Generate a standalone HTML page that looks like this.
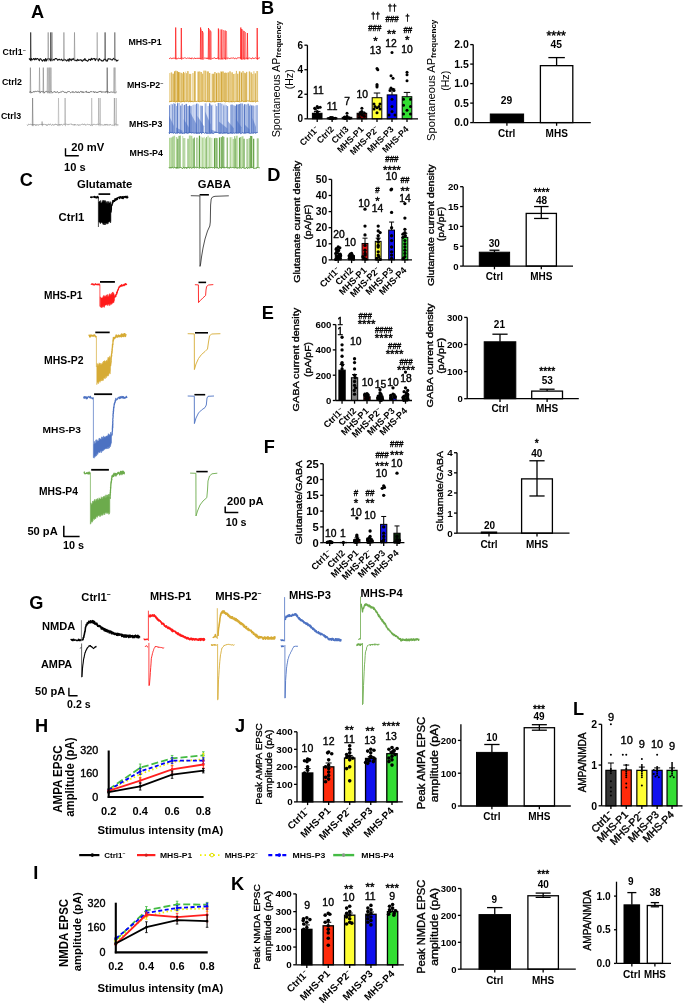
<!DOCTYPE html>
<html><head><meta charset="utf-8"><title>Figure</title>
<style>
html,body{margin:0;padding:0;background:#fff;}
body{width:685px;height:1006px;overflow:hidden;}
svg{display:block;filter:blur(0.3px);}
text{font-family:"Liberation Sans", sans-serif;}
</style></head>
<body>
<svg width="685" height="1006" viewBox="0 0 685 1006" font-family="Liberation Sans, sans-serif">
<rect x="0" y="0" width="685" height="1006" fill="#fff"/>
<text x="31.05" y="18.22" font-size="18.2" font-weight="bold" text-anchor="start" fill="#000">A</text>
<text x="2.60" y="54.85" font-size="8.8" font-weight="bold" text-anchor="start" fill="#000">Ctrl1<tspan font-size="5.3" dy="-3.2">~</tspan></text>
<text x="1.90" y="84.95" font-size="8.8" font-weight="bold" text-anchor="start" fill="#000">Ctrl2</text>
<text x="1.00" y="118.55" font-size="8.8" font-weight="bold" text-anchor="start" fill="#000">Ctrl3</text>
<text x="128.40" y="45.15" font-size="8.8" font-weight="bold" text-anchor="start" fill="#000">MHS-P1</text>
<text x="127.00" y="87.85" font-size="8.8" font-weight="bold" text-anchor="start" fill="#000">MHS-P2<tspan font-size="5.3" dy="-3.2">~</tspan></text>
<text x="129.10" y="126.65" font-size="8.8" font-weight="bold" text-anchor="start" fill="#000">MHS-P3</text>
<text x="129.60" y="155.85" font-size="8.8" font-weight="bold" text-anchor="start" fill="#000">MHS-P4</text>
<path d="M28.90,59.27 L29.70,58.75 L30.50,60.25 L31.30,58.52 L32.10,59.91 L32.90,59.40 L33.70,58.47 L34.50,59.82 L35.30,58.41 L36.10,59.60 L36.90,58.51 L37.70,58.57 L38.50,59.57 L39.30,60.78 L40.10,58.67 L40.90,58.97 L41.70,60.18 L42.50,61.14 L43.30,60.03 L44.10,59.49 L44.90,61.23 L45.70,58.44 L46.50,60.88 L47.30,59.17 L48.10,58.73 L48.90,58.65 L49.70,59.23 L50.50,60.75 L51.30,58.84 L52.10,60.04 L52.90,60.22 L53.70,59.42 L54.50,59.94 L55.30,58.49 L56.10,58.48 L56.90,58.92 L57.70,60.34 L58.50,59.58 L59.30,59.24 L60.10,60.06 L60.90,59.66 L61.70,59.20 L62.50,60.68 L63.30,60.40 L64.10,59.03 L64.90,60.02 L65.70,59.88 L66.50,60.93 L67.30,60.49 L68.10,59.16 L68.90,61.24 L69.70,58.65 L70.50,59.55 L71.30,60.57 L72.10,58.76 L72.90,59.77 L73.70,58.42 L74.50,60.30 L75.30,60.59 L76.10,60.02 L76.90,60.93 L77.70,59.24 L78.50,60.39 L79.30,60.08 L80.10,60.04 L80.90,59.67 L81.70,60.82 L82.50,61.13 L83.30,59.72 L84.10,60.29 L84.90,58.48 L85.70,60.40 L86.50,60.24 L87.30,61.28 L88.10,60.77 L88.90,59.15 L89.70,59.46 L90.50,60.31 L91.30,58.37 L92.10,59.69 L92.90,58.80 L93.70,58.65 L94.50,58.48 L95.30,60.60 L96.10,58.69 L96.90,59.04 L97.70,59.47 L98.50,60.91 L99.30,58.54 L100.10,59.65 L100.90,59.95 L101.70,60.95 L102.50,60.76 L103.30,60.89 L104.10,59.14 L104.90,59.55 L105.70,59.38 L106.50,60.95 L107.30,61.17 L108.10,58.75 L108.90,58.83 L109.70,59.00 L110.50,59.00 L111.30,59.75 L112.10,60.07 L112.90,59.09 L113.70,58.31 L114.50,59.56 L115.30,59.41 L116.10,60.00 L116.90,61.16 L117.70,60.37 L118.50,59.85" stroke="#111" stroke-width="1.1" fill="none" stroke-linejoin="round"/>
<path d="M30.40,60.30 L30.70,32.40 L31.10,61.30" stroke="#000" stroke-width="0.6" fill="none" stroke-linejoin="round"/>
<path d="M47.90,60.30 L48.20,32.40 L48.60,61.30" stroke="#888" stroke-width="0.6" fill="none" stroke-linejoin="round"/>
<path d="M50.50,60.30 L50.80,32.40 L51.20,61.30" stroke="#111" stroke-width="0.6" fill="none" stroke-linejoin="round"/>
<path d="M51.70,60.30 L52.00,32.40 L52.40,61.30" stroke="#777" stroke-width="0.6" fill="none" stroke-linejoin="round"/>
<path d="M63.60,60.30 L63.90,32.40 L64.30,61.30" stroke="#888" stroke-width="0.6" fill="none" stroke-linejoin="round"/>
<path d="M74.20,60.30 L74.50,32.40 L74.90,61.30" stroke="#888" stroke-width="0.6" fill="none" stroke-linejoin="round"/>
<path d="M96.90,60.30 L97.20,32.40 L97.60,61.30" stroke="#999" stroke-width="0.6" fill="none" stroke-linejoin="round"/>
<path d="M104.80,60.30 L105.10,32.40 L105.50,61.30" stroke="#333" stroke-width="0.6" fill="none" stroke-linejoin="round"/>
<path d="M114.50,60.30 L114.80,32.40 L115.20,61.30" stroke="#555" stroke-width="0.6" fill="none" stroke-linejoin="round"/>
<path d="M29.40,92.19 L29.90,92.28 L30.40,91.29 L30.90,92.64 L31.40,92.45 L31.90,92.60 L32.40,92.48 L32.90,91.83 L33.40,91.84 L33.90,91.37 L34.40,92.21 L34.90,91.30 L35.40,91.31 L35.90,91.53 L36.40,91.46 L36.90,91.74 L37.40,91.28 L37.90,91.20 L38.40,91.44 L38.90,91.36 L39.40,91.78 L39.90,91.24 L40.40,92.60 L40.90,92.18 L41.40,91.44 L41.90,91.60 L42.40,91.76 L42.90,91.78 L43.40,91.40 L43.90,92.56 L44.40,92.79 L44.90,91.95 L45.40,91.97 L45.90,91.34 L46.40,91.36 L46.90,91.75 L47.40,91.62 L47.90,92.53 L48.40,91.46 L48.90,91.24 L49.40,92.72 L49.90,92.05 L50.40,91.43 L50.90,92.07 L51.40,91.24 L51.90,92.04 L52.40,92.77 L52.90,92.58 L53.40,92.31 L53.90,91.62 L54.40,91.79 L54.90,91.47 L55.40,92.44 L55.90,92.05 L56.40,92.45 L56.90,91.73 L57.40,91.56 L57.90,92.50 L58.40,92.78 L58.90,92.56 L59.40,92.49 L59.90,92.51 L60.40,92.38 L60.90,91.56 L61.40,92.03 L61.90,91.77 L62.40,91.25 L62.90,91.24 L63.40,91.65 L63.90,91.61 L64.40,92.31 L64.90,92.73 L65.40,91.92 L65.90,92.70 L66.40,92.78 L66.90,92.73 L67.40,91.78 L67.90,91.55 L68.40,91.56 L68.90,91.51 L69.40,91.53 L69.90,92.20 L70.40,92.64 L70.90,92.54 L71.40,91.97 L71.90,92.24 L72.40,92.48 L72.90,91.34 L73.40,92.26 L73.90,92.66 L74.40,92.45 L74.90,92.40 L75.40,91.96 L75.90,91.49 L76.40,92.46 L76.90,91.73 L77.40,92.48 L77.90,92.75 L78.40,91.83 L78.90,91.84 L79.40,92.71 L79.90,92.36 L80.40,91.47 L80.90,91.40 L81.40,91.44 L81.90,92.65 L82.40,92.49 L82.90,91.43 L83.40,92.52 L83.90,92.77 L84.40,92.25 L84.90,91.76 L85.40,92.08 L85.90,91.41 L86.40,91.22 L86.90,92.75 L87.40,92.24 L87.90,92.04 L88.40,92.69 L88.90,91.89 L89.40,92.59 L89.90,92.52 L90.40,91.54 L90.90,91.60 L91.40,91.67 L91.90,91.58 L92.40,92.14 L92.90,91.61 L93.40,91.87 L93.90,91.41 L94.40,92.66 L94.90,91.77 L95.40,91.93 L95.90,92.13 L96.40,92.65 L96.90,91.87 L97.40,92.67 L97.90,92.00 L98.40,92.05 L98.90,92.04 L99.40,91.23 L99.90,91.90 L100.40,91.49 L100.90,91.21 L101.40,92.48 L101.90,91.48 L102.40,91.96 L102.90,92.36 L103.40,92.09 L103.90,91.72 L104.40,92.03 L104.90,92.09 L105.40,92.45 L105.90,91.37 L106.40,92.10 L106.90,91.60 L107.40,91.64 L107.90,92.44 L108.40,92.01 L108.90,92.10 L109.40,92.42 L109.90,92.66 L110.40,91.91 L110.90,92.18 L111.40,92.01 L111.90,92.02 L112.40,92.31 L112.90,91.92 L113.40,92.05 L113.90,91.96 L114.40,92.71 L114.90,92.32 L115.40,92.60 L115.90,92.71 L116.40,91.62" stroke="#555" stroke-width="0.8" fill="none" stroke-linejoin="round"/>
<path d="M30.10,92.50 L30.40,67.60 L30.80,93.50" stroke="#777" stroke-width="0.55" fill="none" stroke-linejoin="round"/>
<path d="M39.20,92.50 L39.50,67.60 L39.90,93.50" stroke="#888" stroke-width="0.55" fill="none" stroke-linejoin="round"/>
<path d="M43.00,92.50 L43.30,67.60 L43.70,93.50" stroke="#777" stroke-width="0.55" fill="none" stroke-linejoin="round"/>
<path d="M47.10,92.50 L47.40,67.60 L47.80,93.50" stroke="#999" stroke-width="0.55" fill="none" stroke-linejoin="round"/>
<path d="M48.30,92.50 L48.60,67.60 L49.00,93.50" stroke="#aaa" stroke-width="0.55" fill="none" stroke-linejoin="round"/>
<path d="M49.10,92.50 L49.40,67.60 L49.80,93.50" stroke="#999" stroke-width="0.55" fill="none" stroke-linejoin="round"/>
<path d="M49.90,92.50 L50.20,67.60 L50.60,93.50" stroke="#aaa" stroke-width="0.55" fill="none" stroke-linejoin="round"/>
<path d="M50.70,92.50 L51.00,67.60 L51.40,93.50" stroke="#999" stroke-width="0.55" fill="none" stroke-linejoin="round"/>
<path d="M106.90,92.50 L107.20,67.60 L107.60,93.50" stroke="#444" stroke-width="0.55" fill="none" stroke-linejoin="round"/>
<path d="M113.60,92.50 L113.90,67.60 L114.30,93.50" stroke="#aaa" stroke-width="0.55" fill="none" stroke-linejoin="round"/>
<path d="M114.30,92.50 L114.60,67.60 L115.00,93.50" stroke="#999" stroke-width="0.55" fill="none" stroke-linejoin="round"/>
<path d="M115.10,92.50 L115.40,67.60 L115.80,93.50" stroke="#bbb" stroke-width="0.55" fill="none" stroke-linejoin="round"/>
<path d="M27.00,124.80 L27.50,125.41 L28.00,125.24 L28.50,124.12 L29.00,124.09 L29.50,124.61 L30.00,124.02 L30.50,124.29 L31.00,124.02 L31.50,124.97 L32.00,125.15 L32.50,125.34 L33.00,124.15 L33.50,125.05 L34.00,124.96 L34.50,124.13 L35.00,125.31 L35.50,125.45 L36.00,124.25 L36.50,125.42 L37.00,124.54 L37.50,124.68 L38.00,125.48 L38.50,125.23 L39.00,124.16 L39.50,124.59 L40.00,124.72 L40.50,124.44 L41.00,124.21 L41.50,124.41 L42.00,125.06 L42.50,123.93 L43.00,124.79 L43.50,124.60 L44.00,123.93 L44.50,124.43 L45.00,124.90 L45.50,124.72 L46.00,124.00 L46.50,125.48 L47.00,125.16 L47.50,125.45 L48.00,124.07 L48.50,124.32 L49.00,123.96 L49.50,125.15 L50.00,124.33 L50.50,124.11 L51.00,124.58 L51.50,125.36 L52.00,125.21 L52.50,124.31 L53.00,124.14 L53.50,125.37 L54.00,124.81 L54.50,125.02 L55.00,124.04 L55.50,123.99 L56.00,125.00 L56.50,124.58 L57.00,124.02 L57.50,125.40 L58.00,124.92 L58.50,125.18 L59.00,124.03 L59.50,125.27 L60.00,124.01 L60.50,125.28 L61.00,124.63 L61.50,124.44 L62.00,124.78 L62.50,125.38 L63.00,124.33 L63.50,124.11 L64.00,124.74 L64.50,124.28 L65.00,124.08 L65.50,124.16 L66.00,123.98 L66.50,124.22 L67.00,124.40 L67.50,124.39 L68.00,125.12 L68.50,124.36 L69.00,124.70 L69.50,124.18 L70.00,124.46 L70.50,123.93 L71.00,124.30 L71.50,123.92 L72.00,125.07 L72.50,124.78 L73.00,124.20 L73.50,124.66 L74.00,125.40 L74.50,124.07 L75.00,125.21 L75.50,124.59 L76.00,124.69 L76.50,125.24 L77.00,124.53 L77.50,124.71 L78.00,125.00 L78.50,125.47 L79.00,124.45 L79.50,125.23 L80.00,125.03 L80.50,124.92 L81.00,124.55 L81.50,124.46 L82.00,123.99 L82.50,124.11 L83.00,124.01 L83.50,125.09 L84.00,124.31 L84.50,124.16 L85.00,124.04 L85.50,125.25 L86.00,125.29 L86.50,124.97 L87.00,124.35 L87.50,124.29 L88.00,124.37 L88.50,124.64 L89.00,124.15 L89.50,124.61 L90.00,124.32 L90.50,125.44 L91.00,125.46 L91.50,124.78 L92.00,124.29 L92.50,125.45 L93.00,124.40 L93.50,124.47 L94.00,123.90 L94.50,124.51 L95.00,124.66 L95.50,124.70 L96.00,124.22 L96.50,124.71 L97.00,123.91 L97.50,124.32 L98.00,124.04 L98.50,124.54 L99.00,123.97 L99.50,123.94 L100.00,124.39 L100.50,124.27 L101.00,124.84 L101.50,124.75 L102.00,125.10 L102.50,124.95 L103.00,125.05 L103.50,125.31 L104.00,124.52 L104.50,124.42 L105.00,125.48 L105.50,124.14 L106.00,125.06 L106.50,124.93 L107.00,123.97 L107.50,125.24 L108.00,125.33 L108.50,124.90 L109.00,125.07 L109.50,125.20 L110.00,124.12 L110.50,124.74 L111.00,124.71 L111.50,125.24 L112.00,125.19 L112.50,125.22 L113.00,124.83 L113.50,125.33 L114.00,124.99 L114.50,125.01 L115.00,124.27 L115.50,123.95 L116.00,124.11 L116.50,124.48 L117.00,124.07 L117.50,125.24 L118.00,124.79 L118.50,124.90" stroke="#999" stroke-width="0.8" fill="none" stroke-linejoin="round"/>
<path d="M32.30,125.20 L32.60,98.00 L33.00,126.20" stroke="#666" stroke-width="0.55" fill="none" stroke-linejoin="round"/>
<path d="M41.80,125.20 L42.10,121.50 L42.50,126.20" stroke="#888" stroke-width="0.55" fill="none" stroke-linejoin="round"/>
<path d="M58.20,125.20 L58.50,98.00 L58.90,126.20" stroke="#aaa" stroke-width="0.55" fill="none" stroke-linejoin="round"/>
<path d="M64.80,125.20 L65.10,98.00 L65.50,126.20" stroke="#999" stroke-width="0.55" fill="none" stroke-linejoin="round"/>
<path d="M91.40,125.20 L91.70,98.00 L92.10,126.20" stroke="#aaa" stroke-width="0.55" fill="none" stroke-linejoin="round"/>
<path d="M98.40,125.20 L98.70,98.00 L99.10,126.20" stroke="#999" stroke-width="0.55" fill="none" stroke-linejoin="round"/>
<path d="M99.90,125.20 L100.20,98.00 L100.60,126.20" stroke="#aaa" stroke-width="0.55" fill="none" stroke-linejoin="round"/>
<path d="M114.10,125.20 L114.40,98.00 L114.80,126.20" stroke="#888" stroke-width="0.55" fill="none" stroke-linejoin="round"/>
<path d="M115.90,125.20 L116.20,98.00 L116.60,126.20" stroke="#aaa" stroke-width="0.55" fill="none" stroke-linejoin="round"/>
<path d="M169.00,58.45 L169.50,58.52 L170.00,58.29 L170.50,57.70 L171.00,58.66 L171.50,58.60 L172.00,58.30 L172.50,58.34 L173.00,58.49 L173.50,57.78 L174.00,58.58 L174.50,58.00 L175.00,57.79 L175.50,58.02 L176.00,58.58 L176.50,57.95 L177.00,58.59 L177.50,58.87 L178.00,58.29 L178.50,58.16 L179.00,58.27 L179.50,58.52 L180.00,58.62 L180.50,58.44 L181.00,58.47 L181.50,57.79 L182.00,57.88 L182.50,58.00 L183.00,58.59 L183.50,58.07 L184.00,58.38 L184.50,57.71 L185.00,57.77 L185.50,58.02 L186.00,58.51 L186.50,58.53 L187.00,58.51 L187.50,58.05 L188.00,58.32 L188.50,58.26 L189.00,58.26 L189.50,57.84 L190.00,58.77 L190.50,57.94 L191.00,58.87 L191.50,58.82 L192.00,57.72 L192.50,58.25 L193.00,58.68 L193.50,58.86 L194.00,58.24 L194.50,58.02 L195.00,57.95 L195.50,58.83 L196.00,57.95 L196.50,58.40 L197.00,57.87 L197.50,58.33 L198.00,58.84 L198.50,57.86 L199.00,58.68 L199.50,58.31 L200.00,58.76 L200.50,58.54 L201.00,57.98 L201.50,58.78 L202.00,58.28 L202.50,57.73 L203.00,57.70 L203.50,58.29 L204.00,58.24 L204.50,58.06 L205.00,57.87 L205.50,58.11 L206.00,58.08 L206.50,58.71 L207.00,57.70 L207.50,58.60 L208.00,58.71 L208.50,57.84 L209.00,58.81 L209.50,58.56 L210.00,58.78 L210.50,58.05 L211.00,58.15 L211.50,58.17 L212.00,58.90 L212.50,58.41 L213.00,58.13 L213.50,58.21 L214.00,58.03 L214.50,57.76 L215.00,57.82 L215.50,58.70 L216.00,58.04 L216.50,58.82 L217.00,58.00 L217.50,58.02 L218.00,58.31 L218.50,57.93 L219.00,58.15 L219.50,58.85 L220.00,58.76 L220.50,58.67 L221.00,58.46 L221.50,58.80 L222.00,58.83 L222.50,58.36 L223.00,58.56 L223.50,57.76 L224.00,58.58 L224.50,58.24 L225.00,58.60 L225.50,58.47 L226.00,58.04 L226.50,57.76 L227.00,58.81 L227.50,57.85 L228.00,58.27 L228.50,58.11 L229.00,58.06 L229.50,58.59 L230.00,58.87 L230.50,58.01 L231.00,58.49 L231.50,58.06 L232.00,58.37 L232.50,58.17 L233.00,57.90 L233.50,57.89 L234.00,57.95 L234.50,58.79 L235.00,58.30 L235.50,57.96 L236.00,58.79 L236.50,58.90 L237.00,58.24 L237.50,57.87 L238.00,57.93 L238.50,57.81 L239.00,58.11 L239.50,57.81 L240.00,57.99 L240.50,58.01 L241.00,58.38 L241.50,58.76 L242.00,58.60 L242.50,58.20 L243.00,58.20 L243.50,58.33 L244.00,58.15 L244.50,58.11 L245.00,57.77 L245.50,58.03 L246.00,58.86 L246.50,57.85 L247.00,58.30 L247.50,58.46 L248.00,58.74 L248.50,57.96 L249.00,58.03 L249.50,58.00 L250.00,58.18 L250.50,58.24 L251.00,58.84 L251.50,58.72 L252.00,58.75 L252.50,57.73 L253.00,57.74 L253.50,58.55 L254.00,58.77 L254.50,58.27 L255.00,58.40 L255.50,57.70 L256.00,58.17 L256.50,58.81 L257.00,58.69 L257.50,58.73 L258.00,58.87 L258.50,58.00 L259.00,57.83 L259.50,57.89 L260.00,58.33" stroke="#ff1010" stroke-width="0.8" fill="none" stroke-linejoin="round"/>
<path d="M175.40,58.80 L175.70,27.50 L176.10,59.80" stroke="#ff1010" stroke-width="0.7" fill="none" stroke-linejoin="round"/>
<path d="M181.00,58.80 L181.30,28.00 L181.70,59.80" stroke="#ff1010" stroke-width="0.7" fill="none" stroke-linejoin="round"/>
<path d="M200.30,58.80 L200.60,27.50 L201.00,59.80" stroke="#ff1010" stroke-width="0.7" fill="none" stroke-linejoin="round"/>
<path d="M201.20,58.80 L201.50,29.50 L201.90,59.80" stroke="#ff7070" stroke-width="0.7" fill="none" stroke-linejoin="round"/>
<path d="M202.10,58.80 L202.40,31.00 L202.80,59.80" stroke="#ff1010" stroke-width="0.7" fill="none" stroke-linejoin="round"/>
<path d="M202.90,58.80 L203.20,32.50 L203.60,59.80" stroke="#ff7070" stroke-width="0.7" fill="none" stroke-linejoin="round"/>
<path d="M208.20,58.80 L208.50,28.00 L208.90,59.80" stroke="#ff1010" stroke-width="0.7" fill="none" stroke-linejoin="round"/>
<path d="M209.00,58.80 L209.30,29.00 L209.70,59.80" stroke="#ff7070" stroke-width="0.7" fill="none" stroke-linejoin="round"/>
<path d="M209.90,58.80 L210.20,30.50 L210.60,59.80" stroke="#ff1010" stroke-width="0.7" fill="none" stroke-linejoin="round"/>
<path d="M210.70,58.80 L211.00,31.50 L211.40,59.80" stroke="#ff7070" stroke-width="0.7" fill="none" stroke-linejoin="round"/>
<path d="M218.10,58.80 L218.40,28.50 L218.80,59.80" stroke="#ff1010" stroke-width="0.7" fill="none" stroke-linejoin="round"/>
<path d="M219.90,58.80 L220.20,29.50 L220.60,59.80" stroke="#ff7070" stroke-width="0.7" fill="none" stroke-linejoin="round"/>
<path d="M221.50,58.80 L221.80,29.50 L222.20,59.80" stroke="#ff1010" stroke-width="0.7" fill="none" stroke-linejoin="round"/>
<path d="M223.10,58.80 L223.40,30.00 L223.80,59.80" stroke="#ff7070" stroke-width="0.7" fill="none" stroke-linejoin="round"/>
<path d="M224.80,58.80 L225.10,30.50 L225.50,59.80" stroke="#ff1010" stroke-width="0.7" fill="none" stroke-linejoin="round"/>
<path d="M226.20,58.80 L226.50,31.00 L226.90,59.80" stroke="#ff7070" stroke-width="0.7" fill="none" stroke-linejoin="round"/>
<path d="M240.50,58.80 L240.80,27.50 L241.20,59.80" stroke="#ff1010" stroke-width="0.7" fill="none" stroke-linejoin="round"/>
<path d="M241.50,58.80 L241.80,29.00 L242.20,59.80" stroke="#ff1010" stroke-width="0.7" fill="none" stroke-linejoin="round"/>
<path d="M242.50,58.80 L242.80,30.00 L243.20,59.80" stroke="#ff7070" stroke-width="0.7" fill="none" stroke-linejoin="round"/>
<path d="M243.70,58.80 L244.00,31.00 L244.40,59.80" stroke="#ff1010" stroke-width="0.7" fill="none" stroke-linejoin="round"/>
<path d="M245.20,58.80 L245.50,32.00 L245.90,59.80" stroke="#ff7070" stroke-width="0.7" fill="none" stroke-linejoin="round"/>
<path d="M247.10,58.80 L247.40,33.00 L247.80,59.80" stroke="#ff1010" stroke-width="0.7" fill="none" stroke-linejoin="round"/>
<path d="M256.90,58.80 L257.20,28.00 L257.60,59.80" stroke="#ff1010" stroke-width="0.7" fill="none" stroke-linejoin="round"/>
<rect x="169.00" y="73.03" width="1.59" height="28.47" fill="#eed9a2"/>
<rect x="170.59" y="72.43" width="1.69" height="29.07" fill="#eed9a2"/>
<line x1="171.43" y1="101.50" x2="171.43" y2="72.43" stroke="#cfa231" stroke-width="0.5237277552546532"/>
<rect x="172.28" y="73.72" width="1.72" height="27.78" fill="#eed9a2"/>
<line x1="173.14" y1="101.50" x2="173.14" y2="73.72" stroke="#cfa231" stroke-width="0.8873034658209455"/>
<rect x="174.00" y="71.38" width="1.09" height="30.12" fill="#eed9a2"/>
<line x1="174.55" y1="101.50" x2="174.55" y2="71.38" stroke="#cfa231" stroke-width="0.8817746584300571"/>
<rect x="175.09" y="70.75" width="1.61" height="30.75" fill="#eed9a2"/>
<line x1="175.90" y1="101.50" x2="175.90" y2="70.75" stroke="#cfa231" stroke-width="0.8146620092252215"/>
<rect x="176.70" y="71.28" width="1.46" height="30.22" fill="#eed9a2"/>
<line x1="177.43" y1="101.50" x2="177.43" y2="71.28" stroke="#cfa231" stroke-width="0.8606365382722856"/>
<rect x="178.16" y="72.11" width="0.71" height="29.39" fill="#eed9a2"/>
<line x1="178.52" y1="101.50" x2="178.52" y2="72.11" stroke="#cfa231" stroke-width="1.0753639831380113"/>
<rect x="178.87" y="72.16" width="1.54" height="29.34" fill="#e2c06a"/>
<rect x="180.41" y="72.97" width="1.02" height="28.53" fill="#e2c06a"/>
<rect x="181.43" y="72.86" width="0.73" height="28.64" fill="#eed9a2"/>
<line x1="181.80" y1="101.50" x2="181.80" y2="72.86" stroke="#cfa231" stroke-width="0.7520095232773962"/>
<rect x="182.16" y="73.74" width="1.03" height="27.76" fill="#e2c06a"/>
<rect x="183.19" y="71.97" width="0.74" height="29.53" fill="#eed9a2"/>
<line x1="183.57" y1="101.50" x2="183.57" y2="71.97" stroke="#cfa231" stroke-width="0.9095400097803393"/>
<rect x="183.94" y="73.09" width="0.96" height="28.41" fill="#e2c06a"/>
<rect x="184.90" y="71.59" width="0.97" height="29.91" fill="#eed9a2"/>
<rect x="185.86" y="73.16" width="1.00" height="28.34" fill="#eed9a2"/>
<line x1="186.36" y1="101.50" x2="186.36" y2="73.16" stroke="#cfa231" stroke-width="0.6769597103104356"/>
<rect x="186.86" y="71.16" width="1.94" height="30.34" fill="#eed9a2"/>
<line x1="187.83" y1="101.50" x2="187.83" y2="71.16" stroke="#cfa231" stroke-width="0.6339944831358764"/>
<rect x="188.80" y="73.82" width="1.24" height="27.68" fill="#e2c06a"/>
<rect x="190.04" y="73.91" width="1.21" height="27.59" fill="#eed9a2"/>
<line x1="190.65" y1="101.50" x2="190.65" y2="73.91" stroke="#cfa231" stroke-width="0.5851466465684098"/>
<rect x="192.02" y="73.06" width="1.87" height="28.44" fill="#eed9a2"/>
<rect x="193.89" y="71.15" width="1.91" height="30.35" fill="#eed9a2"/>
<line x1="194.84" y1="101.50" x2="194.84" y2="71.15" stroke="#cfa231" stroke-width="1.0615289309239277"/>
<rect x="197.47" y="71.66" width="1.19" height="29.84" fill="#eed9a2"/>
<line x1="198.07" y1="101.50" x2="198.07" y2="71.66" stroke="#cfa231" stroke-width="0.601556565354575"/>
<rect x="198.66" y="71.73" width="0.70" height="29.77" fill="#eed9a2"/>
<line x1="199.01" y1="101.50" x2="199.01" y2="71.73" stroke="#cfa231" stroke-width="1.0733088994853466"/>
<rect x="199.37" y="71.23" width="0.86" height="30.27" fill="#e2c06a"/>
<rect x="200.23" y="72.01" width="1.77" height="29.49" fill="#e2c06a"/>
<rect x="202.00" y="73.72" width="1.32" height="27.78" fill="#eed9a2"/>
<line x1="202.65" y1="101.50" x2="202.65" y2="73.72" stroke="#cfa231" stroke-width="0.6158157124667281"/>
<rect x="203.31" y="70.61" width="1.17" height="30.89" fill="#e2c06a"/>
<rect x="204.48" y="70.64" width="1.76" height="30.86" fill="#e2c06a"/>
<rect x="206.24" y="71.40" width="0.78" height="30.10" fill="#eed9a2"/>
<rect x="207.02" y="71.45" width="1.87" height="30.05" fill="#eed9a2"/>
<line x1="207.95" y1="101.50" x2="207.95" y2="71.45" stroke="#cfa231" stroke-width="1.0746137631852735"/>
<rect x="208.89" y="73.01" width="1.50" height="28.49" fill="#eed9a2"/>
<line x1="209.64" y1="101.50" x2="209.64" y2="73.01" stroke="#cfa231" stroke-width="0.6898901786993209"/>
<rect x="211.45" y="73.80" width="1.89" height="27.70" fill="#eed9a2"/>
<line x1="212.40" y1="101.50" x2="212.40" y2="73.80" stroke="#cfa231" stroke-width="0.514554022964917"/>
<rect x="213.34" y="73.85" width="1.00" height="27.65" fill="#eed9a2"/>
<line x1="213.84" y1="101.50" x2="213.84" y2="73.85" stroke="#cfa231" stroke-width="1.0723463480607718"/>
<rect x="214.34" y="72.00" width="1.20" height="29.50" fill="#eed9a2"/>
<line x1="214.95" y1="101.50" x2="214.95" y2="72.00" stroke="#cfa231" stroke-width="0.7960843062372831"/>
<rect x="215.55" y="73.31" width="1.91" height="28.19" fill="#eed9a2"/>
<line x1="216.50" y1="101.50" x2="216.50" y2="73.31" stroke="#cfa231" stroke-width="0.9430928079932098"/>
<rect x="217.45" y="72.63" width="1.77" height="28.87" fill="#e2c06a"/>
<rect x="219.22" y="73.24" width="1.12" height="28.26" fill="#eed9a2"/>
<line x1="219.78" y1="101.50" x2="219.78" y2="73.24" stroke="#cfa231" stroke-width="0.5474089228148078"/>
<rect x="220.34" y="71.37" width="0.96" height="30.13" fill="#e2c06a"/>
<rect x="221.30" y="71.64" width="0.74" height="29.86" fill="#eed9a2"/>
<line x1="221.67" y1="101.50" x2="221.67" y2="71.64" stroke="#cfa231" stroke-width="1.08815346252868"/>
<rect x="222.04" y="71.43" width="1.85" height="30.07" fill="#e2c06a"/>
<rect x="223.89" y="72.98" width="0.83" height="28.52" fill="#eed9a2"/>
<line x1="224.30" y1="101.50" x2="224.30" y2="72.98" stroke="#cfa231" stroke-width="0.7681778617494934"/>
<rect x="224.71" y="72.67" width="1.00" height="28.83" fill="#eed9a2"/>
<line x1="225.22" y1="101.50" x2="225.22" y2="72.67" stroke="#cfa231" stroke-width="0.9044651712548731"/>
<rect x="225.72" y="72.83" width="1.67" height="28.67" fill="#e2c06a"/>
<rect x="227.39" y="72.48" width="1.79" height="29.02" fill="#eed9a2"/>
<line x1="228.29" y1="101.50" x2="228.29" y2="72.48" stroke="#cfa231" stroke-width="0.7237826224597834"/>
<rect x="229.18" y="71.37" width="1.66" height="30.13" fill="#eed9a2"/>
<line x1="230.01" y1="101.50" x2="230.01" y2="71.37" stroke="#cfa231" stroke-width="0.6472041781343698"/>
<rect x="230.84" y="72.52" width="0.90" height="28.98" fill="#e2c06a"/>
<rect x="231.74" y="72.28" width="1.21" height="29.22" fill="#e2c06a"/>
<rect x="232.96" y="73.97" width="1.75" height="27.53" fill="#e2c06a"/>
<rect x="234.71" y="73.44" width="1.32" height="28.06" fill="#eed9a2"/>
<rect x="236.03" y="70.92" width="0.75" height="30.58" fill="#eed9a2"/>
<line x1="236.40" y1="101.50" x2="236.40" y2="70.92" stroke="#cfa231" stroke-width="0.6137439084075091"/>
<rect x="236.78" y="73.76" width="1.96" height="27.74" fill="#eed9a2"/>
<line x1="237.76" y1="101.50" x2="237.76" y2="73.76" stroke="#cfa231" stroke-width="0.7233421780735358"/>
<rect x="238.74" y="71.41" width="1.83" height="30.09" fill="#eed9a2"/>
<line x1="239.66" y1="101.50" x2="239.66" y2="71.41" stroke="#cfa231" stroke-width="0.9666657656345765"/>
<rect x="240.57" y="72.59" width="1.93" height="28.91" fill="#eed9a2"/>
<line x1="241.53" y1="101.50" x2="241.53" y2="72.59" stroke="#cfa231" stroke-width="0.8719687879817171"/>
<rect x="242.50" y="70.99" width="0.98" height="30.51" fill="#eed9a2"/>
<line x1="242.99" y1="101.50" x2="242.99" y2="70.99" stroke="#cfa231" stroke-width="0.6223858624691088"/>
<rect x="243.48" y="72.78" width="1.03" height="28.72" fill="#eed9a2"/>
<line x1="244.00" y1="101.50" x2="244.00" y2="72.78" stroke="#cfa231" stroke-width="0.6220650739136802"/>
<rect x="244.51" y="72.87" width="0.71" height="28.63" fill="#eed9a2"/>
<line x1="244.87" y1="101.50" x2="244.87" y2="72.87" stroke="#cfa231" stroke-width="0.6110870597705862"/>
<rect x="245.23" y="73.28" width="1.11" height="28.22" fill="#eed9a2"/>
<line x1="245.78" y1="101.50" x2="245.78" y2="73.28" stroke="#cfa231" stroke-width="0.8288269004978553"/>
<rect x="246.33" y="71.88" width="0.78" height="29.62" fill="#eed9a2"/>
<line x1="246.72" y1="101.50" x2="246.72" y2="71.88" stroke="#cfa231" stroke-width="0.8300825662369378"/>
<rect x="248.65" y="71.49" width="1.60" height="30.01" fill="#eed9a2"/>
<line x1="249.45" y1="101.50" x2="249.45" y2="71.49" stroke="#cfa231" stroke-width="0.6845574576460363"/>
<rect x="250.25" y="72.48" width="1.94" height="29.02" fill="#eed9a2"/>
<line x1="251.22" y1="101.50" x2="251.22" y2="72.48" stroke="#cfa231" stroke-width="0.7143090296421052"/>
<rect x="252.19" y="73.99" width="1.24" height="27.51" fill="#e2c06a"/>
<rect x="253.43" y="71.21" width="0.96" height="30.29" fill="#e2c06a"/>
<rect x="254.39" y="73.37" width="1.87" height="28.13" fill="#eed9a2"/>
<line x1="255.32" y1="101.50" x2="255.32" y2="73.37" stroke="#cfa231" stroke-width="0.7437306102117702"/>
<rect x="256.26" y="71.07" width="1.85" height="30.43" fill="#eed9a2"/>
<line x1="257.18" y1="101.50" x2="257.18" y2="71.07" stroke="#cfa231" stroke-width="0.5089006247447225"/>
<path d="M169.00,101.57 L169.50,101.70 L170.00,102.07 L170.50,100.92 L171.00,101.67 L171.50,101.32 L172.00,101.51 L172.50,101.00 L173.00,101.20 L173.50,101.53 L174.00,102.10 L174.50,100.95 L175.00,101.49 L175.50,101.93 L176.00,102.15 L176.50,101.08 L177.00,100.98 L177.50,102.12 L178.00,102.17 L178.50,101.48 L179.00,100.87 L179.50,102.10 L180.00,101.34 L180.50,102.07 L181.00,101.67 L181.50,101.95 L182.00,101.02 L182.50,101.90 L183.00,101.11 L183.50,101.37 L184.00,101.98 L184.50,101.96 L185.00,101.06 L185.50,101.11 L186.00,101.36 L186.50,101.53 L187.00,101.34 L187.50,100.97 L188.00,101.15 L188.50,101.81 L189.00,102.06 L189.50,100.86 L190.00,101.59 L190.50,101.86 L191.00,100.85 L191.50,101.97 L192.00,100.96 L192.50,101.64 L193.00,101.57 L193.50,101.68 L194.00,101.23 L194.50,101.39 L195.00,101.62 L195.50,101.40 L196.00,101.72 L196.50,101.43 L197.00,101.41 L197.50,100.83 L198.00,101.67 L198.50,101.49 L199.00,101.13 L199.50,101.87 L200.00,101.89 L200.50,101.44 L201.00,101.05 L201.50,101.46 L202.00,100.95 L202.50,100.98 L203.00,101.40 L203.50,100.93 L204.00,101.42 L204.50,101.51 L205.00,100.86 L205.50,101.69 L206.00,100.92 L206.50,101.83 L207.00,101.89 L207.50,101.52 L208.00,100.88 L208.50,101.51 L209.00,101.33 L209.50,102.13 L210.00,100.99 L210.50,102.00 L211.00,102.19 L211.50,101.82 L212.00,101.94 L212.50,101.07 L213.00,102.17 L213.50,101.49 L214.00,102.14 L214.50,102.08 L215.00,101.03 L215.50,101.90 L216.00,102.10 L216.50,100.89 L217.00,101.29 L217.50,101.86 L218.00,101.02 L218.50,102.06 L219.00,101.18 L219.50,101.94 L220.00,101.00 L220.50,101.50 L221.00,102.09 L221.50,101.09 L222.00,101.17 L222.50,101.51 L223.00,101.25 L223.50,100.85 L224.00,101.05 L224.50,101.03 L225.00,102.11 L225.50,101.75 L226.00,102.05 L226.50,101.04 L227.00,101.90 L227.50,100.96 L228.00,101.54 L228.50,101.69 L229.00,101.30 L229.50,102.02 L230.00,101.58 L230.50,101.61 L231.00,102.04 L231.50,100.95 L232.00,102.19 L232.50,101.68 L233.00,101.35 L233.50,101.92 L234.00,101.17 L234.50,102.19 L235.00,101.61 L235.50,101.30 L236.00,101.87 L236.50,101.42 L237.00,101.05 L237.50,101.84 L238.00,100.87 L238.50,101.95 L239.00,101.16 L239.50,101.69 L240.00,102.18 L240.50,101.62 L241.00,101.73 L241.50,101.24 L242.00,100.80 L242.50,100.85 L243.00,101.01 L243.50,101.66 L244.00,101.41 L244.50,101.52 L245.00,102.05 L245.50,100.98 L246.00,101.12 L246.50,101.71 L247.00,100.83 L247.50,100.80 L248.00,101.30 L248.50,100.95 L249.00,101.30 L249.50,101.11 L250.00,101.62 L250.50,101.62 L251.00,101.09 L251.50,101.67 L252.00,101.46 L252.50,100.99 L253.00,102.11 L253.50,101.14 L254.00,101.01 L254.50,100.93 L255.00,101.69 L255.50,102.02 L256.00,101.90 L256.50,101.36 L257.00,101.17 L257.50,100.82 L258.00,101.70" stroke="#cfa231" stroke-width="1.0" fill="none" stroke-linejoin="round"/>
<rect x="169.00" y="105.26" width="1.43" height="27.74" fill="#bfcdee"/>
<line x1="169.72" y1="133.00" x2="169.72" y2="105.26" stroke="#4569bd" stroke-width="0.7662525427425568"/>
<rect x="170.43" y="103.87" width="1.92" height="29.13" fill="#bfcdee"/>
<rect x="172.35" y="104.42" width="0.76" height="28.58" fill="#bfcdee"/>
<line x1="172.73" y1="133.00" x2="172.73" y2="104.42" stroke="#4569bd" stroke-width="0.642601283606365"/>
<rect x="173.11" y="103.04" width="0.78" height="29.96" fill="#a3b8e4"/>
<rect x="173.88" y="103.70" width="1.92" height="29.30" fill="#bfcdee"/>
<line x1="174.84" y1="133.00" x2="174.84" y2="103.70" stroke="#4569bd" stroke-width="0.8648497818828838"/>
<rect x="175.81" y="105.85" width="1.36" height="27.15" fill="#a3b8e4"/>
<rect x="177.16" y="103.17" width="1.10" height="29.83" fill="#bfcdee"/>
<line x1="177.72" y1="133.00" x2="177.72" y2="103.17" stroke="#4569bd" stroke-width="1.0336114543272825"/>
<rect x="178.27" y="103.02" width="1.72" height="29.98" fill="#bfcdee"/>
<rect x="179.98" y="105.60" width="1.67" height="27.40" fill="#bfcdee"/>
<line x1="180.82" y1="133.00" x2="180.82" y2="105.60" stroke="#4569bd" stroke-width="0.7714923434349524"/>
<rect x="181.65" y="103.81" width="0.99" height="29.19" fill="#bfcdee"/>
<line x1="182.15" y1="133.00" x2="182.15" y2="103.81" stroke="#4569bd" stroke-width="0.52329053784877"/>
<rect x="182.65" y="105.43" width="1.14" height="27.57" fill="#bfcdee"/>
<rect x="183.78" y="104.94" width="1.63" height="28.06" fill="#bfcdee"/>
<line x1="184.60" y1="133.00" x2="184.60" y2="104.94" stroke="#4569bd" stroke-width="0.7616316334265487"/>
<rect x="185.41" y="103.93" width="1.72" height="29.07" fill="#bfcdee"/>
<line x1="186.27" y1="133.00" x2="186.27" y2="103.93" stroke="#4569bd" stroke-width="0.8852019113089322"/>
<rect x="187.13" y="106.08" width="1.95" height="26.92" fill="#bfcdee"/>
<line x1="188.11" y1="133.00" x2="188.11" y2="106.08" stroke="#4569bd" stroke-width="0.5091366239030789"/>
<rect x="189.09" y="105.60" width="1.04" height="27.40" fill="#bfcdee"/>
<line x1="189.61" y1="133.00" x2="189.61" y2="105.60" stroke="#4569bd" stroke-width="1.0668187372052058"/>
<rect x="190.13" y="106.08" width="1.67" height="26.92" fill="#bfcdee"/>
<line x1="190.96" y1="133.00" x2="190.96" y2="106.08" stroke="#4569bd" stroke-width="0.6971322354729366"/>
<rect x="191.80" y="105.21" width="1.01" height="27.79" fill="#bfcdee"/>
<rect x="192.81" y="104.64" width="1.56" height="28.36" fill="#bfcdee"/>
<rect x="194.37" y="104.53" width="1.61" height="28.47" fill="#bfcdee"/>
<rect x="195.98" y="103.74" width="1.44" height="29.26" fill="#bfcdee"/>
<line x1="196.70" y1="133.00" x2="196.70" y2="103.74" stroke="#4569bd" stroke-width="0.8735732417643023"/>
<rect x="197.42" y="103.51" width="0.80" height="29.49" fill="#a3b8e4"/>
<rect x="198.22" y="104.21" width="0.84" height="28.79" fill="#a3b8e4"/>
<rect x="199.80" y="105.58" width="1.52" height="27.42" fill="#a3b8e4"/>
<rect x="201.32" y="105.86" width="1.47" height="27.14" fill="#bfcdee"/>
<line x1="202.06" y1="133.00" x2="202.06" y2="105.86" stroke="#4569bd" stroke-width="0.9917379999185836"/>
<rect x="204.65" y="103.37" width="1.89" height="29.63" fill="#a3b8e4"/>
<rect x="207.38" y="105.89" width="1.76" height="27.11" fill="#bfcdee"/>
<rect x="209.14" y="103.34" width="1.07" height="29.66" fill="#bfcdee"/>
<line x1="209.67" y1="133.00" x2="209.67" y2="103.34" stroke="#4569bd" stroke-width="0.9544183387442835"/>
<rect x="210.21" y="104.48" width="0.97" height="28.52" fill="#bfcdee"/>
<line x1="210.70" y1="133.00" x2="210.70" y2="104.48" stroke="#4569bd" stroke-width="0.5125510767887569"/>
<rect x="211.18" y="105.51" width="1.03" height="27.49" fill="#bfcdee"/>
<line x1="211.70" y1="133.00" x2="211.70" y2="105.51" stroke="#4569bd" stroke-width="0.7208145912453569"/>
<rect x="212.21" y="104.76" width="1.12" height="28.24" fill="#bfcdee"/>
<rect x="214.83" y="104.21" width="1.27" height="28.79" fill="#bfcdee"/>
<rect x="216.10" y="106.02" width="1.40" height="26.98" fill="#bfcdee"/>
<line x1="216.80" y1="133.00" x2="216.80" y2="106.02" stroke="#4569bd" stroke-width="0.5545337240749936"/>
<rect x="217.50" y="103.00" width="1.77" height="30.00" fill="#bfcdee"/>
<line x1="218.38" y1="133.00" x2="218.38" y2="103.00" stroke="#4569bd" stroke-width="0.6212211010828673"/>
<rect x="219.27" y="103.02" width="1.69" height="29.98" fill="#a3b8e4"/>
<rect x="220.96" y="103.65" width="1.34" height="29.35" fill="#a3b8e4"/>
<rect x="222.29" y="103.91" width="1.15" height="29.09" fill="#bfcdee"/>
<rect x="223.45" y="105.45" width="1.07" height="27.55" fill="#bfcdee"/>
<line x1="223.98" y1="133.00" x2="223.98" y2="105.45" stroke="#4569bd" stroke-width="0.7989893622657256"/>
<rect x="224.52" y="103.28" width="0.84" height="29.72" fill="#bfcdee"/>
<rect x="225.36" y="105.20" width="1.61" height="27.80" fill="#a3b8e4"/>
<rect x="226.96" y="106.12" width="1.22" height="26.88" fill="#bfcdee"/>
<line x1="227.58" y1="133.00" x2="227.58" y2="106.12" stroke="#4569bd" stroke-width="0.551703742543444"/>
<rect x="230.04" y="104.75" width="1.04" height="28.25" fill="#a3b8e4"/>
<rect x="231.08" y="104.61" width="1.85" height="28.39" fill="#bfcdee"/>
<line x1="232.01" y1="133.00" x2="232.01" y2="104.61" stroke="#4569bd" stroke-width="0.8189267512891665"/>
<rect x="232.93" y="105.26" width="1.68" height="27.74" fill="#a3b8e4"/>
<rect x="234.61" y="105.95" width="1.12" height="27.05" fill="#bfcdee"/>
<line x1="235.18" y1="133.00" x2="235.18" y2="105.95" stroke="#4569bd" stroke-width="0.8972601065951704"/>
<rect x="235.74" y="104.54" width="1.66" height="28.46" fill="#bfcdee"/>
<line x1="236.57" y1="133.00" x2="236.57" y2="104.54" stroke="#4569bd" stroke-width="0.9640611108714918"/>
<rect x="237.40" y="104.62" width="1.45" height="28.38" fill="#bfcdee"/>
<line x1="238.13" y1="133.00" x2="238.13" y2="104.62" stroke="#4569bd" stroke-width="1.0310753138209752"/>
<rect x="238.86" y="104.06" width="1.01" height="28.94" fill="#bfcdee"/>
<line x1="239.36" y1="133.00" x2="239.36" y2="104.06" stroke="#4569bd" stroke-width="0.9218996978991809"/>
<rect x="239.86" y="103.55" width="1.80" height="29.45" fill="#bfcdee"/>
<line x1="240.76" y1="133.00" x2="240.76" y2="103.55" stroke="#4569bd" stroke-width="0.648548619701683"/>
<rect x="241.66" y="103.56" width="1.12" height="29.44" fill="#bfcdee"/>
<line x1="242.22" y1="133.00" x2="242.22" y2="103.56" stroke="#4569bd" stroke-width="0.6968450439980323"/>
<rect x="242.79" y="105.55" width="0.95" height="27.45" fill="#a3b8e4"/>
<rect x="243.73" y="104.34" width="1.95" height="28.66" fill="#bfcdee"/>
<line x1="244.71" y1="133.00" x2="244.71" y2="104.34" stroke="#4569bd" stroke-width="1.0902996710612736"/>
<rect x="245.68" y="104.52" width="1.73" height="28.48" fill="#a3b8e4"/>
<rect x="247.42" y="103.72" width="1.53" height="29.28" fill="#bfcdee"/>
<line x1="248.18" y1="133.00" x2="248.18" y2="103.72" stroke="#4569bd" stroke-width="0.7330047285433844"/>
<rect x="248.95" y="105.77" width="0.74" height="27.23" fill="#bfcdee"/>
<line x1="249.32" y1="133.00" x2="249.32" y2="105.77" stroke="#4569bd" stroke-width="0.916063610713715"/>
<rect x="249.69" y="104.62" width="1.35" height="28.38" fill="#a3b8e4"/>
<rect x="251.04" y="105.59" width="1.48" height="27.41" fill="#bfcdee"/>
<line x1="251.78" y1="133.00" x2="251.78" y2="105.59" stroke="#4569bd" stroke-width="1.0448023327569276"/>
<rect x="252.53" y="105.62" width="1.26" height="27.38" fill="#bfcdee"/>
<line x1="253.15" y1="133.00" x2="253.15" y2="105.62" stroke="#4569bd" stroke-width="0.7526928820281933"/>
<rect x="253.78" y="106.08" width="1.00" height="26.92" fill="#bfcdee"/>
<rect x="254.78" y="105.38" width="1.61" height="27.62" fill="#bfcdee"/>
<rect x="256.39" y="105.20" width="1.29" height="27.80" fill="#bfcdee"/>
<line x1="257.04" y1="133.00" x2="257.04" y2="105.20" stroke="#4569bd" stroke-width="0.5587200860444198"/>
<path d="M169.00,133.00 L169.00,115.79 L173.94,126.12 L173.94,133.00 Z" fill="#4a70c2" opacity="0.55"/>
<path d="M176.08,133.00 L176.08,127.50 L182.48,130.80 L182.48,133.00 Z" fill="#4a70c2" opacity="0.55"/>
<path d="M183.75,133.00 L183.75,119.33 L188.94,127.53 L188.94,133.00 Z" fill="#4a70c2" opacity="0.55"/>
<path d="M190.17,133.00 L190.17,112.54 L196.90,124.81 L196.90,133.00 Z" fill="#4a70c2" opacity="0.55"/>
<path d="M197.44,133.00 L197.44,115.88 L204.03,126.15 L204.03,133.00 Z" fill="#4a70c2" opacity="0.55"/>
<path d="M205.19,133.00 L205.19,111.56 L210.62,124.42 L210.62,133.00 Z" fill="#4a70c2" opacity="0.55"/>
<path d="M210.74,133.00 L210.74,129.46 L216.54,131.58 L216.54,133.00 Z" fill="#4a70c2" opacity="0.55"/>
<path d="M218.88,133.00 L218.88,121.58 L227.47,128.43 L227.47,133.00 Z" fill="#4a70c2" opacity="0.55"/>
<path d="M227.77,133.00 L227.77,121.10 L233.79,128.24 L233.79,133.00 Z" fill="#4a70c2" opacity="0.55"/>
<path d="M235.95,133.00 L235.95,118.94 L241.53,127.37 L241.53,133.00 Z" fill="#4a70c2" opacity="0.55"/>
<path d="M244.02,133.00 L244.02,123.97 L249.67,129.39 L249.67,133.00 Z" fill="#4a70c2" opacity="0.55"/>
<path d="M252.51,133.00 L252.51,117.94 L255.98,126.98 L255.98,133.00 Z" fill="#4a70c2" opacity="0.55"/>
<path d="M169.00,132.47 L169.50,133.68 L170.00,132.80 L170.50,132.38 L171.00,132.68 L171.50,132.86 L172.00,132.32 L172.50,132.89 L173.00,132.89 L173.50,133.28 L174.00,132.79 L174.50,132.67 L175.00,132.61 L175.50,133.34 L176.00,133.62 L176.50,133.04 L177.00,132.61 L177.50,133.42 L178.00,132.85 L178.50,132.60 L179.00,132.48 L179.50,133.39 L180.00,133.43 L180.50,133.19 L181.00,132.96 L181.50,133.09 L182.00,132.62 L182.50,133.65 L183.00,132.79 L183.50,133.19 L184.00,133.45 L184.50,133.44 L185.00,132.96 L185.50,132.71 L186.00,133.07 L186.50,132.48 L187.00,133.47 L187.50,132.80 L188.00,133.49 L188.50,132.67 L189.00,132.83 L189.50,132.65 L190.00,132.90 L190.50,132.56 L191.00,132.30 L191.50,133.31 L192.00,132.69 L192.50,132.64 L193.00,132.72 L193.50,132.97 L194.00,132.90 L194.50,133.19 L195.00,133.22 L195.50,132.81 L196.00,133.60 L196.50,133.50 L197.00,132.38 L197.50,133.46 L198.00,133.57 L198.50,133.40 L199.00,132.50 L199.50,133.46 L200.00,133.19 L200.50,132.32 L201.00,132.32 L201.50,133.63 L202.00,133.22 L202.50,132.65 L203.00,132.44 L203.50,132.50 L204.00,132.63 L204.50,133.39 L205.00,132.79 L205.50,132.51 L206.00,133.57 L206.50,133.41 L207.00,132.54 L207.50,133.55 L208.00,133.15 L208.50,133.39 L209.00,133.24 L209.50,133.55 L210.00,133.40 L210.50,133.47 L211.00,132.58 L211.50,133.27 L212.00,133.04 L212.50,133.34 L213.00,132.91 L213.50,133.54 L214.00,133.08 L214.50,132.67 L215.00,132.63 L215.50,132.50 L216.00,132.99 L216.50,132.38 L217.00,132.95 L217.50,132.50 L218.00,132.99 L218.50,133.00 L219.00,133.06 L219.50,133.51 L220.00,132.31 L220.50,133.48 L221.00,132.96 L221.50,133.09 L222.00,133.23 L222.50,133.48 L223.00,132.82 L223.50,132.89 L224.00,133.64 L224.50,132.41 L225.00,133.19 L225.50,133.19 L226.00,132.34 L226.50,133.15 L227.00,133.26 L227.50,133.60 L228.00,132.76 L228.50,133.67 L229.00,133.01 L229.50,132.98 L230.00,133.56 L230.50,132.35 L231.00,133.31 L231.50,133.18 L232.00,132.77 L232.50,133.51 L233.00,132.81 L233.50,132.96 L234.00,133.04 L234.50,133.38 L235.00,132.60 L235.50,132.91 L236.00,132.89 L236.50,133.08 L237.00,133.46 L237.50,132.71 L238.00,133.46 L238.50,132.87 L239.00,133.01 L239.50,132.68 L240.00,133.01 L240.50,133.66 L241.00,133.22 L241.50,133.41 L242.00,132.76 L242.50,132.74 L243.00,132.72 L243.50,133.12 L244.00,133.19 L244.50,133.40 L245.00,132.36 L245.50,133.31 L246.00,133.54 L246.50,133.06 L247.00,132.37 L247.50,132.72 L248.00,132.31 L248.50,132.57 L249.00,133.59 L249.50,133.15 L250.00,133.22 L250.50,133.40 L251.00,133.57 L251.50,133.16 L252.00,133.16 L252.50,133.18 L253.00,133.27 L253.50,133.13 L254.00,133.25 L254.50,132.60 L255.00,133.23 L255.50,132.94 L256.00,133.37 L256.50,132.44 L257.00,132.55 L257.50,132.35" stroke="#4569bd" stroke-width="1.0" fill="none" stroke-linejoin="round"/>
<rect x="169.00" y="137.80" width="1.71" height="30.00" fill="#b3d79a"/>
<rect x="170.71" y="137.47" width="1.77" height="30.33" fill="#b3d79a"/>
<rect x="172.48" y="136.61" width="1.09" height="31.19" fill="#d3e9c6"/>
<line x1="173.02" y1="167.80" x2="173.02" y2="136.61" stroke="#5f9e40" stroke-width="0.7584050382658809"/>
<rect x="173.57" y="135.69" width="1.53" height="32.11" fill="#b3d79a"/>
<rect x="175.85" y="137.06" width="1.45" height="30.74" fill="#b3d79a"/>
<rect x="177.30" y="138.78" width="1.20" height="29.02" fill="#d3e9c6"/>
<line x1="177.90" y1="167.80" x2="177.90" y2="138.78" stroke="#5f9e40" stroke-width="1.0884707040576456"/>
<rect x="178.51" y="135.86" width="1.32" height="31.94" fill="#d3e9c6"/>
<line x1="179.16" y1="167.80" x2="179.16" y2="135.86" stroke="#5f9e40" stroke-width="0.8867034948119186"/>
<rect x="179.82" y="135.55" width="0.98" height="32.25" fill="#d3e9c6"/>
<line x1="180.31" y1="167.80" x2="180.31" y2="135.55" stroke="#5f9e40" stroke-width="0.5028699681579804"/>
<rect x="182.39" y="135.95" width="0.81" height="31.85" fill="#b3d79a"/>
<rect x="183.20" y="138.07" width="1.64" height="29.73" fill="#d3e9c6"/>
<line x1="184.02" y1="167.80" x2="184.02" y2="138.07" stroke="#5f9e40" stroke-width="0.6124461990124128"/>
<rect x="184.84" y="138.00" width="0.77" height="29.80" fill="#d3e9c6"/>
<rect x="187.25" y="138.76" width="1.62" height="29.04" fill="#d3e9c6"/>
<line x1="188.06" y1="167.80" x2="188.06" y2="138.76" stroke="#5f9e40" stroke-width="0.6524303402611067"/>
<rect x="188.87" y="135.54" width="1.95" height="32.26" fill="#b3d79a"/>
<rect x="190.83" y="135.78" width="1.55" height="32.02" fill="#b3d79a"/>
<rect x="192.37" y="138.51" width="1.65" height="29.29" fill="#d3e9c6"/>
<line x1="193.20" y1="167.80" x2="193.20" y2="138.51" stroke="#5f9e40" stroke-width="0.7917970833582351"/>
<rect x="194.02" y="137.51" width="0.78" height="30.29" fill="#d3e9c6"/>
<line x1="194.41" y1="167.80" x2="194.41" y2="137.51" stroke="#5f9e40" stroke-width="0.7632342478773089"/>
<rect x="196.38" y="137.70" width="1.17" height="30.10" fill="#d3e9c6"/>
<line x1="196.97" y1="167.80" x2="196.97" y2="137.70" stroke="#5f9e40" stroke-width="0.7507788381440739"/>
<rect x="197.55" y="138.81" width="1.20" height="28.99" fill="#d3e9c6"/>
<rect x="198.75" y="135.71" width="1.44" height="32.09" fill="#d3e9c6"/>
<line x1="199.47" y1="167.80" x2="199.47" y2="135.71" stroke="#5f9e40" stroke-width="1.0843707173360007"/>
<rect x="200.19" y="136.66" width="1.61" height="31.14" fill="#d3e9c6"/>
<rect x="201.80" y="137.60" width="1.97" height="30.20" fill="#b3d79a"/>
<rect x="203.78" y="136.82" width="1.26" height="30.98" fill="#d3e9c6"/>
<rect x="205.03" y="138.33" width="1.48" height="29.47" fill="#b3d79a"/>
<rect x="206.51" y="136.98" width="0.70" height="30.82" fill="#d3e9c6"/>
<line x1="206.87" y1="167.80" x2="206.87" y2="136.98" stroke="#5f9e40" stroke-width="0.8519858103421162"/>
<rect x="207.22" y="135.65" width="1.76" height="32.15" fill="#d3e9c6"/>
<rect x="208.98" y="137.50" width="1.76" height="30.30" fill="#b3d79a"/>
<rect x="210.73" y="137.90" width="1.81" height="29.90" fill="#d3e9c6"/>
<rect x="213.69" y="138.13" width="1.74" height="29.67" fill="#d3e9c6"/>
<line x1="214.56" y1="167.80" x2="214.56" y2="138.13" stroke="#5f9e40" stroke-width="1.0590336381596765"/>
<rect x="215.43" y="137.87" width="1.00" height="29.93" fill="#d3e9c6"/>
<line x1="215.93" y1="167.80" x2="215.93" y2="137.87" stroke="#5f9e40" stroke-width="0.7791937546804815"/>
<rect x="216.43" y="138.13" width="0.97" height="29.67" fill="#d3e9c6"/>
<line x1="216.92" y1="167.80" x2="216.92" y2="138.13" stroke="#5f9e40" stroke-width="0.9749989854617747"/>
<rect x="218.70" y="137.53" width="1.70" height="30.27" fill="#d3e9c6"/>
<line x1="219.55" y1="167.80" x2="219.55" y2="137.53" stroke="#5f9e40" stroke-width="1.0381574612537392"/>
<rect x="220.40" y="137.17" width="1.85" height="30.63" fill="#d3e9c6"/>
<line x1="221.33" y1="167.80" x2="221.33" y2="137.17" stroke="#5f9e40" stroke-width="0.8535971799576414"/>
<rect x="222.25" y="136.13" width="0.95" height="31.67" fill="#d3e9c6"/>
<line x1="222.72" y1="167.80" x2="222.72" y2="136.13" stroke="#5f9e40" stroke-width="0.9206384939989285"/>
<rect x="223.20" y="136.91" width="1.17" height="30.89" fill="#d3e9c6"/>
<line x1="223.78" y1="167.80" x2="223.78" y2="136.91" stroke="#5f9e40" stroke-width="0.810330420093018"/>
<rect x="226.45" y="137.59" width="1.72" height="30.21" fill="#d3e9c6"/>
<line x1="227.31" y1="167.80" x2="227.31" y2="137.59" stroke="#5f9e40" stroke-width="0.7069529948259059"/>
<rect x="229.55" y="137.20" width="1.99" height="30.60" fill="#b3d79a"/>
<rect x="231.54" y="136.99" width="1.04" height="30.81" fill="#d3e9c6"/>
<rect x="232.58" y="138.87" width="1.70" height="28.93" fill="#b3d79a"/>
<rect x="234.27" y="136.13" width="0.75" height="31.67" fill="#d3e9c6"/>
<line x1="234.65" y1="167.80" x2="234.65" y2="136.13" stroke="#5f9e40" stroke-width="0.5501938225069013"/>
<rect x="235.02" y="138.55" width="0.77" height="29.25" fill="#d3e9c6"/>
<line x1="235.41" y1="167.80" x2="235.41" y2="138.55" stroke="#5f9e40" stroke-width="0.774968559236089"/>
<rect x="235.79" y="135.72" width="1.93" height="32.08" fill="#b3d79a"/>
<rect x="238.94" y="137.74" width="1.03" height="30.06" fill="#d3e9c6"/>
<line x1="239.45" y1="167.80" x2="239.45" y2="137.74" stroke="#5f9e40" stroke-width="1.0738520156780744"/>
<rect x="239.97" y="137.07" width="1.57" height="30.73" fill="#d3e9c6"/>
<line x1="240.76" y1="167.80" x2="240.76" y2="137.07" stroke="#5f9e40" stroke-width="0.5958370553146799"/>
<rect x="241.54" y="136.28" width="1.96" height="31.52" fill="#b3d79a"/>
<rect x="243.50" y="138.66" width="1.03" height="29.14" fill="#d3e9c6"/>
<line x1="244.01" y1="167.80" x2="244.01" y2="138.66" stroke="#5f9e40" stroke-width="1.0427433626105755"/>
<rect x="246.32" y="138.95" width="1.62" height="28.85" fill="#d3e9c6"/>
<line x1="247.13" y1="167.80" x2="247.13" y2="138.95" stroke="#5f9e40" stroke-width="0.5334606875526463"/>
<rect x="247.94" y="138.79" width="0.89" height="29.01" fill="#d3e9c6"/>
<rect x="248.83" y="138.15" width="1.09" height="29.65" fill="#d3e9c6"/>
<line x1="249.37" y1="167.80" x2="249.37" y2="138.15" stroke="#5f9e40" stroke-width="0.5632519623818638"/>
<rect x="249.92" y="135.93" width="1.12" height="31.87" fill="#d3e9c6"/>
<line x1="250.48" y1="167.80" x2="250.48" y2="135.93" stroke="#5f9e40" stroke-width="0.7887878852172765"/>
<rect x="251.04" y="136.00" width="0.92" height="31.80" fill="#d3e9c6"/>
<line x1="251.50" y1="167.80" x2="251.50" y2="136.00" stroke="#5f9e40" stroke-width="0.9065856168814141"/>
<rect x="251.96" y="136.18" width="0.72" height="31.62" fill="#b3d79a"/>
<rect x="252.67" y="138.77" width="1.91" height="29.03" fill="#d3e9c6"/>
<line x1="253.63" y1="167.80" x2="253.63" y2="138.77" stroke="#5f9e40" stroke-width="1.0200511740435454"/>
<rect x="256.44" y="138.45" width="0.83" height="29.35" fill="#d3e9c6"/>
<rect x="257.26" y="138.38" width="1.29" height="29.42" fill="#d3e9c6"/>
<line x1="257.91" y1="167.80" x2="257.91" y2="138.38" stroke="#5f9e40" stroke-width="0.7865229731005894"/>
<path d="M169.00,167.18 L169.50,168.10 L170.00,167.87 L170.50,167.30 L171.00,168.32 L171.50,167.47 L172.00,167.68 L172.50,167.32 L173.00,167.48 L173.50,168.28 L174.00,167.57 L174.50,167.33 L175.00,167.79 L175.50,167.55 L176.00,168.36 L176.50,167.26 L177.00,168.47 L177.50,167.18 L178.00,168.35 L178.50,168.04 L179.00,167.40 L179.50,167.77 L180.00,167.50 L180.50,167.46 L181.00,167.38 L181.50,167.61 L182.00,168.49 L182.50,168.50 L183.00,168.40 L183.50,167.24 L184.00,167.51 L184.50,168.35 L185.00,167.18 L185.50,168.12 L186.00,167.51 L186.50,168.47 L187.00,167.12 L187.50,168.23 L188.00,167.58 L188.50,167.30 L189.00,167.10 L189.50,168.27 L190.00,167.84 L190.50,167.36 L191.00,167.71 L191.50,168.38 L192.00,167.41 L192.50,167.90 L193.00,167.29 L193.50,167.35 L194.00,168.18 L194.50,168.10 L195.00,167.38 L195.50,167.21 L196.00,167.22 L196.50,167.95 L197.00,167.79 L197.50,167.48 L198.00,167.39 L198.50,167.96 L199.00,168.09 L199.50,168.24 L200.00,167.92 L200.50,167.38 L201.00,167.19 L201.50,168.13 L202.00,167.67 L202.50,168.11 L203.00,167.18 L203.50,168.23 L204.00,167.57 L204.50,168.28 L205.00,168.31 L205.50,167.79 L206.00,167.12 L206.50,168.37 L207.00,167.77 L207.50,168.32 L208.00,167.47 L208.50,167.36 L209.00,168.26 L209.50,167.61 L210.00,167.33 L210.50,167.62 L211.00,167.93 L211.50,167.11 L212.00,167.83 L212.50,167.72 L213.00,167.82 L213.50,167.27 L214.00,168.10 L214.50,168.24 L215.00,168.31 L215.50,167.55 L216.00,168.10 L216.50,167.63 L217.00,168.15 L217.50,167.19 L218.00,168.32 L218.50,168.44 L219.00,167.79 L219.50,167.82 L220.00,167.84 L220.50,167.85 L221.00,167.13 L221.50,168.45 L222.00,167.41 L222.50,167.36 L223.00,167.24 L223.50,167.45 L224.00,168.24 L224.50,167.14 L225.00,167.24 L225.50,168.08 L226.00,167.37 L226.50,167.12 L227.00,167.94 L227.50,167.91 L228.00,167.83 L228.50,168.08 L229.00,167.24 L229.50,168.32 L230.00,168.10 L230.50,167.16 L231.00,167.27 L231.50,167.79 L232.00,167.80 L232.50,167.49 L233.00,167.27 L233.50,167.67 L234.00,167.29 L234.50,167.93 L235.00,168.31 L235.50,167.31 L236.00,167.90 L236.50,168.15 L237.00,167.33 L237.50,168.26 L238.00,168.41 L238.50,167.64 L239.00,167.69 L239.50,168.28 L240.00,167.84 L240.50,167.65 L241.00,168.42 L241.50,168.19 L242.00,167.57 L242.50,167.44 L243.00,167.57 L243.50,167.71 L244.00,168.47 L244.50,168.23 L245.00,168.38 L245.50,168.24 L246.00,168.29 L246.50,167.17 L247.00,167.82 L247.50,168.44 L248.00,168.41 L248.50,167.45 L249.00,167.69 L249.50,167.99 L250.00,167.61 L250.50,167.84 L251.00,167.20 L251.50,167.71 L252.00,167.81 L252.50,167.13 L253.00,167.30 L253.50,168.46 L254.00,168.19 L254.50,168.41 L255.00,167.99 L255.50,168.23 L256.00,168.34 L256.50,168.34 L257.00,167.15 L257.50,168.00 L258.00,167.47 L258.50,168.05 L259.00,167.48 L259.50,167.86" stroke="#5f9e40" stroke-width="1.0" fill="none" stroke-linejoin="round"/>
<path d="M65.5,148.3 L65.5,155.8 L78.8,155.8" stroke="#000" stroke-width="1.4" fill="none" stroke-linejoin="round" stroke-linejoin="miter"/>
<text x="71.20" y="151.31" font-size="11.2" font-weight="bold" text-anchor="start" fill="#000">20 mV</text>
<text x="64.10" y="171.47" font-size="11.1" font-weight="bold" text-anchor="start" fill="#000">10 s</text>
<text x="260.88" y="14.02" font-size="18.2" font-weight="bold" text-anchor="start" fill="#000">B</text>
<rect x="312.40" y="113.28" width="9.60" height="5.52" fill="#000" stroke="#000" stroke-width="1.0"/>
<rect x="327.30" y="117.82" width="9.60" height="0.98" fill="#000" stroke="#000" stroke-width="1.0"/>
<rect x="342.20" y="117.33" width="9.60" height="1.47" fill="#000" stroke="#000" stroke-width="1.0"/>
<rect x="357.10" y="113.28" width="9.60" height="5.52" fill="#7a0000" stroke="#000" stroke-width="1.0"/>
<rect x="372.20" y="97.70" width="9.60" height="21.10" fill="#ffff33" stroke="#000" stroke-width="1.0"/>
<rect x="387.20" y="94.87" width="9.60" height="23.93" fill="#0000ee" stroke="#000" stroke-width="1.0"/>
<rect x="402.20" y="96.71" width="9.60" height="22.09" fill="#33dd33" stroke="#000" stroke-width="1.0"/>
<line x1="317.20" y1="113.28" x2="317.20" y2="111.44" stroke="#000" stroke-width="1.0"/>
<line x1="313.95" y1="111.44" x2="320.45" y2="111.44" stroke="#000" stroke-width="1.0"/>
<line x1="332.10" y1="117.82" x2="332.10" y2="117.57" stroke="#000" stroke-width="1.0"/>
<line x1="328.85" y1="117.57" x2="335.35" y2="117.57" stroke="#000" stroke-width="1.0"/>
<line x1="347.00" y1="117.33" x2="347.00" y2="116.96" stroke="#000" stroke-width="1.0"/>
<line x1="343.75" y1="116.96" x2="350.25" y2="116.96" stroke="#000" stroke-width="1.0"/>
<line x1="361.90" y1="113.28" x2="361.90" y2="112.05" stroke="#000" stroke-width="1.0"/>
<line x1="358.65" y1="112.05" x2="365.15" y2="112.05" stroke="#000" stroke-width="1.0"/>
<line x1="377.00" y1="97.70" x2="377.00" y2="93.03" stroke="#000" stroke-width="1.0"/>
<line x1="373.75" y1="93.03" x2="380.25" y2="93.03" stroke="#000" stroke-width="1.0"/>
<line x1="392.00" y1="94.87" x2="392.00" y2="88.98" stroke="#000" stroke-width="1.0"/>
<line x1="388.75" y1="88.98" x2="395.25" y2="88.98" stroke="#000" stroke-width="1.0"/>
<line x1="407.00" y1="96.71" x2="407.00" y2="92.42" stroke="#000" stroke-width="1.0"/>
<line x1="403.75" y1="92.42" x2="410.25" y2="92.42" stroke="#000" stroke-width="1.0"/>
<circle cx="317.20" cy="106.53" r="1.5" fill="#000"/>
<circle cx="320.17" cy="107.14" r="1.5" fill="#000"/>
<circle cx="318.05" cy="107.76" r="1.5" fill="#000"/>
<circle cx="314.63" cy="108.37" r="1.5" fill="#000"/>
<circle cx="315.45" cy="108.98" r="1.5" fill="#000"/>
<circle cx="317.20" cy="111.44" r="1.5" fill="#000"/>
<circle cx="317.34" cy="112.66" r="1.5" fill="#000"/>
<circle cx="314.63" cy="113.89" r="1.5" fill="#000"/>
<circle cx="319.76" cy="115.12" r="1.5" fill="#000"/>
<circle cx="316.74" cy="116.35" r="1.5" fill="#000"/>
<circle cx="320.36" cy="117.57" r="1.5" fill="#000"/>
<circle cx="332.10" cy="117.57" r="1.5" fill="#000"/>
<circle cx="330.61" cy="117.57" r="1.5" fill="#000"/>
<circle cx="330.74" cy="117.82" r="1.5" fill="#000"/>
<circle cx="333.13" cy="118.06" r="1.5" fill="#000"/>
<circle cx="329.44" cy="118.19" r="1.5" fill="#000"/>
<circle cx="332.76" cy="118.19" r="1.5" fill="#000"/>
<circle cx="335.29" cy="118.31" r="1.5" fill="#000"/>
<circle cx="332.20" cy="118.43" r="1.5" fill="#000"/>
<circle cx="330.48" cy="118.55" r="1.5" fill="#000"/>
<circle cx="331.86" cy="118.55" r="1.5" fill="#000"/>
<circle cx="332.34" cy="118.68" r="1.5" fill="#000"/>
<circle cx="347.00" cy="113.28" r="1.5" fill="#000"/>
<circle cx="347.00" cy="116.35" r="1.5" fill="#000"/>
<circle cx="344.54" cy="116.96" r="1.5" fill="#000"/>
<circle cx="344.37" cy="117.57" r="1.5" fill="#000"/>
<circle cx="349.56" cy="118.19" r="1.5" fill="#000"/>
<circle cx="344.42" cy="118.19" r="1.5" fill="#000"/>
<circle cx="345.56" cy="118.55" r="1.5" fill="#000"/>
<circle cx="361.90" cy="108.37" r="1.5" fill="#000"/>
<circle cx="361.90" cy="111.44" r="1.5" fill="#000"/>
<circle cx="361.25" cy="112.05" r="1.5" fill="#000"/>
<circle cx="360.42" cy="112.66" r="1.5" fill="#000"/>
<circle cx="364.46" cy="113.28" r="1.5" fill="#000"/>
<circle cx="360.10" cy="113.89" r="1.5" fill="#000"/>
<circle cx="359.01" cy="114.51" r="1.5" fill="#000"/>
<circle cx="362.22" cy="115.12" r="1.5" fill="#000"/>
<circle cx="364.28" cy="116.35" r="1.5" fill="#000"/>
<circle cx="359.33" cy="117.57" r="1.5" fill="#000"/>
<circle cx="377.00" cy="68.49" r="1.5" fill="#000"/>
<circle cx="377.80" cy="69.72" r="1.5" fill="#000"/>
<circle cx="377.00" cy="84.44" r="1.5" fill="#000"/>
<circle cx="377.00" cy="85.67" r="1.5" fill="#000"/>
<circle cx="377.00" cy="86.90" r="1.5" fill="#000"/>
<circle cx="374.00" cy="104.08" r="1.5" fill="#000"/>
<circle cx="380.00" cy="104.08" r="1.5" fill="#000"/>
<circle cx="375.00" cy="106.53" r="1.5" fill="#000"/>
<circle cx="379.00" cy="106.53" r="1.5" fill="#000"/>
<circle cx="377.00" cy="107.76" r="1.5" fill="#000"/>
<circle cx="374.00" cy="108.98" r="1.5" fill="#000"/>
<circle cx="380.00" cy="108.98" r="1.5" fill="#000"/>
<circle cx="377.00" cy="112.66" r="1.5" fill="#000"/>
<circle cx="392.00" cy="52.54" r="1.5" fill="#000"/>
<circle cx="391.00" cy="75.85" r="1.5" fill="#000"/>
<circle cx="393.00" cy="78.31" r="1.5" fill="#000"/>
<circle cx="391.00" cy="88.12" r="1.5" fill="#000"/>
<circle cx="393.00" cy="89.35" r="1.5" fill="#000"/>
<circle cx="390.00" cy="90.58" r="1.5" fill="#000"/>
<circle cx="394.00" cy="90.58" r="1.5" fill="#000"/>
<circle cx="392.00" cy="99.17" r="1.5" fill="#000"/>
<circle cx="392.00" cy="106.53" r="1.5" fill="#000"/>
<circle cx="389.00" cy="115.12" r="1.5" fill="#000"/>
<circle cx="395.00" cy="115.12" r="1.5" fill="#000"/>
<circle cx="392.00" cy="111.44" r="1.5" fill="#000"/>
<circle cx="407.00" cy="72.17" r="1.5" fill="#000"/>
<circle cx="407.00" cy="74.63" r="1.5" fill="#000"/>
<circle cx="407.00" cy="80.76" r="1.5" fill="#000"/>
<circle cx="403.50" cy="99.17" r="1.5" fill="#000"/>
<circle cx="410.50" cy="99.17" r="1.5" fill="#000"/>
<circle cx="403.50" cy="105.30" r="1.5" fill="#000"/>
<circle cx="410.50" cy="106.53" r="1.5" fill="#000"/>
<circle cx="407.00" cy="110.21" r="1.5" fill="#000"/>
<circle cx="403.50" cy="113.89" r="1.5" fill="#000"/>
<circle cx="410.50" cy="113.89" r="1.5" fill="#000"/>
<line x1="307.40" y1="45.18" x2="307.40" y2="118.80" stroke="#000" stroke-width="1.3"/>
<line x1="304.40" y1="118.80" x2="307.40" y2="118.80" stroke="#000" stroke-width="1.3"/>
<text x="303.00" y="122.38" font-size="10.0" font-weight="bold" text-anchor="end" fill="#000">0</text>
<line x1="304.40" y1="94.26" x2="307.40" y2="94.26" stroke="#000" stroke-width="1.3"/>
<text x="303.00" y="97.84" font-size="10.0" font-weight="bold" text-anchor="end" fill="#000">2</text>
<line x1="304.40" y1="69.72" x2="307.40" y2="69.72" stroke="#000" stroke-width="1.3"/>
<text x="303.00" y="73.30" font-size="10.0" font-weight="bold" text-anchor="end" fill="#000">4</text>
<line x1="304.40" y1="45.18" x2="307.40" y2="45.18" stroke="#000" stroke-width="1.3"/>
<text x="303.00" y="48.76" font-size="10.0" font-weight="bold" text-anchor="end" fill="#000">6</text>
<line x1="307.40" y1="118.80" x2="418.00" y2="118.80" stroke="#000" stroke-width="1.3"/>
<line x1="317.20" y1="118.80" x2="317.20" y2="122.00" stroke="#000" stroke-width="1.3"/>
<line x1="332.10" y1="118.80" x2="332.10" y2="122.00" stroke="#000" stroke-width="1.3"/>
<line x1="347.00" y1="118.80" x2="347.00" y2="122.00" stroke="#000" stroke-width="1.3"/>
<line x1="361.90" y1="118.80" x2="361.90" y2="122.00" stroke="#000" stroke-width="1.3"/>
<line x1="377.00" y1="118.80" x2="377.00" y2="122.00" stroke="#000" stroke-width="1.3"/>
<line x1="392.00" y1="118.80" x2="392.00" y2="122.00" stroke="#000" stroke-width="1.3"/>
<line x1="407.00" y1="118.80" x2="407.00" y2="122.00" stroke="#000" stroke-width="1.3"/>
<text x="319.50" y="129.80" font-size="8.8" font-weight="bold" text-anchor="end" transform="rotate(-45 319.50 129.80)">Ctrl1<tspan font-size="5.3" dy="-3.2">~</tspan></text>
<text x="334.40" y="129.80" font-size="8.8" font-weight="bold" text-anchor="end" transform="rotate(-45 334.40 129.80)">Ctrl2</text>
<text x="349.30" y="129.80" font-size="8.8" font-weight="bold" text-anchor="end" transform="rotate(-45 349.30 129.80)">Ctrl3</text>
<text x="364.20" y="129.80" font-size="8.8" font-weight="bold" text-anchor="end" transform="rotate(-45 364.20 129.80)">MHS-P1</text>
<text x="379.30" y="129.80" font-size="8.8" font-weight="bold" text-anchor="end" transform="rotate(-45 379.30 129.80)">MHS-P2<tspan font-size="5.3" dy="-3.2">~</tspan></text>
<text x="394.30" y="129.80" font-size="8.8" font-weight="bold" text-anchor="end" transform="rotate(-45 394.30 129.80)">MHS-P3</text>
<text x="409.30" y="129.80" font-size="8.8" font-weight="bold" text-anchor="end" transform="rotate(-45 409.30 129.80)">MHS-P4</text>
<text x="318.40" y="93.89" font-size="10.3" text-anchor="middle" fill="#000" stroke="#000" stroke-width="0.38">11</text>
<text x="332.10" y="110.19" font-size="10.3" text-anchor="middle" fill="#000" stroke="#000" stroke-width="0.38">11</text>
<text x="347.00" y="105.49" font-size="10.3" text-anchor="middle" fill="#000" stroke="#000" stroke-width="0.38">7</text>
<text x="362.20" y="98.49" font-size="10.3" text-anchor="middle" fill="#000" stroke="#000" stroke-width="0.38">10</text>
<text x="375.60" y="54.49" font-size="10.3" text-anchor="middle" fill="#000" stroke="#000" stroke-width="0.38">13</text>
<text x="375.60" y="45.27" font-size="11.5" text-anchor="middle" fill="#000" stroke="#000" stroke-width="0.38">*</text>
<text x="374.80" y="31.21" font-size="8.5" text-anchor="middle" fill="#000" textLength="13.2" lengthAdjust="spacingAndGlyphs" stroke="#000" stroke-width="0.38">###</text>
<text x="375.40" y="19.30" font-size="8.5" text-anchor="middle" fill="#000" textLength="9.0" lengthAdjust="spacingAndGlyphs" stroke="#000" stroke-width="0.38">††</text>
<text x="391.00" y="47.49" font-size="10.3" text-anchor="middle" fill="#000" stroke="#000" stroke-width="0.38">12</text>
<text x="391.50" y="37.97" font-size="11.5" text-anchor="middle" fill="#000" stroke="#000" stroke-width="0.38">**</text>
<text x="392.10" y="22.01" font-size="8.5" text-anchor="middle" fill="#000" textLength="13.2" lengthAdjust="spacingAndGlyphs" stroke="#000" stroke-width="0.38">###</text>
<text x="392.30" y="11.40" font-size="8.5" text-anchor="middle" fill="#000" textLength="9.0" lengthAdjust="spacingAndGlyphs" stroke="#000" stroke-width="0.38">††</text>
<text x="407.00" y="52.69" font-size="10.3" text-anchor="middle" fill="#000" stroke="#000" stroke-width="0.38">10</text>
<text x="407.20" y="43.97" font-size="11.5" text-anchor="middle" fill="#000" stroke="#000" stroke-width="0.38">*</text>
<text x="407.80" y="33.01" font-size="8.5" text-anchor="middle" fill="#000" textLength="8.8" lengthAdjust="spacingAndGlyphs" stroke="#000" stroke-width="0.38">##</text>
<text x="407.60" y="20.70" font-size="8.5" text-anchor="middle" fill="#000" textLength="4.5" lengthAdjust="spacingAndGlyphs" stroke="#000" stroke-width="0.38">†</text>
<text x="279.59" y="79.15" font-size="10.6" text-anchor="middle" textLength="116.3" lengthAdjust="spacingAndGlyphs" transform="rotate(-90 279.59 79.15)">Spontaneous AP<tspan font-size="7.6" font-weight="bold" dy="1.48">frequency</tspan></text>
<text x="292.79" y="79.30" font-size="10.6" text-anchor="middle" fill="#000" transform="rotate(-90 292.79 79.30)">(Hz)</text>
<rect x="490.30" y="114.02" width="33.30" height="8.58" fill="#000" stroke="#000" stroke-width="1.0"/>
<rect x="540.40" y="65.66" width="32.40" height="56.94" fill="#fff" stroke="#000" stroke-width="1.3"/>
<line x1="556.60" y1="65.66" x2="556.60" y2="57.60" stroke="#000" stroke-width="1.3"/>
<line x1="548.35" y1="57.60" x2="564.85" y2="57.60" stroke="#000" stroke-width="1.3"/>
<line x1="473.20" y1="44.60" x2="473.20" y2="122.60" stroke="#000" stroke-width="1.3"/>
<line x1="470.20" y1="122.60" x2="473.20" y2="122.60" stroke="#000" stroke-width="1.3"/>
<text x="468.80" y="126.36" font-size="10.5" font-weight="bold" text-anchor="end" fill="#000">0.0</text>
<line x1="470.20" y1="103.10" x2="473.20" y2="103.10" stroke="#000" stroke-width="1.3"/>
<text x="468.80" y="106.86" font-size="10.5" font-weight="bold" text-anchor="end" fill="#000">0.5</text>
<line x1="470.20" y1="83.60" x2="473.20" y2="83.60" stroke="#000" stroke-width="1.3"/>
<text x="468.80" y="87.36" font-size="10.5" font-weight="bold" text-anchor="end" fill="#000">1.0</text>
<line x1="470.20" y1="64.10" x2="473.20" y2="64.10" stroke="#000" stroke-width="1.3"/>
<text x="468.80" y="67.86" font-size="10.5" font-weight="bold" text-anchor="end" fill="#000">1.5</text>
<line x1="470.20" y1="44.60" x2="473.20" y2="44.60" stroke="#000" stroke-width="1.3"/>
<text x="468.80" y="48.36" font-size="10.5" font-weight="bold" text-anchor="end" fill="#000">2.0</text>
<line x1="473.20" y1="122.60" x2="590.80" y2="122.60" stroke="#000" stroke-width="1.3"/>
<line x1="506.90" y1="122.60" x2="506.90" y2="125.80" stroke="#000" stroke-width="1.3"/>
<line x1="556.60" y1="122.60" x2="556.60" y2="125.80" stroke="#000" stroke-width="1.3"/>
<text x="506.60" y="104.19" font-size="10.3" font-weight="bold" text-anchor="middle" fill="#000">29</text>
<text x="556.20" y="47.99" font-size="10.3" font-weight="bold" text-anchor="middle" fill="#000">45</text>
<text x="556.20" y="40.08" font-size="12.5" text-anchor="middle" fill="#000" stroke="#000" stroke-width="0.38">****</text>
<text x="506.70" y="136.58" font-size="10.0" font-weight="bold" text-anchor="middle" fill="#000">Ctrl</text>
<text x="556.70" y="136.58" font-size="10.0" font-weight="bold" text-anchor="middle" fill="#000">MHS</text>
<text x="434.99" y="80.30" font-size="10.6" text-anchor="middle" textLength="121.2" lengthAdjust="spacingAndGlyphs" transform="rotate(-90 434.99 80.30)">Spontaneous AP<tspan font-size="7.6" font-weight="bold" dy="1.48">frequency</tspan></text>
<text x="448.69" y="80.80" font-size="10.6" text-anchor="middle" fill="#000" transform="rotate(-90 448.69 80.80)">(Hz)</text>
<text x="19.85" y="186.30" font-size="18.2" font-weight="bold" text-anchor="start" fill="#000">C</text>
<text x="76.90" y="187.95" font-size="11.3" font-weight="bold" text-anchor="start" fill="#000" textLength="55.5" lengthAdjust="spacingAndGlyphs">Glutamate</text>
<text x="197.80" y="187.95" font-size="11.3" font-weight="bold" text-anchor="start" fill="#000" textLength="33.0" lengthAdjust="spacingAndGlyphs">GABA</text>
<text x="58.48" y="220.94" font-size="11.57" font-weight="bold" fill="#000" textLength="25.88" lengthAdjust="spacingAndGlyphs">Ctrl1</text>
<text x="44.07" y="299.05" font-size="10.17" font-weight="bold" fill="#000" textLength="38.36" lengthAdjust="spacingAndGlyphs">MHS-P1</text>
<text x="44.05" y="363.55" font-size="10.73" font-weight="bold" fill="#000" textLength="39.42" lengthAdjust="spacingAndGlyphs">MHS-P2</text>
<text x="42.57" y="432.74" font-size="9.58" font-weight="bold" fill="#000" textLength="38.45" lengthAdjust="spacingAndGlyphs">MHS-P3</text>
<text x="39.06" y="495.15" font-size="10.17" font-weight="bold" fill="#000" textLength="38.84" lengthAdjust="spacingAndGlyphs">MHS-P4</text>
<path d="M90.10,197.42 L90.40,197.34 L90.70,197.50 L91.00,196.61 L91.30,197.62 L91.60,197.12 L91.90,197.30 L92.20,197.42 L92.50,197.14 L92.80,196.82 L93.10,196.69 L93.40,196.65 L93.70,197.22 L94.00,196.97 L94.30,197.37 L94.60,196.23 L94.90,196.91 L95.20,197.92 L95.50,196.68 L95.80,197.31 L96.10,197.18 L96.40,196.77 L96.70,198.17 L97.00,196.80 L97.30,197.74 L97.60,196.52 L97.90,196.34 L98.20,197.94 L98.50,197.08" stroke="#000" stroke-width="1.1" fill="none" stroke-linejoin="round"/>
<line x1="98.40" y1="197.20" x2="98.40" y2="227.00" stroke="#000" stroke-width="0.7"/>
<path d="M98.80,201.99 L99.11,201.73 L99.43,201.81 L99.74,200.91 L100.06,202.82 L100.37,202.91 L100.69,200.34 L101.00,201.75 L101.30,203.27 L101.60,202.84 L101.90,202.65 L102.20,201.44 L102.50,201.53 L102.80,200.29 L103.10,200.29 L103.40,201.44 L103.70,200.40 L104.00,200.23 L104.30,200.40 L104.60,201.78 L104.90,200.78 L105.20,201.39 L105.50,200.57 L105.80,203.45 L106.10,201.32 L106.40,204.00 L106.70,202.37 L107.00,203.40 L107.30,203.59 L107.60,201.30 L107.90,203.11 L108.20,203.48 L108.50,201.96 L108.80,201.37 L109.10,202.51 L109.40,203.12 L109.70,202.81 L110.00,202.68 L110.30,201.56 L110.60,202.84 L110.90,203.00 L110.90,220.80 L110.58,223.03 L110.26,221.25 L109.93,221.88 L109.61,221.42 L109.29,221.55 L108.97,222.39 L108.64,221.99 L108.32,222.06 L108.00,223.89 L107.67,222.45 L107.33,223.44 L107.00,224.28 L106.67,223.09 L106.33,223.52 L106.00,223.01 L105.69,222.96 L105.38,224.91 L105.08,223.32 L104.77,222.95 L104.46,225.01 L104.15,224.46 L103.85,224.44 L103.54,222.94 L103.23,224.69 L102.92,222.63 L102.62,223.39 L102.31,223.33 L102.00,222.55 L101.68,222.62 L101.36,222.38 L101.04,222.67 L100.72,222.70 L100.40,223.73 L100.08,223.39 L99.76,222.05 L99.44,222.05 L99.12,222.34 L98.80,221.87 Z" fill="#000" stroke="#000" stroke-width="0.5"/>
<path d="M110.97,212.06 L110.77,211.38 L110.92,211.55 L111.02,212.06 L111.21,210.77 L111.03,210.81 L111.28,209.81 L111.12,210.70 L111.01,209.14 L111.36,210.12 L111.21,208.02 L111.39,209.18 L111.39,209.64 L111.45,207.90 L111.18,207.27 L111.35,207.51 L111.26,206.40 L111.46,207.16 L111.38,207.84 L111.52,205.15 L111.46,206.72 L111.52,206.18 L111.50,204.91 L111.94,205.32 L111.97,204.04 L112.00,204.63 L112.01,204.57 L112.21,205.15 L112.33,203.38 L112.25,202.44 L112.60,202.01 L112.44,201.87 L112.71,203.21 L112.85,202.87 L112.72,200.57 L113.11,201.05 L113.32,200.94 L113.33,200.53 L113.53,201.94 L113.96,200.35 L114.13,200.25 L114.21,201.33 L114.65,201.31 L114.82,200.26 L114.98,198.62 L115.48,200.47 L115.46,200.39 L115.90,198.70 L116.04,200.16 L116.31,200.04 L116.51,198.54 L117.01,198.02 L117.15,199.58 L117.53,199.28 L117.74,197.62 L118.10,197.56 L118.65,197.73 L118.79,197.20 L119.09,197.79 L119.35,196.89 L119.54,198.71 L119.94,197.16 L120.18,197.22 L120.51,196.57 L120.99,197.31 L121.09,198.20 L121.38,197.07 L121.98,196.68 L122.13,198.43 L122.58,196.70 L122.71,198.08 L123.03,198.65 L123.27,198.60 L123.69,196.74 L123.98,196.47 L124.40,196.77 L124.79,197.56 L124.89,196.67 L125.30,196.56 L125.72,196.31 L125.89,197.34 L126.11,197.88 L126.47,197.57 L126.86,196.67 L127.10,196.07 L127.33,197.97 L127.70,197.47 L127.93,197.18 L128.40,197.00" stroke="#000" stroke-width="1.2" fill="none" stroke-linejoin="round"/>
<line x1="98.50" y1="194.10" x2="110.20" y2="194.10" stroke="#000" stroke-width="1.7"/>
<path d="M190.80,195.70 L199.90,195.90 L200.00,266.40 L200.60,264.00 L201.50,257.00 L203.00,248.00 L205.00,239.00 L207.50,231.00 L209.80,226.00 L210.30,222.00 L210.60,205.00 L211.20,199.00 L212.50,197.00 L215.00,196.30 L228.80,195.80" stroke="#222" stroke-width="0.8" fill="none" stroke-linejoin="round"/>
<line x1="199.60" y1="194.80" x2="208.90" y2="194.80" stroke="#000" stroke-width="1.6"/>
<path d="M90.80,284.20 L91.10,284.40 L91.40,284.11 L91.70,283.77 L92.00,284.13 L92.30,284.01 L92.60,283.86 L92.90,284.71 L93.20,284.09 L93.50,284.26 L93.80,284.99 L94.10,284.80 L94.40,284.95 L94.70,284.92 L95.00,283.87 L95.30,284.08 L95.60,283.72 L95.90,284.66 L96.20,284.64 L96.50,284.19 L96.80,284.27 L97.10,284.63 L97.40,284.69 L97.70,284.04 L98.00,284.90 L98.30,284.19 L98.60,284.59 L98.90,283.94 L99.20,283.85 L99.50,284.99 L99.80,284.74" stroke="#ff1a1a" stroke-width="1.1" fill="none" stroke-linejoin="round"/>
<line x1="99.90" y1="284.40" x2="99.90" y2="306.40" stroke="#ff1a1a" stroke-width="0.7"/>
<path d="M100.30,296.78 L100.61,298.32 L100.93,298.25 L101.24,298.10 L101.55,297.98 L101.87,297.74 L102.18,297.50 L102.49,297.88 L102.81,297.50 L103.12,296.44 L103.43,297.56 L103.75,295.34 L104.06,296.48 L104.37,295.80 L104.69,297.17 L105.00,296.69 L105.31,295.73 L105.62,296.77 L105.94,297.09 L106.25,294.80 L106.56,295.03 L106.88,296.63 L107.19,296.81 L107.50,294.42 L107.81,295.50 L108.12,296.61 L108.44,296.35 L108.75,296.44 L109.06,294.40 L109.38,296.20 L109.69,293.59 L110.00,294.40 L110.30,296.03 L110.60,294.36 L110.90,295.25 L111.20,293.81 L111.50,293.25 L111.80,295.05 L112.10,295.12 L112.40,292.13 L112.70,294.27 L113.00,291.93 L113.30,293.43 L113.60,293.47 L113.90,293.28 L114.20,294.48 L114.50,296.00 L114.50,300.50 L114.19,300.81 L113.88,302.71 L113.56,302.73 L113.25,302.11 L112.94,302.74 L112.62,303.22 L112.31,302.49 L112.00,304.09 L111.69,303.54 L111.38,304.53 L111.08,303.31 L110.77,303.92 L110.46,303.33 L110.15,305.27 L109.85,303.72 L109.54,303.92 L109.23,305.84 L108.92,304.33 L108.62,304.61 L108.31,304.22 L108.00,304.34 L107.69,305.36 L107.38,305.57 L107.08,304.50 L106.77,304.77 L106.46,304.72 L106.15,305.11 L105.85,305.10 L105.54,304.89 L105.23,305.11 L104.92,305.76 L104.62,306.11 L104.31,307.47 L104.00,306.02 L103.69,305.56 L103.38,307.04 L103.08,306.76 L102.77,305.67 L102.46,307.15 L102.15,305.89 L101.84,308.01 L101.53,306.66 L101.22,306.57 L100.92,307.39 L100.61,306.32 L100.30,306.89 Z" fill="#ff1a1a" stroke="#ff1a1a" stroke-width="0.5"/>
<path d="M114.42,297.72 L114.53,296.84 L114.70,296.83 L115.01,297.04 L114.92,296.51 L115.20,296.30 L115.22,295.44 L115.30,296.97 L115.74,294.89 L115.87,296.38 L115.95,294.37 L116.07,294.73 L116.09,294.66 L116.16,295.12 L116.56,294.25 L116.77,294.01 L116.60,292.91 L116.66,292.18 L117.01,293.50 L116.92,291.91 L117.16,292.92 L117.37,291.29 L117.41,292.31 L117.50,291.02 L117.37,291.71 L117.53,290.51 L117.72,290.22 L117.93,289.67 L117.72,290.03 L118.05,290.23 L118.23,290.11 L118.48,289.01 L118.45,288.05 L118.52,288.60 L118.58,288.52 L118.77,287.75 L119.24,286.76 L119.02,287.16 L119.23,287.43 L119.30,287.37 L119.89,287.08 L119.97,285.90 L120.31,286.18 L120.47,285.65 L120.73,286.11 L121.13,286.40 L121.15,285.08 L121.55,285.50 L121.80,284.65 L121.98,284.79 L122.41,285.96 L122.88,285.64 L123.19,285.71 L123.36,285.39 L123.44,285.09 L123.97,284.31 L124.26,285.57 L124.53,284.94 L124.77,284.31 L125.31,283.65 L125.34,284.91 L125.75,283.70 L126.14,284.24 L126.42,284.30 L126.70,284.56 L127.00,284.40" stroke="#ff1a1a" stroke-width="1.2" fill="none" stroke-linejoin="round"/>
<line x1="100.00" y1="281.90" x2="114.90" y2="281.90" stroke="#000" stroke-width="1.8"/>
<path d="M194.90,284.70 L198.40,284.90 L198.50,302.60 L200.00,300.80 L203.00,297.80 L205.60,295.50 L206.00,290.00 L206.60,286.50 L208.50,285.00 L213.30,284.60" stroke="#ff1a1a" stroke-width="0.9" fill="none" stroke-linejoin="round"/>
<line x1="198.50" y1="282.40" x2="206.10" y2="282.40" stroke="#000" stroke-width="1.6"/>
<path d="M88.70,335.72 L89.00,334.96 L89.30,335.14 L89.60,337.05 L89.90,336.13 L90.20,334.95 L90.50,336.98 L90.80,335.33 L91.10,334.91 L91.40,336.08 L91.70,335.33 L92.00,335.97 L92.30,336.15 L92.60,335.26 L92.90,336.20 L93.20,334.96 L93.50,336.04 L93.80,336.24 L94.10,334.87 L94.40,335.75 L94.70,334.85 L95.00,335.84 L95.30,336.98 L95.60,336.14 L95.90,336.58 L96.20,336.69" stroke="#d6ab35" stroke-width="1.1" fill="none" stroke-linejoin="round"/>
<line x1="96.40" y1="336.00" x2="96.40" y2="367.00" stroke="#d6ab35" stroke-width="0.7"/>
<path d="M96.80,366.56 L97.14,363.34 L97.48,364.69 L97.82,366.21 L98.16,363.91 L98.50,365.51 L98.81,365.75 L99.12,362.74 L99.42,364.52 L99.73,363.46 L100.04,365.17 L100.35,363.15 L100.65,364.91 L100.96,364.59 L101.27,364.17 L101.58,364.46 L101.88,363.18 L102.19,364.01 L102.50,363.71 L102.81,362.29 L103.12,363.20 L103.42,361.15 L103.73,362.33 L104.04,361.03 L104.35,362.34 L104.65,360.55 L104.96,360.71 L105.27,362.94 L105.58,361.14 L105.88,362.44 L106.19,360.84 L106.50,361.12 L106.81,359.91 L107.12,361.53 L107.44,360.62 L107.75,358.81 L108.06,357.16 L108.38,357.86 L108.69,359.01 L109.00,357.33 L109.30,358.27 L109.60,357.14 L109.90,355.84 L110.20,357.66 L110.50,357.50 L110.50,370.00 L110.10,374.12 L109.77,372.66 L109.45,373.15 L109.12,373.25 L108.79,374.48 L108.46,375.76 L108.14,374.64 L107.81,376.33 L107.48,375.02 L107.15,375.85 L106.83,376.02 L106.50,377.11 L106.19,377.84 L105.88,376.54 L105.58,376.70 L105.27,378.46 L104.96,378.98 L104.65,377.99 L104.35,377.67 L104.04,378.13 L103.73,378.08 L103.42,380.47 L103.12,380.11 L102.81,379.91 L102.50,379.70 L102.19,381.07 L101.88,379.51 L101.58,380.04 L101.27,381.06 L100.96,380.36 L100.65,381.12 L100.35,380.70 L100.04,382.38 L99.73,381.11 L99.42,381.31 L99.12,381.57 L98.81,382.58 L98.50,383.69 L98.16,382.60 L97.82,382.33 L97.48,382.52 L97.14,383.57 L96.80,384.66 Z" fill="#d6ab35" stroke="#d6ab35" stroke-width="0.5"/>
<path d="M110.54,364.56 L110.40,365.26 L110.55,365.64 L110.55,364.63 L110.42,365.04 L110.59,362.97 L110.67,365.71 L110.53,362.76 L110.81,362.86 L110.68,363.27 L110.71,363.19 L110.84,364.11 L111.06,360.90 L110.92,362.91 L111.07,362.62 L111.01,361.88 L110.93,360.46 L111.13,362.02 L111.22,361.12 L111.00,361.07 L111.20,359.97 L111.19,359.17 L111.19,359.04 L111.02,358.52 L111.16,360.27 L111.25,358.01 L111.19,357.29 L111.26,356.67 L111.15,358.68 L111.36,357.04 L111.44,356.29 L111.31,355.24 L111.39,355.70 L111.59,356.16 L111.71,355.19 L111.73,355.66 L111.42,354.08 L111.65,356.32 L111.59,355.35 L111.65,355.34 L111.54,353.83 L111.90,352.87 L111.68,351.77 L111.67,352.24 L111.92,351.78 L111.82,351.42 L111.94,353.21 L111.98,350.80 L112.05,352.91 L112.03,349.83 L112.14,352.03 L111.98,349.40 L111.95,350.36 L112.26,350.38 L112.31,348.73 L112.10,350.12 L112.26,348.73 L112.30,348.22 L112.08,348.15 L112.11,348.52 L112.25,347.80 L112.39,346.75 L112.36,345.68 L112.58,347.11 L112.63,345.21 L112.52,347.01 L112.43,344.72 L112.40,344.57 L112.69,344.11 L112.75,344.86 L112.68,345.08 L112.72,345.00 L112.78,343.67 L112.88,343.14 L112.90,344.43 L112.97,342.70 L113.01,344.50 L112.92,342.00 L112.99,343.79 L112.87,340.55 L113.05,342.29 L113.21,341.07 L113.34,340.34 L113.28,339.61 L113.03,339.45 L113.08,340.31 L113.32,339.00 L113.52,339.28 L113.24,338.38 L113.52,340.43 L113.32,337.32 L113.61,337.69 L113.92,338.27 L114.01,337.55 L114.30,337.69 L114.34,338.86 L114.48,338.10 L114.69,337.59 L115.05,338.06 L115.14,336.88 L115.51,337.77 L115.95,336.63 L115.89,335.22 L116.21,335.75 L116.51,334.99 L117.03,336.33 L117.15,337.40 L117.43,336.03 L117.71,336.91 L118.30,335.00 L118.56,336.71 L118.68,335.12 L119.07,336.85 L119.25,336.15 L119.73,335.39 L120.03,336.71 L120.18,336.69 L120.54,336.34 L121.05,334.43 L121.35,336.97 L121.42,333.89 L121.64,336.86 L121.90,336.64 L122.26,336.06 L122.54,334.25 L123.07,333.98 L123.24,336.57 L123.69,336.43 L124.09,333.73 L124.09,336.10 L124.58,333.70 L124.80,334.29 L125.07,333.87 L125.21,336.64 L125.63,336.26 L125.85,335.01 L126.15,334.80 L126.60,335.00" stroke="#d6ab35" stroke-width="1.2" fill="none" stroke-linejoin="round"/>
<line x1="95.30" y1="332.40" x2="109.70" y2="332.40" stroke="#000" stroke-width="1.7"/>
<path d="M187.70,333.70 L194.30,333.90 L194.40,369.60 L196.00,364.00 L198.50,358.50 L201.50,354.50 L205.00,351.50 L207.50,349.00 L208.50,342.00 L209.50,336.00 L211.50,334.00 L220.40,333.70" stroke="#d6ab35" stroke-width="0.9" fill="none" stroke-linejoin="round"/>
<line x1="195.00" y1="332.80" x2="208.00" y2="332.80" stroke="#000" stroke-width="1.6"/>
<path d="M83.60,396.73 L83.90,398.10 L84.20,396.65 L84.50,398.24 L84.80,397.60 L85.10,396.55 L85.40,397.20 L85.70,397.59 L86.00,398.73 L86.30,397.19 L86.60,396.83 L86.90,398.86 L87.20,398.63 L87.50,398.22 L87.80,396.99 L88.10,396.73 L88.40,396.96 L88.70,396.44 L89.00,396.37 L89.30,397.62 L89.60,397.35 L89.90,397.75 L90.20,397.23 L90.50,396.28 L90.80,398.11 L91.10,398.01 L91.40,397.72 L91.70,397.73 L92.00,398.11 L92.30,398.90 L92.60,398.61 L92.90,398.19 L93.20,397.33" stroke="#4d72c2" stroke-width="1.1" fill="none" stroke-linejoin="round"/>
<line x1="93.40" y1="397.60" x2="93.40" y2="457.70" stroke="#4d72c2" stroke-width="0.7"/>
<path d="M93.80,444.48 L94.10,443.98 L94.40,441.26 L94.70,443.55 L95.00,443.30 L95.30,442.98 L95.60,443.19 L95.90,439.81 L96.20,442.74 L96.50,441.30 L96.80,439.48 L97.10,441.76 L97.40,440.52 L97.70,441.00 L98.00,441.01 L98.30,440.95 L98.60,440.92 L98.90,438.57 L99.20,438.75 L99.50,437.96 L99.80,440.47 L100.10,438.82 L100.40,439.90 L100.70,438.78 L101.00,439.04 L101.30,439.56 L101.60,436.74 L101.90,439.64 L102.20,437.74 L102.50,437.07 L102.80,438.45 L103.10,438.04 L103.40,435.87 L103.70,438.74 L104.00,437.53 L104.31,436.85 L104.62,437.97 L104.92,436.62 L105.23,437.57 L105.54,436.99 L105.85,436.49 L106.15,436.04 L106.46,436.99 L106.77,435.87 L107.08,436.01 L107.38,436.61 L107.69,435.38 L108.00,436.18 L108.32,433.58 L108.64,435.32 L108.95,434.19 L109.27,434.80 L109.59,434.76 L109.91,435.15 L110.23,435.06 L110.55,432.19 L110.86,433.87 L111.18,433.70 L111.50,434.40 L111.50,442.80 L111.20,443.44 L110.90,444.41 L110.60,445.64 L110.30,446.87 L110.00,446.43 L109.69,446.29 L109.38,448.16 L109.08,447.55 L108.77,446.79 L108.46,448.63 L108.15,447.29 L107.85,447.60 L107.54,447.72 L107.23,448.97 L106.92,448.00 L106.62,448.12 L106.31,449.09 L106.00,448.60 L105.69,448.62 L105.38,449.08 L105.08,449.12 L104.77,449.29 L104.46,449.21 L104.15,449.84 L103.85,449.63 L103.54,450.53 L103.23,449.59 L102.92,451.04 L102.62,451.30 L102.31,450.43 L102.00,450.48 L101.69,451.37 L101.38,452.80 L101.06,450.99 L100.75,450.84 L100.44,451.52 L100.12,451.89 L99.81,452.99 L99.50,451.96 L99.19,451.88 L98.88,452.21 L98.56,452.33 L98.25,452.51 L97.94,454.29 L97.62,454.55 L97.31,453.44 L97.00,453.30 L96.68,455.48 L96.36,455.96 L96.04,456.05 L95.72,455.76 L95.40,455.66 L95.08,457.14 L94.76,455.96 L94.44,456.40 L94.12,458.22 L93.80,457.67 Z" fill="#4d72c2" stroke="#4d72c2" stroke-width="0.5"/>
<path d="M111.78,435.69 L111.92,435.21 L111.83,435.73 L112.02,434.73 L111.88,434.95 L112.13,433.73 L112.18,434.64 L111.97,434.22 L111.99,432.52 L112.19,432.94 L112.13,432.90 L112.31,433.20 L111.99,432.51 L112.20,431.89 L112.38,431.47 L112.27,432.28 L112.29,431.03 L112.35,431.51 L112.44,431.00 L112.37,429.05 L112.51,429.94 L112.58,430.14 L112.35,428.55 L112.34,429.64 L112.37,427.63 L112.64,428.44 L112.37,428.41 L112.65,427.65 L112.40,427.83 L112.55,427.28 L112.80,427.52 L112.76,425.65 L112.56,426.22 L112.44,427.02 L112.56,425.01 L112.59,424.69 L112.82,425.10 L112.69,424.48 L112.52,423.90 L112.86,424.76 L112.87,423.19 L112.62,422.40 L112.76,422.85 L112.75,422.82 L112.81,422.23 L112.91,421.54 L112.97,422.07 L112.63,421.20 L112.84,421.12 L112.86,420.62 L112.76,421.42 L112.78,420.92 L113.00,420.34 L112.87,420.84 L112.88,420.40 L112.74,419.06 L112.98,417.86 L113.08,417.61 L112.99,417.56 L113.13,418.15 L113.10,417.70 L113.06,417.81 L112.92,416.42 L113.15,415.96 L113.21,415.80 L112.90,415.23 L113.19,416.92 L113.06,415.93 L113.02,416.20 L113.21,414.14 L112.98,415.10 L112.99,415.12 L113.11,413.40 L113.24,413.29 L113.25,412.60 L113.41,412.69 L113.41,411.98 L113.41,413.61 L113.26,411.08 L113.28,412.20 L113.24,411.67 L113.20,411.17 L113.48,410.78 L113.48,409.74 L113.55,409.45 L113.61,411.18 L113.64,409.78 L113.40,409.05 L113.60,409.09 L113.73,407.84 L113.61,409.33 L113.71,408.26 L113.56,407.01 L113.69,408.46 L113.97,406.59 L114.06,405.83 L113.98,407.70 L113.94,407.34 L114.12,404.94 L114.04,405.56 L114.07,405.93 L114.09,405.73 L114.20,403.74 L114.36,403.49 L114.41,404.80 L114.48,403.72 L114.31,403.53 L114.44,403.56 L114.55,403.11 L114.74,402.35 L114.97,401.57 L114.87,403.10 L115.03,402.58 L115.35,401.45 L115.16,400.26 L115.55,400.02 L115.50,400.72 L115.45,400.27 L115.57,400.14 L115.80,399.46 L115.78,399.26 L115.88,398.33 L116.18,399.94 L116.57,399.86 L116.66,399.85 L117.14,399.37 L117.46,399.00 L117.61,399.01 L117.86,397.75 L118.12,397.99 L118.62,397.69 L119.08,397.14 L119.26,397.43 L119.58,398.66 L119.93,396.91 L120.05,398.10 L120.65,396.73 L120.82,398.20 L121.20,397.32 L121.51,397.53 L121.86,396.42 L122.18,397.29 L122.28,396.50 L122.52,397.98 L123.01,396.59 L123.19,396.53 L123.44,396.69 L123.81,398.43 L124.39,397.96 L124.49,397.24 L124.92,398.17 L125.23,397.51 L125.32,397.45 L125.89,397.80 L125.90,397.60 L126.31,396.27 L126.87,397.44 L127.00,397.00" stroke="#4d72c2" stroke-width="1.2" fill="none" stroke-linejoin="round"/>
<line x1="94.10" y1="394.20" x2="112.10" y2="394.20" stroke="#000" stroke-width="1.8"/>
<path d="M187.70,396.00 L194.30,396.20 L194.40,423.60 L196.00,418.00 L198.50,413.00 L201.50,410.00 L205.00,407.60 L206.30,405.00 L207.00,398.00 L208.00,396.30 L214.00,396.00" stroke="#4d72c2" stroke-width="0.9" fill="none" stroke-linejoin="round"/>
<line x1="194.40" y1="394.70" x2="205.20" y2="394.70" stroke="#000" stroke-width="1.6"/>
<path d="M84.00,473.42 L84.30,471.88 L84.60,473.63 L84.90,473.90 L85.20,473.82 L85.50,473.42 L85.80,473.64 L86.10,473.56 L86.40,473.03 L86.70,472.64 L87.00,473.62 L87.30,473.52 L87.60,473.73 L87.90,472.29 L88.20,473.96 L88.50,472.88 L88.80,473.92 L89.10,471.83 L89.40,473.98 L89.70,473.52 L90.00,472.18" stroke="#6cab4c" stroke-width="1.1" fill="none" stroke-linejoin="round"/>
<line x1="90.40" y1="472.80" x2="90.40" y2="524.30" stroke="#6cab4c" stroke-width="0.7"/>
<path d="M90.80,502.75 L91.10,504.60 L91.40,504.42 L91.70,503.64 L92.00,503.91 L92.30,503.08 L92.60,500.99 L92.90,501.90 L93.20,501.56 L93.50,502.45 L93.80,500.75 L94.10,500.47 L94.40,500.77 L94.70,499.19 L95.00,499.62 L95.31,501.12 L95.62,501.48 L95.94,499.99 L96.25,498.96 L96.56,500.68 L96.88,499.77 L97.19,498.51 L97.50,498.59 L97.81,500.45 L98.12,499.53 L98.44,500.15 L98.75,499.96 L99.06,497.74 L99.38,499.14 L99.69,498.38 L100.00,498.73 L100.31,498.94 L100.62,499.05 L100.94,498.70 L101.25,496.72 L101.56,497.67 L101.88,498.53 L102.19,498.68 L102.50,498.36 L102.81,496.93 L103.12,497.77 L103.44,496.90 L103.75,496.12 L104.06,498.05 L104.38,496.51 L104.69,497.89 L105.00,495.63 L105.32,497.64 L105.64,497.46 L105.96,494.70 L106.28,497.17 L106.60,497.37 L106.92,494.95 L107.24,496.24 L107.56,494.82 L107.88,496.82 L108.20,496.47 L108.52,494.29 L108.84,496.34 L109.16,493.98 L109.48,496.94 L109.80,497.00 L109.80,512.20 L109.48,513.75 L109.17,513.21 L108.85,514.50 L108.53,512.62 L108.22,512.91 L107.90,512.40 L107.58,513.60 L107.27,512.39 L106.95,513.19 L106.63,513.54 L106.32,512.57 L106.00,512.21 L105.69,513.12 L105.38,513.27 L105.08,512.62 L104.77,514.60 L104.46,514.99 L104.15,512.98 L103.85,513.32 L103.54,513.19 L103.23,514.66 L102.92,514.71 L102.62,515.46 L102.31,515.03 L102.00,514.28 L101.69,514.65 L101.38,515.12 L101.06,515.77 L100.75,514.21 L100.44,516.59 L100.12,514.72 L99.81,515.10 L99.50,516.58 L99.19,515.80 L98.88,515.45 L98.56,515.24 L98.25,515.96 L97.94,516.15 L97.62,515.51 L97.31,517.50 L97.00,515.87 L96.69,516.64 L96.38,516.03 L96.08,517.39 L95.77,518.55 L95.46,519.01 L95.15,517.59 L94.85,518.19 L94.54,519.65 L94.23,518.90 L93.92,518.50 L93.62,519.08 L93.31,519.24 L93.00,520.97 L92.69,520.27 L92.37,522.29 L92.06,520.59 L91.74,520.89 L91.43,521.92 L91.11,521.69 L90.80,523.66 Z" fill="#6cab4c" stroke="#6cab4c" stroke-width="0.5"/>
<path d="M110.07,497.57 L110.21,498.45 L110.12,496.60 L109.92,497.37 L110.21,497.86 L110.04,495.20 L110.13,497.56 L110.00,496.76 L110.03,494.92 L110.00,494.57 L110.15,496.68 L110.40,493.57 L110.16,496.00 L110.14,493.46 L110.26,492.39 L110.20,493.12 L110.27,494.87 L110.25,491.83 L110.52,492.42 L110.51,492.79 L110.51,491.33 L110.28,492.63 L110.43,491.61 L110.53,492.01 L110.39,490.31 L110.67,490.61 L110.43,490.66 L110.44,490.86 L110.37,490.75 L110.60,488.74 L110.77,488.12 L110.51,487.11 L110.65,489.26 L110.73,487.72 L110.80,486.33 L110.62,487.94 L110.90,487.60 L110.81,487.80 L110.71,488.09 L110.87,485.62 L110.75,486.99 L110.75,484.45 L110.98,485.38 L110.85,485.57 L111.03,483.33 L110.82,482.78 L110.87,484.05 L111.06,484.33 L110.97,483.08 L110.99,482.30 L111.12,483.85 L111.14,481.24 L111.13,483.10 L111.13,483.31 L111.35,482.44 L111.38,481.79 L111.46,479.61 L111.46,481.36 L111.48,479.50 L111.33,480.37 L111.69,478.87 L111.51,478.38 L111.53,479.70 L111.94,479.84 L111.76,479.16 L111.70,479.34 L111.87,476.02 L112.05,476.20 L112.09,475.67 L112.34,477.21 L112.67,475.11 L112.86,475.12 L112.80,476.74 L113.03,475.42 L113.30,474.77 L113.57,474.49 L113.77,476.40 L113.83,473.36 L114.11,473.10 L114.29,474.43 L114.40,475.08 L114.95,474.83 L115.10,474.47 L115.46,473.35 L115.86,476.03 L116.12,475.81 L116.22,475.81 L116.40,473.88 L116.71,473.71 L117.22,474.53 L117.41,473.12 L117.59,473.24 L117.91,472.40 L118.39,473.50 L118.58,472.30 L118.98,472.24 L119.11,473.50 L119.58,474.93 L119.90,474.79 L120.27,473.92 L120.49,471.49 L120.58,471.26 L121.15,473.75 L121.35,472.05 L121.54,471.63 L121.95,474.56 L122.12,471.10 L122.37,472.16 L122.96,473.72 L123.08,471.14 L123.24,471.27 L123.81,472.36 L124.20,473.89 L124.42,472.27 L124.60,472.30" stroke="#6cab4c" stroke-width="1.2" fill="none" stroke-linejoin="round"/>
<line x1="91.20" y1="469.80" x2="108.90" y2="469.80" stroke="#000" stroke-width="1.8"/>
<path d="M190.10,473.10 L195.90,473.30 L196.00,516.00 L197.50,511.00 L200.00,505.00 L203.00,501.00 L206.80,497.70 L207.50,490.00 L208.00,481.00 L209.50,476.00 L212.00,473.80 L217.30,473.20" stroke="#6cab4c" stroke-width="0.9" fill="none" stroke-linejoin="round"/>
<line x1="196.30" y1="471.60" x2="207.70" y2="471.60" stroke="#000" stroke-width="1.6"/>
<path d="M63.8,525.7 L63.8,536.6 L79.6,536.6" stroke="#000" stroke-width="1.5" fill="none" stroke-linejoin="round" stroke-linejoin="miter"/>
<text x="27.40" y="534.94" font-size="11.0" font-weight="bold" text-anchor="start" fill="#000" textLength="30.3" lengthAdjust="spacingAndGlyphs">50 pA</text>
<text x="62.90" y="549.44" font-size="11.0" font-weight="bold" text-anchor="start" fill="#000" textLength="21.1" lengthAdjust="spacingAndGlyphs">10 s</text>
<path d="M225.2,506.4 L225.2,512.4 L238.3,512.4" stroke="#000" stroke-width="1.5" fill="none" stroke-linejoin="round" stroke-linejoin="miter"/>
<text x="227.00" y="504.57" font-size="11.1" font-weight="bold" text-anchor="start" fill="#000" textLength="36.7" lengthAdjust="spacingAndGlyphs">200 pA</text>
<text x="225.70" y="525.64" font-size="11.0" font-weight="bold" text-anchor="start" fill="#000" textLength="20.9" lengthAdjust="spacingAndGlyphs">10 s</text>
<text x="267.18" y="181.12" font-size="18.2" font-weight="bold" text-anchor="start" fill="#000">D</text>
<rect x="335.30" y="255.07" width="5.80" height="4.83" fill="#000" stroke="#000" stroke-width="1.0"/>
<rect x="348.70" y="255.87" width="5.80" height="4.03" fill="#000" stroke="#000" stroke-width="1.0"/>
<rect x="362.10" y="243.48" width="5.80" height="16.42" fill="#e81010" stroke="#000" stroke-width="1.0"/>
<rect x="375.30" y="241.38" width="5.80" height="18.51" fill="#ffff33" stroke="#000" stroke-width="1.0"/>
<rect x="388.70" y="230.11" width="5.80" height="29.78" fill="#1010ee" stroke="#000" stroke-width="1.0"/>
<rect x="402.00" y="237.36" width="5.80" height="22.54" fill="#33dd33" stroke="#000" stroke-width="1.0"/>
<line x1="338.20" y1="255.07" x2="338.20" y2="253.46" stroke="#000" stroke-width="1.0"/>
<line x1="335.70" y1="253.46" x2="340.70" y2="253.46" stroke="#000" stroke-width="1.0"/>
<line x1="351.60" y1="255.87" x2="351.60" y2="255.07" stroke="#000" stroke-width="1.0"/>
<line x1="349.10" y1="255.07" x2="354.10" y2="255.07" stroke="#000" stroke-width="1.0"/>
<line x1="365.00" y1="243.48" x2="365.00" y2="238.16" stroke="#000" stroke-width="1.0"/>
<line x1="362.50" y1="238.16" x2="367.50" y2="238.16" stroke="#000" stroke-width="1.0"/>
<line x1="378.20" y1="241.38" x2="378.20" y2="238.16" stroke="#000" stroke-width="1.0"/>
<line x1="375.70" y1="238.16" x2="380.70" y2="238.16" stroke="#000" stroke-width="1.0"/>
<line x1="391.60" y1="230.11" x2="391.60" y2="222.06" stroke="#000" stroke-width="1.0"/>
<line x1="389.10" y1="222.06" x2="394.10" y2="222.06" stroke="#000" stroke-width="1.0"/>
<line x1="404.90" y1="237.36" x2="404.90" y2="233.33" stroke="#000" stroke-width="1.0"/>
<line x1="402.40" y1="233.33" x2="407.40" y2="233.33" stroke="#000" stroke-width="1.0"/>
<circle cx="338.20" cy="247.02" r="1.65" fill="#000"/>
<circle cx="339.81" cy="247.82" r="1.65" fill="#000"/>
<circle cx="336.34" cy="248.63" r="1.65" fill="#000"/>
<circle cx="336.24" cy="249.43" r="1.65" fill="#000"/>
<circle cx="338.52" cy="250.24" r="1.65" fill="#000"/>
<circle cx="338.24" cy="251.04" r="1.65" fill="#000"/>
<circle cx="336.75" cy="251.85" r="1.65" fill="#000"/>
<circle cx="336.96" cy="252.65" r="1.65" fill="#000"/>
<circle cx="335.81" cy="253.46" r="1.65" fill="#000"/>
<circle cx="340.24" cy="254.26" r="1.65" fill="#000"/>
<circle cx="339.25" cy="255.07" r="1.65" fill="#000"/>
<circle cx="340.43" cy="255.07" r="1.65" fill="#000"/>
<circle cx="340.60" cy="255.87" r="1.65" fill="#000"/>
<circle cx="337.88" cy="256.68" r="1.65" fill="#000"/>
<circle cx="339.36" cy="256.68" r="1.65" fill="#000"/>
<circle cx="337.62" cy="257.48" r="1.65" fill="#000"/>
<circle cx="339.76" cy="258.29" r="1.65" fill="#000"/>
<circle cx="339.91" cy="258.61" r="1.65" fill="#000"/>
<circle cx="336.37" cy="259.09" r="1.65" fill="#000"/>
<circle cx="335.76" cy="259.42" r="1.65" fill="#000"/>
<circle cx="351.60" cy="253.46" r="1.65" fill="#000"/>
<circle cx="350.17" cy="254.26" r="1.65" fill="#000"/>
<circle cx="352.03" cy="255.07" r="1.65" fill="#000"/>
<circle cx="350.99" cy="255.39" r="1.65" fill="#000"/>
<circle cx="349.15" cy="255.87" r="1.65" fill="#000"/>
<circle cx="353.25" cy="256.36" r="1.65" fill="#000"/>
<circle cx="353.03" cy="256.68" r="1.65" fill="#000"/>
<circle cx="351.42" cy="257.48" r="1.65" fill="#000"/>
<circle cx="349.32" cy="258.29" r="1.65" fill="#000"/>
<circle cx="353.55" cy="259.09" r="1.65" fill="#000"/>
<circle cx="365.00" cy="209.18" r="1.65" fill="#000"/>
<circle cx="365.00" cy="226.09" r="1.65" fill="#000"/>
<circle cx="365.00" cy="234.94" r="1.65" fill="#000"/>
<circle cx="365.00" cy="245.41" r="1.65" fill="#000"/>
<circle cx="365.00" cy="250.24" r="1.65" fill="#000"/>
<circle cx="365.00" cy="253.46" r="1.65" fill="#000"/>
<circle cx="365.17" cy="255.07" r="1.65" fill="#000"/>
<circle cx="362.85" cy="256.68" r="1.65" fill="#000"/>
<circle cx="364.12" cy="258.29" r="1.65" fill="#000"/>
<circle cx="365.62" cy="259.09" r="1.65" fill="#000"/>
<circle cx="378.20" cy="226.09" r="1.65" fill="#000"/>
<circle cx="378.20" cy="230.92" r="1.65" fill="#000"/>
<circle cx="380.13" cy="232.53" r="1.65" fill="#000"/>
<circle cx="378.20" cy="235.75" r="1.65" fill="#000"/>
<circle cx="378.20" cy="238.97" r="1.65" fill="#000"/>
<circle cx="378.20" cy="242.19" r="1.65" fill="#000"/>
<circle cx="378.20" cy="245.41" r="1.65" fill="#000"/>
<circle cx="378.12" cy="247.02" r="1.65" fill="#000"/>
<circle cx="378.20" cy="251.85" r="1.65" fill="#000"/>
<circle cx="378.20" cy="255.07" r="1.65" fill="#000"/>
<circle cx="378.90" cy="256.68" r="1.65" fill="#000"/>
<circle cx="376.73" cy="258.29" r="1.65" fill="#000"/>
<circle cx="376.92" cy="259.09" r="1.65" fill="#000"/>
<circle cx="380.23" cy="259.42" r="1.65" fill="#000"/>
<circle cx="391.60" cy="189.06" r="1.65" fill="#000"/>
<circle cx="391.01" cy="189.86" r="1.65" fill="#000"/>
<circle cx="391.60" cy="212.40" r="1.65" fill="#000"/>
<circle cx="391.60" cy="227.70" r="1.65" fill="#000"/>
<circle cx="391.60" cy="235.75" r="1.65" fill="#000"/>
<circle cx="391.60" cy="240.58" r="1.65" fill="#000"/>
<circle cx="391.60" cy="247.02" r="1.65" fill="#000"/>
<circle cx="391.60" cy="251.85" r="1.65" fill="#000"/>
<circle cx="391.60" cy="255.07" r="1.65" fill="#000"/>
<circle cx="391.60" cy="258.29" r="1.65" fill="#000"/>
<circle cx="404.90" cy="203.55" r="1.65" fill="#000"/>
<circle cx="404.90" cy="218.04" r="1.65" fill="#000"/>
<circle cx="404.90" cy="229.31" r="1.65" fill="#000"/>
<circle cx="404.90" cy="232.53" r="1.65" fill="#000"/>
<circle cx="402.92" cy="234.14" r="1.65" fill="#000"/>
<circle cx="405.36" cy="235.75" r="1.65" fill="#000"/>
<circle cx="403.03" cy="237.36" r="1.65" fill="#000"/>
<circle cx="404.90" cy="240.58" r="1.65" fill="#000"/>
<circle cx="404.90" cy="243.80" r="1.65" fill="#000"/>
<circle cx="404.90" cy="247.02" r="1.65" fill="#000"/>
<circle cx="404.90" cy="250.24" r="1.65" fill="#000"/>
<circle cx="404.90" cy="253.46" r="1.65" fill="#000"/>
<circle cx="404.90" cy="256.68" r="1.65" fill="#000"/>
<circle cx="403.40" cy="258.29" r="1.65" fill="#000"/>
<line x1="331.60" y1="179.40" x2="331.60" y2="259.90" stroke="#000" stroke-width="1.3"/>
<line x1="328.60" y1="259.90" x2="331.60" y2="259.90" stroke="#000" stroke-width="1.3"/>
<text x="327.20" y="263.59" font-size="10.3" font-weight="bold" text-anchor="end" fill="#000">0</text>
<line x1="328.60" y1="243.80" x2="331.60" y2="243.80" stroke="#000" stroke-width="1.3"/>
<text x="327.20" y="247.49" font-size="10.3" font-weight="bold" text-anchor="end" fill="#000">10</text>
<line x1="328.60" y1="227.70" x2="331.60" y2="227.70" stroke="#000" stroke-width="1.3"/>
<text x="327.20" y="231.39" font-size="10.3" font-weight="bold" text-anchor="end" fill="#000">20</text>
<line x1="328.60" y1="211.60" x2="331.60" y2="211.60" stroke="#000" stroke-width="1.3"/>
<text x="327.20" y="215.29" font-size="10.3" font-weight="bold" text-anchor="end" fill="#000">30</text>
<line x1="328.60" y1="195.50" x2="331.60" y2="195.50" stroke="#000" stroke-width="1.3"/>
<text x="327.20" y="199.19" font-size="10.3" font-weight="bold" text-anchor="end" fill="#000">40</text>
<line x1="328.60" y1="179.40" x2="331.60" y2="179.40" stroke="#000" stroke-width="1.3"/>
<text x="327.20" y="183.09" font-size="10.3" font-weight="bold" text-anchor="end" fill="#000">50</text>
<line x1="331.60" y1="259.90" x2="412.00" y2="259.90" stroke="#000" stroke-width="1.3"/>
<line x1="338.20" y1="259.90" x2="338.20" y2="263.10" stroke="#000" stroke-width="1.3"/>
<line x1="351.60" y1="259.90" x2="351.60" y2="263.10" stroke="#000" stroke-width="1.3"/>
<line x1="365.00" y1="259.90" x2="365.00" y2="263.10" stroke="#000" stroke-width="1.3"/>
<line x1="378.20" y1="259.90" x2="378.20" y2="263.10" stroke="#000" stroke-width="1.3"/>
<line x1="391.60" y1="259.90" x2="391.60" y2="263.10" stroke="#000" stroke-width="1.3"/>
<line x1="404.90" y1="259.90" x2="404.90" y2="263.10" stroke="#000" stroke-width="1.3"/>
<text x="340.50" y="270.90" font-size="9.2" font-weight="bold" text-anchor="end" transform="rotate(-45 340.50 270.90)">Ctrl1<tspan font-size="5.5" dy="-3.3">~</tspan></text>
<text x="353.90" y="270.90" font-size="9.2" font-weight="bold" text-anchor="end" transform="rotate(-45 353.90 270.90)">Ctrl2</text>
<text x="367.30" y="270.90" font-size="9.2" font-weight="bold" text-anchor="end" transform="rotate(-45 367.30 270.90)">MHS-P1</text>
<text x="380.50" y="270.90" font-size="9.2" font-weight="bold" text-anchor="end" transform="rotate(-45 380.50 270.90)">MHS-P2<tspan font-size="5.5" dy="-3.3">~</tspan></text>
<text x="393.90" y="270.90" font-size="9.2" font-weight="bold" text-anchor="end" transform="rotate(-45 393.90 270.90)">MHS-P3</text>
<text x="407.20" y="270.90" font-size="9.2" font-weight="bold" text-anchor="end" transform="rotate(-45 407.20 270.90)">MHS-P4</text>
<text x="338.90" y="238.49" font-size="10.3" text-anchor="middle" fill="#000" stroke="#000" stroke-width="0.38">20</text>
<text x="350.20" y="245.59" font-size="10.3" text-anchor="middle" fill="#000" stroke="#000" stroke-width="0.38">10</text>
<text x="364.00" y="207.19" font-size="10.3" text-anchor="middle" fill="#000" stroke="#000" stroke-width="0.38">10</text>
<text x="377.60" y="212.29" font-size="10.3" text-anchor="middle" fill="#000" stroke="#000" stroke-width="0.38">14</text>
<text x="377.40" y="204.87" font-size="11.5" text-anchor="middle" fill="#000" stroke="#000" stroke-width="0.38">*</text>
<text x="377.40" y="193.01" font-size="8.5" text-anchor="middle" fill="#000" textLength="4.4" lengthAdjust="spacingAndGlyphs" stroke="#000" stroke-width="0.38">#</text>
<text x="391.50" y="179.69" font-size="10.3" text-anchor="middle" fill="#000" stroke="#000" stroke-width="0.38">10</text>
<text x="391.90" y="173.87" font-size="11.5" text-anchor="middle" fill="#000" stroke="#000" stroke-width="0.38">****</text>
<text x="391.90" y="162.21" font-size="8.5" text-anchor="middle" fill="#000" textLength="13.2" lengthAdjust="spacingAndGlyphs" stroke="#000" stroke-width="0.38">###</text>
<text x="405.00" y="201.59" font-size="10.3" text-anchor="middle" fill="#000" stroke="#000" stroke-width="0.38">14</text>
<text x="405.00" y="194.77" font-size="11.5" text-anchor="middle" fill="#000" stroke="#000" stroke-width="0.38">**</text>
<text x="405.00" y="183.41" font-size="8.5" text-anchor="middle" fill="#000" textLength="8.8" lengthAdjust="spacingAndGlyphs" stroke="#000" stroke-width="0.38">##</text>
<text x="299.63" y="282.79" font-size="9.60" textLength="122.16" lengthAdjust="spacingAndGlyphs" transform="rotate(-90 299.63 282.79)" stroke="#000" stroke-width="0.35">Glutamate current density</text>
<text x="311.43" y="239.70" font-size="9.20" textLength="35.21" lengthAdjust="spacingAndGlyphs" transform="rotate(-90 311.43 239.70)" stroke="#000" stroke-width="0.35">(pA/pF)</text>
<rect x="479.30" y="252.21" width="30.30" height="13.90" fill="#000" stroke="#000" stroke-width="1.0"/>
<line x1="494.45" y1="252.21" x2="494.45" y2="250.22" stroke="#000" stroke-width="1.3"/>
<line x1="489.45" y1="250.22" x2="499.45" y2="250.22" stroke="#000" stroke-width="1.3"/>
<line x1="541.30" y1="213.42" x2="541.30" y2="206.55" stroke="#000" stroke-width="1.3"/>
<line x1="534.05" y1="206.55" x2="548.55" y2="206.55" stroke="#000" stroke-width="1.3"/>
<line x1="541.30" y1="213.42" x2="541.30" y2="218.46" stroke="#000" stroke-width="1.3"/>
<line x1="534.05" y1="218.46" x2="548.55" y2="218.46" stroke="#000" stroke-width="1.3"/>
<rect x="526.20" y="213.42" width="30.20" height="52.68" fill="none" stroke="#000" stroke-width="1.3"/>
<line x1="463.10" y1="186.70" x2="463.10" y2="266.10" stroke="#000" stroke-width="1.3"/>
<line x1="460.10" y1="266.10" x2="463.10" y2="266.10" stroke="#000" stroke-width="1.3"/>
<text x="458.70" y="269.54" font-size="9.6" font-weight="bold" text-anchor="end" fill="#000">0</text>
<line x1="460.10" y1="246.25" x2="463.10" y2="246.25" stroke="#000" stroke-width="1.3"/>
<text x="458.70" y="249.69" font-size="9.6" font-weight="bold" text-anchor="end" fill="#000">5</text>
<line x1="460.10" y1="226.40" x2="463.10" y2="226.40" stroke="#000" stroke-width="1.3"/>
<text x="458.70" y="229.84" font-size="9.6" font-weight="bold" text-anchor="end" fill="#000">10</text>
<line x1="460.10" y1="206.55" x2="463.10" y2="206.55" stroke="#000" stroke-width="1.3"/>
<text x="458.70" y="209.99" font-size="9.6" font-weight="bold" text-anchor="end" fill="#000">15</text>
<line x1="460.10" y1="186.70" x2="463.10" y2="186.70" stroke="#000" stroke-width="1.3"/>
<text x="458.70" y="190.14" font-size="9.6" font-weight="bold" text-anchor="end" fill="#000">20</text>
<line x1="463.10" y1="266.10" x2="573.00" y2="266.10" stroke="#000" stroke-width="1.3"/>
<line x1="494.45" y1="266.10" x2="494.45" y2="269.30" stroke="#000" stroke-width="1.3"/>
<line x1="541.30" y1="266.10" x2="541.30" y2="269.30" stroke="#000" stroke-width="1.3"/>
<text x="494.30" y="247.48" font-size="10.0" font-weight="bold" text-anchor="middle" fill="#000">30</text>
<text x="541.50" y="203.58" font-size="10.0" font-weight="bold" text-anchor="middle" fill="#000">48</text>
<text x="541.50" y="196.35" font-size="10.3" text-anchor="middle" fill="#000" stroke="#000" stroke-width="0.38">****</text>
<text x="494.45" y="280.08" font-size="10.0" font-weight="bold" text-anchor="middle" fill="#000">Ctrl</text>
<text x="541.30" y="280.08" font-size="10.0" font-weight="bold" text-anchor="middle" fill="#000">MHS</text>
<text x="433.68" y="286.08" font-size="9.60" textLength="121.55" lengthAdjust="spacingAndGlyphs" transform="rotate(-90 433.68 286.08)" stroke="#000" stroke-width="0.35">Glutamate current density</text>
<text x="443.93" y="241.29" font-size="9.00" textLength="34.48" lengthAdjust="spacingAndGlyphs" transform="rotate(-90 443.93 241.29)" stroke="#000" stroke-width="0.35">(pA/pF)</text>
<text x="261.78" y="319.32" font-size="18.2" font-weight="bold" text-anchor="start" fill="#000">E</text>
<rect x="338.90" y="370.14" width="6.30" height="30.36" fill="#000" stroke="#000" stroke-width="1.0"/>
<rect x="351.40" y="377.73" width="6.30" height="22.77" fill="#808080" stroke="#000" stroke-width="1.0"/>
<rect x="363.85" y="396.70" width="6.30" height="3.80" fill="#b00000" stroke="#000" stroke-width="1.0"/>
<rect x="376.85" y="397.34" width="6.30" height="3.16" fill="#ffff33" stroke="#000" stroke-width="1.0"/>
<rect x="389.85" y="397.97" width="6.30" height="2.53" fill="#1010ee" stroke="#000" stroke-width="1.0"/>
<rect x="402.35" y="396.70" width="6.30" height="3.80" fill="#33dd33" stroke="#000" stroke-width="1.0"/>
<line x1="342.05" y1="370.14" x2="342.05" y2="364.45" stroke="#000" stroke-width="1.0"/>
<line x1="339.55" y1="364.45" x2="344.55" y2="364.45" stroke="#000" stroke-width="1.0"/>
<line x1="354.55" y1="377.73" x2="354.55" y2="374.57" stroke="#000" stroke-width="1.0"/>
<line x1="352.05" y1="374.57" x2="357.05" y2="374.57" stroke="#000" stroke-width="1.0"/>
<line x1="367.00" y1="396.70" x2="367.00" y2="395.44" stroke="#000" stroke-width="1.0"/>
<line x1="364.50" y1="395.44" x2="369.50" y2="395.44" stroke="#000" stroke-width="1.0"/>
<line x1="380.00" y1="397.34" x2="380.00" y2="396.07" stroke="#000" stroke-width="1.0"/>
<line x1="377.50" y1="396.07" x2="382.50" y2="396.07" stroke="#000" stroke-width="1.0"/>
<line x1="393.00" y1="397.97" x2="393.00" y2="396.70" stroke="#000" stroke-width="1.0"/>
<line x1="390.50" y1="396.70" x2="395.50" y2="396.70" stroke="#000" stroke-width="1.0"/>
<line x1="405.50" y1="396.70" x2="405.50" y2="395.44" stroke="#000" stroke-width="1.0"/>
<line x1="403.00" y1="395.44" x2="408.00" y2="395.44" stroke="#000" stroke-width="1.0"/>
<circle cx="342.05" cy="337.25" r="1.65" fill="#000"/>
<circle cx="342.05" cy="344.84" r="1.65" fill="#000"/>
<circle cx="342.05" cy="349.90" r="1.65" fill="#000"/>
<circle cx="342.05" cy="356.23" r="1.65" fill="#000"/>
<circle cx="342.05" cy="362.55" r="1.65" fill="#000"/>
<circle cx="341.83" cy="363.81" r="1.65" fill="#000"/>
<circle cx="342.48" cy="365.08" r="1.65" fill="#000"/>
<circle cx="342.05" cy="368.88" r="1.65" fill="#000"/>
<circle cx="342.05" cy="375.20" r="1.65" fill="#000"/>
<circle cx="342.05" cy="381.52" r="1.65" fill="#000"/>
<circle cx="342.05" cy="387.85" r="1.65" fill="#000"/>
<circle cx="354.55" cy="358.75" r="1.65" fill="#000"/>
<circle cx="354.55" cy="362.55" r="1.65" fill="#000"/>
<circle cx="354.55" cy="368.88" r="1.65" fill="#000"/>
<circle cx="354.55" cy="375.20" r="1.65" fill="#000"/>
<circle cx="355.23" cy="377.73" r="1.65" fill="#000"/>
<circle cx="354.55" cy="381.52" r="1.65" fill="#000"/>
<circle cx="354.55" cy="385.32" r="1.65" fill="#000"/>
<circle cx="355.58" cy="387.85" r="1.65" fill="#000"/>
<circle cx="354.25" cy="390.38" r="1.65" fill="#000"/>
<circle cx="354.55" cy="394.18" r="1.65" fill="#000"/>
<circle cx="367.00" cy="393.54" r="1.65" fill="#000"/>
<circle cx="364.84" cy="394.18" r="1.65" fill="#000"/>
<circle cx="368.12" cy="394.81" r="1.65" fill="#000"/>
<circle cx="364.77" cy="395.44" r="1.65" fill="#000"/>
<circle cx="366.85" cy="396.07" r="1.65" fill="#000"/>
<circle cx="366.50" cy="396.70" r="1.65" fill="#000"/>
<circle cx="367.86" cy="397.34" r="1.65" fill="#000"/>
<circle cx="368.07" cy="397.97" r="1.65" fill="#000"/>
<circle cx="365.70" cy="398.60" r="1.65" fill="#000"/>
<circle cx="367.75" cy="399.24" r="1.65" fill="#000"/>
<circle cx="380.00" cy="389.75" r="1.65" fill="#000"/>
<circle cx="380.00" cy="392.91" r="1.65" fill="#000"/>
<circle cx="380.96" cy="394.18" r="1.65" fill="#000"/>
<circle cx="379.86" cy="395.44" r="1.65" fill="#000"/>
<circle cx="378.21" cy="396.07" r="1.65" fill="#000"/>
<circle cx="382.05" cy="396.70" r="1.65" fill="#000"/>
<circle cx="380.50" cy="397.34" r="1.65" fill="#000"/>
<circle cx="377.81" cy="397.97" r="1.65" fill="#000"/>
<circle cx="378.69" cy="398.60" r="1.65" fill="#000"/>
<circle cx="382.43" cy="399.24" r="1.65" fill="#000"/>
<circle cx="378.64" cy="399.49" r="1.65" fill="#000"/>
<circle cx="379.46" cy="399.74" r="1.65" fill="#000"/>
<circle cx="381.44" cy="399.87" r="1.65" fill="#000"/>
<circle cx="381.62" cy="400.12" r="1.65" fill="#000"/>
<circle cx="380.67" cy="400.25" r="1.65" fill="#000"/>
<circle cx="393.00" cy="387.85" r="1.65" fill="#000"/>
<circle cx="393.00" cy="394.18" r="1.65" fill="#000"/>
<circle cx="394.21" cy="394.81" r="1.65" fill="#000"/>
<circle cx="390.69" cy="395.44" r="1.65" fill="#000"/>
<circle cx="390.97" cy="396.07" r="1.65" fill="#000"/>
<circle cx="395.38" cy="396.70" r="1.65" fill="#000"/>
<circle cx="394.51" cy="397.34" r="1.65" fill="#000"/>
<circle cx="390.69" cy="397.97" r="1.65" fill="#000"/>
<circle cx="390.74" cy="398.60" r="1.65" fill="#000"/>
<circle cx="391.70" cy="399.24" r="1.65" fill="#000"/>
<circle cx="405.50" cy="372.04" r="1.65" fill="#000"/>
<circle cx="405.50" cy="387.85" r="1.65" fill="#000"/>
<circle cx="407.65" cy="390.38" r="1.65" fill="#000"/>
<circle cx="404.10" cy="391.64" r="1.65" fill="#000"/>
<circle cx="406.36" cy="392.91" r="1.65" fill="#000"/>
<circle cx="407.65" cy="394.18" r="1.65" fill="#000"/>
<circle cx="406.19" cy="394.81" r="1.65" fill="#000"/>
<circle cx="407.60" cy="395.44" r="1.65" fill="#000"/>
<circle cx="404.31" cy="396.07" r="1.65" fill="#000"/>
<circle cx="403.77" cy="396.70" r="1.65" fill="#000"/>
<circle cx="403.09" cy="397.34" r="1.65" fill="#000"/>
<circle cx="406.79" cy="397.97" r="1.65" fill="#000"/>
<circle cx="403.52" cy="398.60" r="1.65" fill="#000"/>
<circle cx="407.87" cy="399.24" r="1.65" fill="#000"/>
<circle cx="406.55" cy="399.49" r="1.65" fill="#000"/>
<circle cx="403.93" cy="399.87" r="1.65" fill="#000"/>
<circle cx="407.04" cy="400.12" r="1.65" fill="#000"/>
<circle cx="403.81" cy="400.25" r="1.65" fill="#000"/>
<line x1="335.80" y1="324.60" x2="335.80" y2="400.50" stroke="#000" stroke-width="1.3"/>
<line x1="332.80" y1="400.50" x2="335.80" y2="400.50" stroke="#000" stroke-width="1.3"/>
<text x="331.40" y="403.94" font-size="9.6" font-weight="bold" text-anchor="end" fill="#000">0</text>
<line x1="332.80" y1="375.20" x2="335.80" y2="375.20" stroke="#000" stroke-width="1.3"/>
<text x="331.40" y="378.64" font-size="9.6" font-weight="bold" text-anchor="end" fill="#000">200</text>
<line x1="332.80" y1="349.90" x2="335.80" y2="349.90" stroke="#000" stroke-width="1.3"/>
<text x="331.40" y="353.34" font-size="9.6" font-weight="bold" text-anchor="end" fill="#000">400</text>
<line x1="332.80" y1="324.60" x2="335.80" y2="324.60" stroke="#000" stroke-width="1.3"/>
<text x="331.40" y="328.04" font-size="9.6" font-weight="bold" text-anchor="end" fill="#000">600</text>
<line x1="335.80" y1="400.50" x2="412.00" y2="400.50" stroke="#000" stroke-width="1.3"/>
<line x1="342.05" y1="400.50" x2="342.05" y2="403.70" stroke="#000" stroke-width="1.3"/>
<line x1="354.55" y1="400.50" x2="354.55" y2="403.70" stroke="#000" stroke-width="1.3"/>
<line x1="367.00" y1="400.50" x2="367.00" y2="403.70" stroke="#000" stroke-width="1.3"/>
<line x1="380.00" y1="400.50" x2="380.00" y2="403.70" stroke="#000" stroke-width="1.3"/>
<line x1="393.00" y1="400.50" x2="393.00" y2="403.70" stroke="#000" stroke-width="1.3"/>
<line x1="405.50" y1="400.50" x2="405.50" y2="403.70" stroke="#000" stroke-width="1.3"/>
<text x="344.35" y="411.50" font-size="9.2" font-weight="bold" text-anchor="end" transform="rotate(-45 344.35 411.50)">Ctrl1<tspan font-size="5.5" dy="-3.3">~</tspan></text>
<text x="356.85" y="411.50" font-size="9.2" font-weight="bold" text-anchor="end" transform="rotate(-45 356.85 411.50)">Ctrl2</text>
<text x="369.30" y="411.50" font-size="9.2" font-weight="bold" text-anchor="end" transform="rotate(-45 369.30 411.50)">MHS-P1</text>
<text x="382.30" y="411.50" font-size="9.2" font-weight="bold" text-anchor="end" transform="rotate(-45 382.30 411.50)">MHS-P2<tspan font-size="5.5" dy="-3.3">~</tspan></text>
<text x="395.30" y="411.50" font-size="9.2" font-weight="bold" text-anchor="end" transform="rotate(-45 395.30 411.50)">MHS-P3</text>
<text x="407.80" y="411.50" font-size="9.2" font-weight="bold" text-anchor="end" transform="rotate(-45 407.80 411.50)">MHS-P4</text>
<text x="340.00" y="324.79" font-size="10.3" text-anchor="middle" fill="#000" stroke="#000" stroke-width="0.38">1</text>
<text x="340.00" y="335.49" font-size="10.3" text-anchor="middle" fill="#000" stroke="#000" stroke-width="0.38">1</text>
<text x="355.70" y="344.59" font-size="10.3" text-anchor="middle" fill="#000" stroke="#000" stroke-width="0.38">10</text>
<text x="365.20" y="319.31" font-size="8.5" text-anchor="middle" fill="#000" textLength="13.2" lengthAdjust="spacingAndGlyphs" stroke="#000" stroke-width="0.38">###</text>
<text x="366.60" y="328.06" font-size="11.5" text-anchor="middle" fill="#000" stroke="#000" stroke-width="0.38">****</text>
<text x="383.70" y="333.31" font-size="8.5" text-anchor="middle" fill="#000" textLength="17.6" lengthAdjust="spacingAndGlyphs" stroke="#000" stroke-width="0.38">####</text>
<text x="383.70" y="342.37" font-size="11.5" text-anchor="middle" fill="#000" stroke="#000" stroke-width="0.38">****</text>
<text x="394.60" y="349.11" font-size="8.5" text-anchor="middle" fill="#000" textLength="13.2" lengthAdjust="spacingAndGlyphs" stroke="#000" stroke-width="0.38">###</text>
<text x="394.60" y="358.17" font-size="11.5" text-anchor="middle" fill="#000" stroke="#000" stroke-width="0.38">****</text>
<text x="406.00" y="364.91" font-size="8.5" text-anchor="middle" fill="#000" textLength="13.2" lengthAdjust="spacingAndGlyphs" stroke="#000" stroke-width="0.38">###</text>
<text x="406.00" y="373.87" font-size="11.5" text-anchor="middle" fill="#000" stroke="#000" stroke-width="0.38">****</text>
<text x="367.40" y="385.79" font-size="10.3" text-anchor="middle" fill="#000" stroke="#000" stroke-width="0.38">10</text>
<text x="380.60" y="388.39" font-size="10.3" text-anchor="middle" fill="#000" stroke="#000" stroke-width="0.38">15</text>
<text x="392.90" y="385.79" font-size="10.3" text-anchor="middle" fill="#000" stroke="#000" stroke-width="0.38">10</text>
<text x="406.00" y="381.89" font-size="10.3" text-anchor="middle" fill="#000" stroke="#000" stroke-width="0.38">18</text>
<text x="299.01" y="411.39" font-size="9.50" textLength="103.46" lengthAdjust="spacingAndGlyphs" transform="rotate(-90 299.01 411.39)" stroke="#000" stroke-width="0.35">GABA current density</text>
<text x="310.78" y="376.90" font-size="9.20" textLength="35.00" lengthAdjust="spacingAndGlyphs" transform="rotate(-90 310.78 376.90)" stroke="#000" stroke-width="0.35">(pA/pF)</text>
<rect x="484.20" y="341.79" width="31.60" height="56.91" fill="#000" stroke="#000" stroke-width="1.0"/>
<line x1="500.00" y1="341.79" x2="500.00" y2="334.20" stroke="#000" stroke-width="1.3"/>
<line x1="492.40" y1="334.20" x2="507.60" y2="334.20" stroke="#000" stroke-width="1.3"/>
<line x1="547.10" y1="391.11" x2="547.10" y2="389.21" stroke="#000" stroke-width="1.3"/>
<line x1="539.60" y1="389.21" x2="554.60" y2="389.21" stroke="#000" stroke-width="1.3"/>
<rect x="531.70" y="391.11" width="30.80" height="7.59" fill="none" stroke="#000" stroke-width="1.3"/>
<line x1="467.20" y1="317.40" x2="467.20" y2="398.70" stroke="#000" stroke-width="1.3"/>
<line x1="464.20" y1="398.70" x2="467.20" y2="398.70" stroke="#000" stroke-width="1.3"/>
<text x="462.80" y="402.10" font-size="9.5" font-weight="bold" text-anchor="end" fill="#000">0</text>
<line x1="464.20" y1="371.60" x2="467.20" y2="371.60" stroke="#000" stroke-width="1.3"/>
<text x="462.80" y="375.00" font-size="9.5" font-weight="bold" text-anchor="end" fill="#000">100</text>
<line x1="464.20" y1="344.50" x2="467.20" y2="344.50" stroke="#000" stroke-width="1.3"/>
<text x="462.80" y="347.90" font-size="9.5" font-weight="bold" text-anchor="end" fill="#000">200</text>
<line x1="464.20" y1="317.40" x2="467.20" y2="317.40" stroke="#000" stroke-width="1.3"/>
<text x="462.80" y="320.80" font-size="9.5" font-weight="bold" text-anchor="end" fill="#000">300</text>
<line x1="467.20" y1="398.70" x2="578.80" y2="398.70" stroke="#000" stroke-width="1.3"/>
<line x1="500.00" y1="398.70" x2="500.00" y2="401.90" stroke="#000" stroke-width="1.3"/>
<line x1="547.10" y1="398.70" x2="547.10" y2="401.90" stroke="#000" stroke-width="1.3"/>
<text x="499.40" y="328.08" font-size="10.0" font-weight="bold" text-anchor="middle" fill="#000">21</text>
<text x="547.30" y="384.18" font-size="10.0" font-weight="bold" text-anchor="middle" fill="#000">53</text>
<text x="547.30" y="374.85" font-size="10.3" text-anchor="middle" fill="#000" stroke="#000" stroke-width="0.38">****</text>
<text x="500.00" y="412.18" font-size="10.0" font-weight="bold" text-anchor="middle" fill="#000">Ctrl</text>
<text x="547.10" y="412.18" font-size="10.0" font-weight="bold" text-anchor="middle" fill="#000">MHS</text>
<text x="432.96" y="407.39" font-size="9.50" textLength="103.86" lengthAdjust="spacingAndGlyphs" transform="rotate(-90 432.96 407.39)" stroke="#000" stroke-width="0.35">GABA current density</text>
<text x="443.63" y="373.72" font-size="9.00" textLength="35.94" lengthAdjust="spacingAndGlyphs" transform="rotate(-90 443.63 373.72)" stroke="#000" stroke-width="0.35">(pA/pF)</text>
<text x="263.78" y="453.42" font-size="18.2" font-weight="bold" text-anchor="start" fill="#000">F</text>
<rect x="326.60" y="542.07" width="6.20" height="0.63" fill="#000" stroke="#000" stroke-width="1.0"/>
<rect x="340.30" y="542.38" width="6.20" height="0.32" fill="#000" stroke="#000" stroke-width="1.0"/>
<rect x="353.75" y="539.54" width="6.20" height="3.16" fill="#b00000" stroke="#000" stroke-width="1.0"/>
<rect x="367.00" y="540.17" width="6.20" height="2.53" fill="#000" stroke="#000" stroke-width="1.0"/>
<rect x="380.60" y="524.37" width="6.20" height="18.33" fill="#1010ee" stroke="#000" stroke-width="1.0"/>
<rect x="393.90" y="533.22" width="6.20" height="9.48" fill="#0a2a0a" stroke="#000" stroke-width="1.0"/>
<line x1="356.85" y1="539.54" x2="356.85" y2="537.96" stroke="#000" stroke-width="1.0"/>
<line x1="354.35" y1="537.96" x2="359.35" y2="537.96" stroke="#000" stroke-width="1.0"/>
<line x1="370.10" y1="540.17" x2="370.10" y2="538.91" stroke="#000" stroke-width="1.0"/>
<line x1="367.60" y1="538.91" x2="372.60" y2="538.91" stroke="#000" stroke-width="1.0"/>
<line x1="383.70" y1="524.37" x2="383.70" y2="516.47" stroke="#000" stroke-width="1.0"/>
<line x1="381.20" y1="516.47" x2="386.20" y2="516.47" stroke="#000" stroke-width="1.0"/>
<line x1="397.00" y1="533.22" x2="397.00" y2="525.95" stroke="#000" stroke-width="1.0"/>
<line x1="394.50" y1="525.95" x2="399.50" y2="525.95" stroke="#000" stroke-width="1.0"/>
<circle cx="329.70" cy="541.75" r="1.65" fill="#000"/>
<circle cx="329.76" cy="541.75" r="1.65" fill="#000"/>
<circle cx="327.73" cy="542.07" r="1.65" fill="#000"/>
<circle cx="331.13" cy="542.07" r="1.65" fill="#000"/>
<circle cx="331.65" cy="542.07" r="1.65" fill="#000"/>
<circle cx="331.78" cy="542.38" r="1.65" fill="#000"/>
<circle cx="327.21" cy="542.38" r="1.65" fill="#000"/>
<circle cx="331.46" cy="542.38" r="1.65" fill="#000"/>
<circle cx="329.98" cy="542.38" r="1.65" fill="#000"/>
<circle cx="331.31" cy="542.54" r="1.65" fill="#000"/>
<circle cx="343.40" cy="542.38" r="1.65" fill="#000"/>
<circle cx="356.85" cy="518.05" r="1.65" fill="#000"/>
<circle cx="356.85" cy="535.12" r="1.65" fill="#000"/>
<circle cx="356.86" cy="536.38" r="1.65" fill="#000"/>
<circle cx="357.45" cy="538.91" r="1.65" fill="#000"/>
<circle cx="357.32" cy="539.54" r="1.65" fill="#000"/>
<circle cx="358.35" cy="540.17" r="1.65" fill="#000"/>
<circle cx="354.74" cy="541.12" r="1.65" fill="#000"/>
<circle cx="354.62" cy="541.75" r="1.65" fill="#000"/>
<circle cx="357.08" cy="542.07" r="1.65" fill="#000"/>
<circle cx="355.80" cy="542.38" r="1.65" fill="#000"/>
<circle cx="370.10" cy="531.01" r="1.65" fill="#000"/>
<circle cx="370.10" cy="536.38" r="1.65" fill="#000"/>
<circle cx="369.58" cy="537.64" r="1.65" fill="#000"/>
<circle cx="367.64" cy="538.91" r="1.65" fill="#000"/>
<circle cx="371.32" cy="539.54" r="1.65" fill="#000"/>
<circle cx="367.72" cy="540.17" r="1.65" fill="#000"/>
<circle cx="371.75" cy="541.12" r="1.65" fill="#000"/>
<circle cx="371.66" cy="541.75" r="1.65" fill="#000"/>
<circle cx="369.89" cy="542.07" r="1.65" fill="#000"/>
<circle cx="368.21" cy="542.38" r="1.65" fill="#000"/>
<circle cx="383.70" cy="485.82" r="1.65" fill="#000"/>
<circle cx="384.45" cy="487.40" r="1.65" fill="#000"/>
<circle cx="382.24" cy="488.35" r="1.65" fill="#000"/>
<circle cx="383.70" cy="495.30" r="1.65" fill="#000"/>
<circle cx="383.70" cy="526.90" r="1.65" fill="#000"/>
<circle cx="383.70" cy="533.22" r="1.65" fill="#000"/>
<circle cx="383.70" cy="536.38" r="1.65" fill="#000"/>
<circle cx="383.70" cy="539.54" r="1.65" fill="#000"/>
<circle cx="383.35" cy="541.12" r="1.65" fill="#000"/>
<circle cx="381.75" cy="541.75" r="1.65" fill="#000"/>
<circle cx="397.00" cy="473.18" r="1.65" fill="#000"/>
<circle cx="397.00" cy="536.38" r="1.65" fill="#000"/>
<circle cx="397.00" cy="539.54" r="1.65" fill="#000"/>
<circle cx="399.38" cy="540.17" r="1.65" fill="#000"/>
<circle cx="397.23" cy="541.12" r="1.65" fill="#000"/>
<circle cx="396.26" cy="541.75" r="1.65" fill="#000"/>
<circle cx="394.97" cy="542.07" r="1.65" fill="#000"/>
<circle cx="398.15" cy="542.38" r="1.65" fill="#000"/>
<circle cx="398.75" cy="542.38" r="1.65" fill="#000"/>
<circle cx="398.74" cy="542.38" r="1.65" fill="#000"/>
<line x1="323.20" y1="463.70" x2="323.20" y2="542.70" stroke="#000" stroke-width="1.3"/>
<line x1="320.20" y1="542.70" x2="323.20" y2="542.70" stroke="#000" stroke-width="1.3"/>
<text x="318.80" y="546.71" font-size="11.2" font-weight="bold" text-anchor="end" fill="#000">0</text>
<line x1="320.20" y1="526.90" x2="323.20" y2="526.90" stroke="#000" stroke-width="1.3"/>
<text x="318.80" y="530.91" font-size="11.2" font-weight="bold" text-anchor="end" fill="#000">5</text>
<line x1="320.20" y1="511.10" x2="323.20" y2="511.10" stroke="#000" stroke-width="1.3"/>
<text x="318.80" y="515.11" font-size="11.2" font-weight="bold" text-anchor="end" fill="#000">10</text>
<line x1="320.20" y1="495.30" x2="323.20" y2="495.30" stroke="#000" stroke-width="1.3"/>
<text x="318.80" y="499.31" font-size="11.2" font-weight="bold" text-anchor="end" fill="#000">15</text>
<line x1="320.20" y1="479.50" x2="323.20" y2="479.50" stroke="#000" stroke-width="1.3"/>
<text x="318.80" y="483.51" font-size="11.2" font-weight="bold" text-anchor="end" fill="#000">20</text>
<line x1="320.20" y1="463.70" x2="323.20" y2="463.70" stroke="#000" stroke-width="1.3"/>
<text x="318.80" y="467.71" font-size="11.2" font-weight="bold" text-anchor="end" fill="#000">25</text>
<line x1="323.20" y1="542.70" x2="404.40" y2="542.70" stroke="#000" stroke-width="1.3"/>
<line x1="329.70" y1="542.70" x2="329.70" y2="545.90" stroke="#000" stroke-width="1.3"/>
<line x1="343.40" y1="542.70" x2="343.40" y2="545.90" stroke="#000" stroke-width="1.3"/>
<line x1="356.85" y1="542.70" x2="356.85" y2="545.90" stroke="#000" stroke-width="1.3"/>
<line x1="370.10" y1="542.70" x2="370.10" y2="545.90" stroke="#000" stroke-width="1.3"/>
<line x1="383.70" y1="542.70" x2="383.70" y2="545.90" stroke="#000" stroke-width="1.3"/>
<line x1="397.00" y1="542.70" x2="397.00" y2="545.90" stroke="#000" stroke-width="1.3"/>
<text x="332.00" y="553.70" font-size="9.2" font-weight="bold" text-anchor="end" transform="rotate(-45 332.00 553.70)">Ctrl1<tspan font-size="5.5" dy="-3.3">~</tspan></text>
<text x="345.70" y="553.70" font-size="9.2" font-weight="bold" text-anchor="end" transform="rotate(-45 345.70 553.70)">Ctrl2</text>
<text x="359.15" y="553.70" font-size="9.2" font-weight="bold" text-anchor="end" transform="rotate(-45 359.15 553.70)">MHS-P1</text>
<text x="372.40" y="553.70" font-size="9.2" font-weight="bold" text-anchor="end" transform="rotate(-45 372.40 553.70)">MHS-P2<tspan font-size="5.5" dy="-3.3">~</tspan></text>
<text x="386.00" y="553.70" font-size="9.2" font-weight="bold" text-anchor="end" transform="rotate(-45 386.00 553.70)">MHS-P3</text>
<text x="399.30" y="553.70" font-size="9.2" font-weight="bold" text-anchor="end" transform="rotate(-45 399.30 553.70)">MHS-P4</text>
<text x="330.70" y="536.59" font-size="10.3" text-anchor="middle" fill="#000" stroke="#000" stroke-width="0.38">10</text>
<text x="342.90" y="537.09" font-size="10.3" text-anchor="middle" fill="#000" stroke="#000" stroke-width="0.38">1</text>
<text x="356.00" y="515.89" font-size="10.3" text-anchor="middle" fill="#000" stroke="#000" stroke-width="0.38">10</text>
<text x="356.00" y="507.17" font-size="11.5" text-anchor="middle" fill="#000" stroke="#000" stroke-width="0.38">*</text>
<text x="356.00" y="496.31" font-size="8.5" text-anchor="middle" fill="#000" textLength="4.4" lengthAdjust="spacingAndGlyphs" stroke="#000" stroke-width="0.38">#</text>
<text x="370.00" y="518.99" font-size="10.3" text-anchor="middle" fill="#000" stroke="#000" stroke-width="0.38">10</text>
<text x="370.00" y="507.17" font-size="11.5" text-anchor="middle" fill="#000" stroke="#000" stroke-width="0.38">**</text>
<text x="370.00" y="495.81" font-size="8.5" text-anchor="middle" fill="#000" textLength="8.8" lengthAdjust="spacingAndGlyphs" stroke="#000" stroke-width="0.38">##</text>
<text x="381.50" y="476.99" font-size="10.3" text-anchor="middle" fill="#000" stroke="#000" stroke-width="0.38">10</text>
<text x="382.00" y="469.56" font-size="11.5" text-anchor="middle" fill="#000" stroke="#000" stroke-width="0.38">***</text>
<text x="382.00" y="457.81" font-size="8.5" text-anchor="middle" fill="#000" textLength="13.2" lengthAdjust="spacingAndGlyphs" stroke="#000" stroke-width="0.38">###</text>
<text x="396.70" y="466.79" font-size="10.3" text-anchor="middle" fill="#000" stroke="#000" stroke-width="0.38">10</text>
<text x="396.70" y="458.97" font-size="11.5" text-anchor="middle" fill="#000" stroke="#000" stroke-width="0.38">***</text>
<text x="396.70" y="446.81" font-size="8.5" text-anchor="middle" fill="#000" textLength="13.2" lengthAdjust="spacingAndGlyphs" stroke="#000" stroke-width="0.38">###</text>
<text x="302.30" y="544.40" font-size="9.80" textLength="83.87" lengthAdjust="spacingAndGlyphs" transform="rotate(-90 302.30 544.40)" stroke="#000" stroke-width="0.35">Glutamate/GABA</text>
<rect x="481.30" y="531.99" width="15.40" height="1.21" fill="#000" stroke="#000" stroke-width="1.0"/>
<line x1="537.00" y1="478.88" x2="537.00" y2="460.77" stroke="#000" stroke-width="1.3"/>
<line x1="529.40" y1="460.77" x2="544.60" y2="460.77" stroke="#000" stroke-width="1.3"/>
<line x1="537.00" y1="478.88" x2="537.00" y2="495.98" stroke="#000" stroke-width="1.3"/>
<line x1="529.40" y1="495.98" x2="544.60" y2="495.98" stroke="#000" stroke-width="1.3"/>
<rect x="521.60" y="478.88" width="30.80" height="54.32" fill="none" stroke="#000" stroke-width="1.3"/>
<line x1="457.00" y1="452.72" x2="457.00" y2="533.20" stroke="#000" stroke-width="1.3"/>
<line x1="454.00" y1="533.20" x2="457.00" y2="533.20" stroke="#000" stroke-width="1.3"/>
<text x="452.60" y="536.71" font-size="9.8" font-weight="bold" text-anchor="end" fill="#000">0</text>
<line x1="454.00" y1="513.08" x2="457.00" y2="513.08" stroke="#000" stroke-width="1.3"/>
<text x="452.60" y="516.59" font-size="9.8" font-weight="bold" text-anchor="end" fill="#000">1</text>
<line x1="454.00" y1="492.96" x2="457.00" y2="492.96" stroke="#000" stroke-width="1.3"/>
<text x="452.60" y="496.47" font-size="9.8" font-weight="bold" text-anchor="end" fill="#000">2</text>
<line x1="454.00" y1="472.84" x2="457.00" y2="472.84" stroke="#000" stroke-width="1.3"/>
<text x="452.60" y="476.35" font-size="9.8" font-weight="bold" text-anchor="end" fill="#000">3</text>
<line x1="454.00" y1="452.72" x2="457.00" y2="452.72" stroke="#000" stroke-width="1.3"/>
<text x="452.60" y="456.23" font-size="9.8" font-weight="bold" text-anchor="end" fill="#000">4</text>
<line x1="457.00" y1="533.20" x2="569.50" y2="533.20" stroke="#000" stroke-width="1.3"/>
<line x1="489.00" y1="533.20" x2="489.00" y2="536.40" stroke="#000" stroke-width="1.3"/>
<line x1="537.00" y1="533.20" x2="537.00" y2="536.40" stroke="#000" stroke-width="1.3"/>
<text x="489.60" y="528.88" font-size="10.0" font-weight="bold" text-anchor="middle" fill="#000">20</text>
<text x="536.80" y="456.98" font-size="10.0" font-weight="bold" text-anchor="middle" fill="#000">40</text>
<text x="536.80" y="446.95" font-size="10.3" text-anchor="middle" fill="#000" stroke="#000" stroke-width="0.38">*</text>
<text x="489.00" y="548.08" font-size="10.0" font-weight="bold" text-anchor="middle" fill="#000">Ctrl</text>
<text x="537.00" y="548.08" font-size="10.0" font-weight="bold" text-anchor="middle" fill="#000">MHS</text>
<text x="442.62" y="531.38" font-size="9.30" textLength="80.35" lengthAdjust="spacingAndGlyphs" transform="rotate(-90 442.62 531.38)" stroke="#000" stroke-width="0.35">Glutamate/GABA</text>
<text x="29.25" y="608.90" font-size="18.2" font-weight="bold" text-anchor="start" fill="#000">G</text>
<text x="81.30" y="601.01" font-size="11.2" font-weight="bold" text-anchor="start" fill="#000">Ctrl1<tspan font-size="6.7" dy="-4.0">~</tspan></text>
<text x="149.90" y="600.01" font-size="11.2" font-weight="bold" text-anchor="start" fill="#000" textLength="41.4" lengthAdjust="spacingAndGlyphs">MHS-P1</text>
<text x="215.30" y="600.01" font-size="11.2" font-weight="bold" text-anchor="start" fill="#000">MHS-P2<tspan font-size="6.7" dy="-4.0">~</tspan></text>
<text x="288.90" y="598.51" font-size="11.2" font-weight="bold" text-anchor="start" fill="#000" textLength="42.1" lengthAdjust="spacingAndGlyphs">MHS-P3</text>
<text x="360.60" y="596.61" font-size="11.2" font-weight="bold" text-anchor="start" fill="#000" textLength="42.1" lengthAdjust="spacingAndGlyphs">MHS-P4</text>
<text x="41.90" y="629.87" font-size="11.1" font-weight="bold" text-anchor="start" fill="#000" textLength="33.3" lengthAdjust="spacingAndGlyphs">NMDA</text>
<text x="41.00" y="668.37" font-size="10.8" font-weight="bold" text-anchor="start" fill="#000" textLength="31.2" lengthAdjust="spacingAndGlyphs">AMPA</text>
<text x="35.00" y="695.07" font-size="10.8" font-weight="bold" text-anchor="start" fill="#000" textLength="30.2" lengthAdjust="spacingAndGlyphs">50 pA</text>
<text x="67.10" y="708.37" font-size="10.8" font-weight="bold" text-anchor="start" fill="#000" textLength="23.6" lengthAdjust="spacingAndGlyphs">0.2 s</text>
<path d="M68.9,687.7 L68.9,695.7 L77.6,695.7" stroke="#000" stroke-width="1.4" fill="none" stroke-linejoin="round" stroke-linejoin="miter"/>
<line x1="81.40" y1="620.20" x2="81.40" y2="641.20" stroke="#555" stroke-width="0.7"/>
<path d="M70.80,640.00 L71.10,639.36 L71.41,639.79 L71.71,639.68 L72.01,640.42 L72.32,639.44 L72.62,640.17 L72.92,640.77 L73.22,640.43 L73.53,639.21 L73.83,639.32 L74.13,639.38 L74.44,640.31 L74.74,640.16 L75.04,640.03 L75.35,639.93 L75.65,639.85 L75.95,640.18 L76.25,640.24 L76.56,640.67 L76.86,640.37 L77.16,640.47 L77.47,640.66 L77.77,640.54 L78.07,640.35 L78.38,639.25 L78.68,640.29 L78.98,640.56 L79.28,639.89 L79.59,640.61 L79.89,639.49 L80.19,640.71 L80.50,639.91 L80.80,640.33" stroke="#000" stroke-width="1.3" fill="none" stroke-linejoin="round"/>
<path d="M82.00,640.50 L82.25,639.78 L82.50,639.77 L82.75,639.76 L83.00,639.58 L83.25,637.78 L83.50,637.36 L83.75,637.40 L84.00,635.37 L84.25,634.87 L84.50,633.30 L84.75,632.31 L85.00,631.52 L85.25,629.77 L85.50,627.46 L85.75,626.65 L86.00,626.29 L86.25,624.60 L86.50,624.35 L86.75,625.18 L87.00,624.51 L87.25,622.90 L87.50,623.77 L87.75,623.60 L88.00,623.69 L88.25,623.27 L88.50,622.45 L88.75,621.24 L89.00,622.78 L89.25,621.49 L89.50,622.17 L89.75,621.48 L90.00,621.82 L90.25,622.78 L90.50,620.79 L90.75,621.61 L91.00,621.83 L91.25,621.49 L91.50,622.38 L91.75,621.04 L92.00,622.19 L92.25,621.81 L92.50,622.62 L92.75,620.67 L93.00,621.11 L93.25,621.44 L93.50,623.08 L93.75,621.08 L94.00,621.82 L94.25,623.07 L94.50,623.88 L94.75,622.07 L95.00,622.85 L95.25,623.65 L95.50,623.86 L95.75,624.19 L96.00,624.41 L96.25,623.40 L96.50,623.62 L96.75,623.27 L97.00,625.06 L97.25,624.10 L97.50,624.42 L97.75,626.31 L98.00,625.74 L98.25,625.82 L98.50,626.17 L98.75,626.23 L99.00,626.67 L99.25,625.93 L99.50,625.55 L99.75,625.76 L100.00,625.83 L100.25,626.82 L100.50,626.44 L100.75,626.52 L101.00,627.58 L101.25,628.88 L101.50,628.35 L101.75,627.51 L102.00,628.85 L102.25,627.58 L102.50,627.54 L102.75,628.18 L103.00,628.58 L103.25,629.40 L103.50,628.97 L103.75,629.80 L104.00,628.43 L104.25,630.59 L104.50,629.32 L104.75,630.65 L105.00,628.87 L105.25,630.89 L105.50,629.54 L105.75,631.15 L106.00,631.13 L106.25,630.91 L106.50,630.07 L106.75,629.52 L107.00,630.06 L107.25,631.87 L107.50,630.18 L107.75,631.48 L108.00,631.41 L108.25,631.69 L108.50,630.63 L108.75,630.64 L109.00,630.63 L109.25,632.86 L109.50,631.52 L109.75,632.27 L110.00,632.17 L110.25,631.44 L110.50,631.16 L110.75,631.14 L111.00,633.25 L111.25,631.61 L111.50,633.71 L111.75,632.37 L112.00,633.33 L112.25,632.03 L112.50,633.69 L112.75,632.50 L113.00,632.88 L113.25,633.36 L113.50,632.47 L113.75,632.90 L114.00,634.31 L114.25,633.18 L114.50,633.51 L114.75,634.54 L115.00,633.34 L115.25,633.32 L115.50,633.43 L115.75,633.87 L116.00,633.88 L116.25,634.59 L116.50,634.23 L116.75,635.24 L117.00,633.32 L117.25,634.84 L117.50,635.31 L117.75,633.91 L118.00,633.47 L118.25,634.50 L118.50,633.78 L118.75,634.65 L119.00,635.31 L119.25,633.87 L119.50,633.98 L119.75,634.90 L120.00,634.22 L120.25,634.40 L120.50,634.96 L120.75,634.23 L121.00,634.16 L121.25,634.92 L121.50,635.23 L121.75,636.40 L122.00,635.53 L122.25,634.42 L122.50,634.83 L122.75,636.14 L123.00,635.75 L123.25,636.54 L123.50,636.81 L123.75,636.61 L124.00,634.86 L124.25,636.91 L124.50,635.96 L124.75,635.33 L125.00,635.21 L125.25,636.90 L125.50,635.36 L125.75,635.07 L126.00,635.54 L126.25,637.14 L126.50,636.06 L126.75,636.73 L127.00,635.18 L127.25,636.11 L127.50,635.81 L127.75,635.57 L128.00,636.69 L128.25,635.99 L128.50,635.44 L128.75,637.54 L129.00,636.36 L129.25,635.66 L129.50,635.28 L129.75,636.84 L130.00,636.54 L130.25,635.36 L130.51,636.43 L130.76,637.08 L131.01,636.59 L131.26,635.86 L131.52,636.50 L131.77,636.75 L132.02,636.86 L132.27,635.65 L132.53,637.23 L132.78,637.57 L133.03,637.08 L133.28,637.36 L133.54,636.18 L133.79,637.47 L134.04,635.74 L134.29,635.84 L134.55,636.74 L134.80,637.46 L135.05,635.50 L135.31,635.82 L135.56,635.39 L135.81,636.35 L136.06,635.64 L136.32,635.76 L136.57,637.10 L136.82,636.70 L137.07,637.55 L137.33,636.26 L137.58,636.93 L137.83,635.33 L138.08,637.58 L138.34,635.86 L138.59,636.44 L138.84,636.53 L139.09,637.58 L139.35,636.48 L139.60,637.68" stroke="#000" stroke-width="1.6" fill="none" stroke-linejoin="round"/>
<line x1="81.60" y1="643.50" x2="81.60" y2="677.40" stroke="#222" stroke-width="0.7"/>
<path d="M80.20,648.50 L80.55,648.05 L80.90,647.39" stroke="#000" stroke-width="0.8" fill="none" stroke-linejoin="round"/>
<path d="M82.00,677.00 L82.50,668.23 L82.83,665.12 L83.17,663.02 L83.50,659.97 L83.80,658.41 L84.10,657.52 L84.40,655.68 L84.70,654.33 L85.00,652.89 L85.33,652.37 L85.67,651.17 L86.00,650.66 L86.33,649.76 L86.67,649.48 L87.00,648.15 L87.33,648.16 L87.67,647.50 L88.00,647.22 L88.33,646.88 L88.67,646.56 L89.00,645.75 L89.30,645.78 L89.60,645.65 L89.90,646.20 L90.20,645.59 L90.50,645.55 L90.80,646.12 L91.10,646.46 L91.40,646.97 L91.70,646.69 L92.00,647.11 L92.30,647.27 L92.60,647.76 L92.90,647.87 L93.20,648.04 L93.50,648.57 L93.80,648.15 L94.10,648.03 L94.40,647.84 L94.70,647.10 L95.00,647.31 L95.30,646.84 L95.60,646.49 L95.90,646.99 L96.20,646.32 L96.50,646.16" stroke="#000" stroke-width="1.1" fill="none" stroke-linejoin="round"/>
<line x1="148.40" y1="610.70" x2="148.40" y2="640.90" stroke="#ff1a1a" stroke-width="0.8"/>
<path d="M143.60,639.30 L143.91,639.09 L144.21,639.09 L144.52,639.77 L144.83,639.67 L145.14,639.22 L145.44,639.33 L145.75,639.65 L146.06,639.61 L146.36,639.45 L146.67,639.31 L146.98,638.92 L147.29,639.04 L147.59,639.46 L147.90,639.39" stroke="#ff1a1a" stroke-width="1.2" fill="none" stroke-linejoin="round"/>
<path d="M148.80,615.50 L149.08,616.16 L149.35,616.42 L149.62,616.61 L149.90,615.14 L150.18,614.96 L150.45,616.67 L150.72,616.08 L151.00,615.36 L151.25,616.32 L151.50,615.39 L151.75,615.29 L152.00,615.48 L152.25,615.74 L152.50,615.98 L152.75,614.71 L153.00,615.98 L153.25,615.81 L153.50,615.57 L153.75,616.03 L154.00,616.35 L154.25,614.83 L154.50,615.83 L154.75,616.29 L155.00,616.42 L155.25,616.59 L155.50,615.94 L155.75,617.79 L156.00,617.74 L156.25,616.92 L156.50,617.61 L156.75,618.96 L157.00,617.75 L157.25,618.44 L157.50,619.84 L157.75,620.01 L158.00,618.96 L158.25,620.22 L158.50,619.72 L158.75,620.58 L159.00,621.03 L159.25,620.01 L159.50,620.45 L159.75,620.68 L160.00,621.03 L160.25,620.82 L160.50,621.27 L160.75,622.06 L161.00,622.34 L161.25,621.84 L161.50,623.04 L161.75,623.95 L162.00,623.40 L162.25,623.15 L162.50,624.03 L162.75,623.69 L163.00,623.35 L163.25,624.15 L163.50,623.41 L163.75,624.91 L164.00,624.07 L164.25,624.68 L164.50,626.05 L164.75,625.85 L165.00,626.17 L165.25,625.96 L165.50,626.12 L165.75,626.43 L166.00,627.13 L166.25,625.77 L166.50,627.08 L166.75,626.33 L167.00,626.41 L167.25,627.72 L167.50,627.45 L167.75,628.12 L168.00,628.35 L168.25,627.95 L168.50,627.35 L168.75,627.16 L169.00,628.37 L169.25,628.93 L169.50,628.19 L169.75,627.97 L170.00,628.01 L170.25,628.50 L170.50,629.69 L170.75,628.46 L171.00,629.06 L171.25,629.28 L171.50,630.32 L171.75,631.02 L172.00,629.24 L172.25,629.58 L172.50,631.37 L172.75,631.59 L173.00,630.10 L173.25,630.62 L173.50,631.14 L173.75,630.89 L174.00,631.23 L174.25,631.51 L174.50,631.22 L174.75,630.96 L175.00,631.17 L175.25,631.47 L175.50,631.48 L175.75,632.70 L176.00,632.99 L176.25,632.28 L176.50,633.48 L176.75,633.51 L177.00,632.88 L177.25,633.33 L177.50,632.88 L177.75,634.51 L178.00,633.92 L178.25,633.05 L178.50,633.41 L178.75,634.64 L179.00,634.17 L179.25,634.98 L179.50,634.16 L179.75,635.44 L180.00,635.60 L180.25,634.31 L180.50,635.42 L180.75,634.76 L181.00,635.92 L181.25,636.23 L181.50,636.33 L181.75,635.34 L182.00,635.19 L182.25,636.45 L182.50,636.38 L182.75,635.65 L183.00,635.89 L183.25,636.79 L183.50,635.97 L183.75,637.14 L184.00,636.48 L184.25,636.64 L184.50,637.10 L184.75,637.44 L185.00,637.95 L185.25,636.64 L185.50,638.10 L185.75,637.17 L186.00,637.38 L186.25,638.15 L186.50,638.33 L186.75,638.25 L187.00,638.90 L187.25,637.58 L187.50,637.87 L187.75,638.65 L188.00,637.92 L188.25,637.79 L188.50,638.00 L188.75,639.17 L189.00,639.35 L189.25,639.21 L189.50,639.77 L189.75,639.51 L190.00,638.62 L190.25,638.66 L190.50,639.49 L190.75,638.19 L191.00,639.32 L191.25,638.30 L191.50,638.25 L191.75,639.20 L192.00,638.50 L192.25,640.09 L192.50,640.00 L192.75,639.20 L193.00,638.70 L193.25,638.56 L193.50,639.36 L193.75,639.42 L194.00,639.13 L194.25,639.86 L194.50,639.51 L194.75,640.03 L195.00,638.71 L195.25,638.64 L195.51,639.27 L195.76,639.47 L196.02,639.01 L196.27,639.84 L196.52,638.94 L196.78,639.14 L197.03,639.45 L197.28,639.92 L197.54,640.04 L197.79,639.24 L198.05,639.39 L198.30,640.36 L198.55,640.37 L198.81,639.74 L199.06,638.71 L199.32,639.41 L199.57,639.77 L199.82,639.06 L200.08,638.57 L200.33,640.46 L200.58,640.32 L200.84,638.76 L201.09,639.43 L201.35,639.74 L201.60,639.10 L201.85,638.64 L202.11,640.00 L202.36,640.04 L202.62,639.37 L202.87,638.67 L203.12,639.29 L203.38,638.69 L203.63,640.43 L203.88,638.60 L204.14,639.08 L204.39,640.04 L204.65,638.77 L204.90,638.71" stroke="#ff1a1a" stroke-width="1.5" fill="none" stroke-linejoin="round"/>
<path d="M145.10,647.00 L145.45,646.37 L145.80,646.05 L146.15,645.89 L146.50,645.70 L146.82,645.80 L147.15,646.30 L147.48,647.16 L147.80,647.46" stroke="#ff1a1a" stroke-width="1.0" fill="none" stroke-linejoin="round"/>
<line x1="148.90" y1="642.90" x2="148.90" y2="685.80" stroke="#ff1a1a" stroke-width="0.8"/>
<path d="M149.40,685.50 L150.00,677.87 L150.35,672.70 L150.70,667.79 L151.00,663.88 L151.30,658.69 L151.70,656.81 L152.10,655.19 L152.50,653.31 L152.80,652.42 L153.10,651.18 L153.40,650.67 L153.70,649.48 L154.00,648.33 L154.30,648.07 L154.60,647.87 L154.90,647.49 L155.20,646.60 L155.50,646.25 L155.81,646.93 L156.12,646.31 L156.44,646.94 L156.75,646.62 L157.06,646.61 L157.38,646.68 L157.69,646.91 L158.00,647.39 L158.30,646.77 L158.60,647.38 L158.90,647.01 L159.20,646.94 L159.50,647.45 L159.80,647.17 L160.10,647.10 L160.40,647.33 L160.70,647.71 L161.00,647.79 L161.30,647.61 L161.60,647.21 L161.90,647.86 L162.20,647.79 L162.50,648.07 L162.80,648.16 L163.10,647.71 L163.40,648.18 L163.70,648.21 L164.00,647.81" stroke="#ff1a1a" stroke-width="0.9" fill="none" stroke-linejoin="round"/>
<line x1="217.30" y1="608.20" x2="217.30" y2="638.90" stroke="#d6ab35" stroke-width="0.8"/>
<path d="M212.70,637.80 L213.00,637.53 L213.30,637.41 L213.60,637.25 L213.90,637.14 L214.20,636.74 L214.50,636.73 L214.90,636.16 L215.30,634.41 L215.70,635.64 L216.10,636.89 L216.50,637.76" stroke="#d6ab35" stroke-width="1.4" fill="none" stroke-linejoin="round"/>
<path d="M218.00,636.00 L218.25,631.39 L218.50,629.01 L218.75,627.23 L219.00,626.18 L219.25,624.05 L219.50,622.61 L219.75,621.00 L220.00,617.91 L220.25,617.12 L220.50,614.71 L220.75,615.32 L221.00,613.12 L221.25,613.59 L221.50,612.61 L221.75,613.27 L222.00,611.63 L222.25,612.74 L222.50,612.67 L222.75,612.66 L223.00,610.80 L223.25,612.64 L223.50,612.09 L223.75,612.12 L224.00,612.27 L224.25,611.02 L224.50,613.19 L224.75,612.61 L225.00,612.59 L225.25,612.51 L225.50,613.78 L225.75,613.98 L226.00,614.39 L226.25,613.02 L226.50,613.53 L226.75,613.52 L227.00,613.37 L227.25,614.13 L227.50,613.61 L227.75,615.67 L228.00,614.51 L228.25,614.34 L228.50,614.55 L228.75,616.37 L229.00,615.28 L229.25,616.03 L229.50,616.01 L229.75,617.10 L230.00,617.59 L230.25,616.17 L230.50,617.07 L230.75,617.82 L231.00,616.93 L231.25,618.08 L231.50,617.81 L231.75,616.92 L232.00,618.40 L232.25,617.80 L232.50,616.80 L232.75,618.08 L233.00,618.79 L233.25,618.17 L233.50,618.21 L233.75,618.17 L234.00,619.41 L234.25,619.02 L234.50,618.05 L234.75,618.54 L235.00,618.67 L235.25,620.28 L235.50,619.82 L235.75,618.62 L236.00,620.69 L236.25,618.76 L236.50,620.27 L236.75,620.06 L237.00,620.92 L237.25,620.41 L237.50,619.77 L237.75,620.98 L238.00,621.87 L238.25,621.97 L238.50,621.11 L238.75,620.96 L239.00,622.39 L239.25,622.70 L239.50,621.48 L239.75,623.24 L240.00,623.68 L240.25,622.54 L240.50,622.61 L240.75,623.60 L241.00,624.33 L241.25,622.78 L241.50,623.22 L241.75,623.49 L242.00,624.66 L242.25,623.55 L242.50,624.61 L242.75,624.70 L243.00,625.30 L243.25,624.24 L243.50,626.40 L243.75,626.70 L244.00,625.85 L244.25,626.61 L244.50,625.34 L244.75,627.28 L245.00,626.62 L245.25,627.32 L245.50,627.78 L245.75,626.77 L246.00,628.32 L246.25,626.80 L246.50,626.56 L246.75,627.91 L247.00,629.06 L247.25,629.26 L247.50,629.59 L247.75,628.73 L248.00,629.94 L248.25,629.24 L248.50,628.44 L248.75,629.81 L249.00,630.43 L249.25,629.72 L249.50,630.35 L249.75,629.72 L250.00,629.96 L250.25,630.51 L250.50,630.93 L250.75,631.02 L251.00,630.32 L251.25,630.31 L251.50,631.32 L251.75,632.42 L252.00,632.70 L252.25,631.67 L252.50,631.91 L252.75,632.74 L253.00,632.12 L253.25,633.35 L253.50,634.27 L253.75,632.78 L254.00,633.91 L254.25,634.43 L254.50,634.70 L254.75,634.81 L255.00,635.01 L255.25,634.16 L255.50,635.73 L255.75,636.15 L256.00,634.26 L256.25,636.61 L256.50,635.61 L256.75,634.97 L257.00,635.13 L257.25,637.09 L257.50,637.01 L257.75,635.93 L258.00,636.90 L258.25,637.40 L258.50,638.32 L258.75,636.79 L259.00,637.89 L259.25,636.70 L259.50,636.65 L259.75,636.62 L260.00,637.28 L260.25,637.85 L260.50,637.15 L260.75,636.88 L261.00,637.07 L261.25,636.82 L261.50,637.14 L261.75,637.50 L262.00,638.01 L262.25,637.24 L262.50,637.95 L262.76,637.86 L263.01,639.14 L263.26,637.97 L263.51,639.07 L263.76,637.93 L264.01,637.28 L264.27,638.22 L264.52,637.15 L264.77,637.21 L265.02,636.98 L265.27,638.48 L265.53,639.12 L265.78,637.77 L266.03,637.65 L266.28,637.82 L266.53,637.64 L266.79,638.46 L267.04,637.74 L267.29,637.17 L267.54,638.87 L267.79,638.17 L268.04,636.82 L268.30,638.84 L268.55,638.55 L268.80,637.65 L269.05,638.31 L269.30,639.01 L269.56,637.76 L269.81,637.84 L270.06,637.52 L270.31,638.13 L270.56,638.39 L270.81,638.56 L271.07,639.08 L271.32,637.15 L271.57,637.68 L271.82,638.84 L272.07,638.70 L272.33,638.22 L272.58,638.43 L272.83,637.62 L273.08,639.07 L273.33,638.12 L273.59,637.77 L273.84,637.24 L274.09,637.08 L274.34,638.95 L274.59,638.72 L274.84,636.86 L275.10,637.58 L275.35,637.95 L275.60,637.99" stroke="#d6ab35" stroke-width="1.6" fill="none" stroke-linejoin="round"/>
<path d="M211.00,644.90 L211.31,644.76 L211.62,645.30 L211.93,644.75 L212.24,644.93 L212.56,645.33 L212.87,645.04 L213.18,644.88 L213.49,644.73 L213.80,644.79 L214.11,645.01 L214.42,645.19 L214.73,644.66 L215.04,644.77 L215.36,644.79 L215.67,644.76 L215.98,645.31 L216.29,644.94 L216.60,644.68" stroke="#d6ab35" stroke-width="1.2" fill="none" stroke-linejoin="round"/>
<line x1="217.60" y1="644.00" x2="217.60" y2="700.20" stroke="#d6ab35" stroke-width="0.8"/>
<path d="M218.00,699.50 L218.50,679.87 L218.83,675.26 L219.17,669.73 L219.50,665.15 L219.83,661.28 L220.17,658.09 L220.50,654.65 L220.80,653.84 L221.10,651.92 L221.40,650.58 L221.70,649.05 L222.00,647.81 L222.33,647.77 L222.67,647.34 L223.00,647.08 L223.33,646.69 L223.67,645.96 L224.00,645.84 L224.30,645.07 L224.60,645.64 L224.90,645.15 L225.20,644.85 L225.50,645.20 L225.80,645.19 L226.10,644.71 L226.40,644.37 L226.70,644.90 L227.00,644.70 L227.30,644.60 L227.61,644.92 L227.91,644.19 L228.22,644.22 L228.52,644.30 L228.82,644.24 L229.13,644.81 L229.43,644.76 L229.74,644.37 L230.04,644.43 L230.34,644.46 L230.65,644.83 L230.95,644.90 L231.26,645.16 L231.56,644.69 L231.86,645.20 L232.17,644.79 L232.47,644.77 L232.78,644.68 L233.08,644.69 L233.38,645.30 L233.69,645.34 L233.99,645.12 L234.30,644.72 L234.60,644.74" stroke="#d6ab35" stroke-width="0.9" fill="none" stroke-linejoin="round"/>
<line x1="284.60" y1="597.10" x2="284.60" y2="641.40" stroke="#4d72c2" stroke-width="0.8"/>
<path d="M280.50,640.30 L280.81,639.95 L281.12,640.15 L281.43,640.54 L281.73,639.86 L282.04,640.33 L282.35,640.48 L282.66,639.83 L282.97,640.24 L283.27,640.59 L283.58,640.38 L283.89,640.25 L284.20,640.68" stroke="#4d72c2" stroke-width="1.3" fill="none" stroke-linejoin="round"/>
<path d="M285.30,620.00 L285.65,618.45 L286.00,616.17 L286.25,616.23 L286.50,617.26 L286.75,617.03 L287.00,617.08 L287.25,616.31 L287.50,615.41 L287.75,615.41 L288.00,615.77 L288.25,616.34 L288.50,614.93 L288.75,616.48 L289.00,616.41 L289.25,615.82 L289.50,614.76 L289.75,616.30 L290.00,615.49 L290.25,615.96 L290.50,615.72 L290.75,616.00 L291.00,615.32 L291.25,616.32 L291.50,616.21 L291.75,616.06 L292.00,615.33 L292.25,614.63 L292.50,614.65 L292.75,614.34 L293.00,615.51 L293.25,615.18 L293.50,615.08 L293.75,615.04 L294.00,615.28 L294.25,614.70 L294.50,613.99 L294.75,614.89 L295.00,613.92 L295.25,614.65 L295.50,613.77 L295.75,615.19 L296.00,614.48 L296.25,614.36 L296.50,615.97 L296.75,614.60 L297.00,616.61 L297.25,616.58 L297.50,615.67 L297.75,617.21 L298.00,617.15 L298.25,618.13 L298.50,617.80 L298.75,617.79 L299.00,619.12 L299.25,617.74 L299.50,619.43 L299.75,618.39 L300.00,619.05 L300.25,618.88 L300.50,620.54 L300.75,619.83 L301.00,620.55 L301.25,619.76 L301.50,620.86 L301.75,620.85 L302.00,619.90 L302.25,620.84 L302.50,621.44 L302.75,620.58 L303.00,621.61 L303.25,621.01 L303.50,621.34 L303.75,622.59 L304.00,622.79 L304.25,623.05 L304.50,622.05 L304.75,622.49 L305.00,623.12 L305.25,623.19 L305.50,622.76 L305.75,623.75 L306.00,623.00 L306.25,624.28 L306.50,623.50 L306.75,622.96 L307.00,624.40 L307.25,623.36 L307.50,624.61 L307.75,623.53 L308.00,625.58 L308.25,624.86 L308.50,625.43 L308.75,624.39 L309.00,625.57 L309.25,625.23 L309.50,625.15 L309.75,626.45 L310.00,625.07 L310.25,626.18 L310.50,625.62 L310.75,627.38 L311.00,627.69 L311.25,626.19 L311.50,627.28 L311.75,627.51 L312.00,628.24 L312.25,628.48 L312.50,627.94 L312.75,629.34 L313.00,628.07 L313.25,628.20 L313.50,629.78 L313.75,628.62 L314.00,628.97 L314.25,629.83 L314.50,629.72 L314.75,629.60 L315.00,631.36 L315.25,630.60 L315.50,631.37 L315.75,630.45 L316.00,631.93 L316.25,630.69 L316.50,632.21 L316.75,631.78 L317.00,632.64 L317.25,632.39 L317.50,632.26 L317.75,632.22 L318.00,633.01 L318.25,632.34 L318.50,631.80 L318.75,633.58 L319.00,633.51 L319.25,633.41 L319.50,633.69 L319.75,632.81 L320.00,633.43 L320.25,634.27 L320.50,634.67 L320.75,634.72 L321.00,633.32 L321.25,634.49 L321.50,634.36 L321.75,634.19 L322.00,633.84 L322.25,633.90 L322.50,634.69 L322.75,634.86 L323.00,634.54 L323.25,634.86 L323.50,635.36 L323.75,635.90 L324.00,635.68 L324.25,634.95 L324.50,636.52 L324.75,635.61 L325.00,636.92 L325.25,637.17 L325.50,635.70 L325.75,636.79 L326.00,637.77 L326.25,636.81 L326.50,637.34 L326.75,637.09 L327.00,636.72 L327.25,637.28 L327.50,637.33 L327.75,637.86 L328.00,638.76 L328.25,638.68 L328.50,639.50 L328.75,639.02 L329.00,638.42 L329.25,639.65 L329.50,639.07 L329.75,638.94 L330.00,639.63 L330.25,639.29 L330.50,638.72 L330.75,639.26 L331.00,638.70 L331.25,640.09 L331.50,638.69 L331.75,640.20 L332.00,638.43 L332.25,638.37 L332.50,639.51 L332.75,638.86 L333.00,639.51 L333.26,638.75 L333.51,640.20 L333.77,639.89 L334.02,639.93 L334.28,640.43 L334.54,640.58 L334.79,639.97 L335.05,640.05 L335.31,638.64 L335.56,638.75 L335.82,639.52 L336.07,640.63 L336.33,639.33 L336.59,639.86 L336.84,638.75 L337.10,639.58 L337.36,640.57 L337.61,639.96 L337.87,640.45 L338.12,638.84 L338.38,639.23 L338.64,639.20 L338.89,640.52 L339.15,639.08 L339.41,640.75 L339.66,639.44 L339.92,640.68 L340.18,639.97 L340.43,639.60 L340.69,640.90 L340.94,639.79 L341.20,640.39" stroke="#4d72c2" stroke-width="1.5" fill="none" stroke-linejoin="round"/>
<path d="M281.00,646.30 L281.30,645.87 L281.60,646.63 L281.90,646.78 L282.20,645.91 L282.50,646.55 L282.80,646.07 L283.10,645.95 L283.40,646.16 L283.70,646.46 L284.00,646.75" stroke="#4d72c2" stroke-width="1.2" fill="none" stroke-linejoin="round"/>
<line x1="284.90" y1="645.00" x2="284.90" y2="698.30" stroke="#4d72c2" stroke-width="0.8"/>
<path d="M285.20,698.00 L285.60,680.49 L286.05,674.49 L286.50,668.12 L286.80,666.35 L287.10,664.06 L287.40,662.83 L287.70,660.85 L288.00,658.86 L288.33,658.57 L288.67,657.09 L289.00,656.14 L289.33,655.32 L289.67,654.48 L290.00,654.09 L290.33,653.63 L290.67,652.33 L291.00,652.00 L291.33,651.41 L291.67,650.73 L292.00,649.91 L292.33,649.46 L292.67,648.35 L293.00,647.81 L293.33,647.59 L293.67,646.82 L294.00,646.76 L294.31,646.20 L294.62,646.75 L294.92,646.13 L295.23,645.94 L295.54,646.29 L295.85,646.16 L296.15,646.07 L296.46,646.46 L296.77,645.88 L297.08,646.29 L297.38,646.41 L297.69,645.99 L298.00,646.00" stroke="#4d72c2" stroke-width="0.9" fill="none" stroke-linejoin="round"/>
<line x1="360.50" y1="596.60" x2="360.50" y2="639.50" stroke="#6cab4c" stroke-width="0.8"/>
<path d="M358.30,639.10 L358.62,639.35 L358.93,639.16 L359.25,638.91 L359.57,638.84 L359.88,638.85 L360.20,639.00" stroke="#6cab4c" stroke-width="1.1" fill="none" stroke-linejoin="round"/>
<path d="M361.00,604.00 L361.25,604.18 L361.50,606.30 L361.75,607.10 L362.00,608.12 L362.25,609.77 L362.50,611.87 L362.75,609.74 L363.00,608.81 L363.25,608.36 L363.50,607.65 L363.75,608.07 L364.00,606.91 L364.25,606.02 L364.50,605.17 L364.75,604.59 L365.00,604.41 L365.25,605.53 L365.50,604.80 L365.75,603.91 L366.00,604.95 L366.25,603.92 L366.50,604.91 L366.75,604.67 L367.00,604.30 L367.25,605.68 L367.50,605.73 L367.75,605.42 L368.00,604.84 L368.25,605.96 L368.50,605.62 L368.75,606.20 L369.00,605.18 L369.25,606.93 L369.50,605.26 L369.75,605.82 L370.00,606.30 L370.25,606.02 L370.50,605.93 L370.75,607.25 L371.00,607.99 L371.25,606.79 L371.50,606.78 L371.75,607.72 L372.00,606.95 L372.25,607.43 L372.50,608.13 L372.75,607.74 L373.00,607.31 L373.25,607.27 L373.50,608.34 L373.75,609.36 L374.00,609.34 L374.25,608.01 L374.50,609.13 L374.75,609.41 L375.00,609.14 L375.25,610.40 L375.50,610.37 L375.75,611.31 L376.00,610.58 L376.25,612.31 L376.50,612.50 L376.75,612.26 L377.00,612.03 L377.25,613.15 L377.50,612.88 L377.75,614.43 L378.00,614.89 L378.25,615.03 L378.50,616.20 L378.75,614.72 L379.00,616.43 L379.25,616.98 L379.50,615.98 L379.75,616.77 L380.00,616.61 L380.25,618.00 L380.50,618.61 L380.75,618.20 L381.00,619.22 L381.25,618.90 L381.50,619.92 L381.75,619.39 L382.00,621.12 L382.25,620.38 L382.50,619.84 L382.75,620.35 L383.00,621.95 L383.25,622.56 L383.50,622.44 L383.75,621.81 L384.00,623.58 L384.25,623.60 L384.50,622.73 L384.75,623.59 L385.00,624.51 L385.25,623.51 L385.50,623.92 L385.75,624.87 L386.00,626.25 L386.25,626.87 L386.50,625.89 L386.75,627.44 L387.00,627.57 L387.25,628.11 L387.50,627.93 L387.75,629.06 L388.00,628.79 L388.25,629.77 L388.50,629.38 L388.75,629.02 L389.00,630.04 L389.25,630.26 L389.50,630.26 L389.75,630.62 L390.00,631.19 L390.25,631.63 L390.50,631.20 L390.75,631.60 L391.00,632.34 L391.25,632.63 L391.50,632.75 L391.75,633.54 L392.00,632.87 L392.25,633.72 L392.50,633.36 L392.75,634.51 L393.00,634.53 L393.25,634.84 L393.50,634.47 L393.75,634.09 L394.00,635.60 L394.25,634.93 L394.50,634.81 L394.75,634.80 L395.00,635.18 L395.25,635.95 L395.50,636.32 L395.75,635.81 L396.00,636.46 L396.25,635.63 L396.50,636.32 L396.75,636.34 L397.00,636.45 L397.25,636.76 L397.50,637.76 L397.75,637.93 L398.00,637.08 L398.25,637.34 L398.50,638.65 L398.75,638.60 L399.00,638.85 L399.25,638.96 L399.50,639.26 L399.75,638.61 L400.00,638.37 L400.25,639.16 L400.50,638.69 L400.75,640.74 L401.00,640.05 L401.25,640.31 L401.50,640.87 L401.75,640.52 L402.00,639.33 L402.25,639.52 L402.50,639.03 L402.75,640.37 L403.00,640.22 L403.25,639.69 L403.50,639.43 L403.75,639.20 L404.00,639.60 L404.25,640.02 L404.50,640.35 L404.75,640.23 L405.00,640.24 L405.25,639.40 L405.50,639.39 L405.75,639.20 L406.00,640.55 L406.25,638.99 L406.50,638.97 L406.75,639.24 L407.00,640.54 L407.25,640.43 L407.50,639.41 L407.75,640.48 L408.00,640.58 L408.25,639.68 L408.50,639.23 L408.75,640.42 L409.00,639.65 L409.25,639.16 L409.50,640.76 L409.75,639.85 L410.00,639.79 L410.25,640.18 L410.51,639.48 L410.76,639.00 L411.02,639.72 L411.27,639.69 L411.53,638.94 L411.78,639.64 L412.03,640.41 L412.29,639.54 L412.54,640.22 L412.80,640.09 L413.05,639.21 L413.31,638.86 L413.56,640.15 L413.81,640.01 L414.07,639.36 L414.32,639.16 L414.58,640.45 L414.83,640.55 L415.09,639.18 L415.34,639.87 L415.59,639.84 L415.85,639.32 L416.10,638.73 L416.36,639.29 L416.61,639.92 L416.87,639.82 L417.12,639.62 L417.37,638.83 L417.63,639.00 L417.88,639.18 L418.14,639.38 L418.39,639.25 L418.65,640.32 L418.90,638.73" stroke="#6cab4c" stroke-width="1.4" fill="none" stroke-linejoin="round"/>
<path d="M356.60,644.60 L356.91,645.57 L357.21,644.08 L357.52,645.31 L357.82,644.09 L358.13,644.77 L358.44,644.35 L358.74,643.68 L359.05,645.19 L359.35,645.22 L359.66,644.14 L359.96,645.15 L360.27,644.56 L360.58,645.57 L360.88,643.71 L361.19,644.36 L361.49,644.06 L361.80,644.85" stroke="#6cab4c" stroke-width="1.1" fill="none" stroke-linejoin="round"/>
<line x1="362.50" y1="643.00" x2="362.50" y2="705.00" stroke="#6cab4c" stroke-width="0.8"/>
<path d="M363.00,704.00 L363.50,685.50 L363.83,678.95 L364.17,671.75 L364.50,664.80 L364.83,661.21 L365.17,655.62 L365.50,651.57 L365.80,651.45 L366.10,649.89 L366.40,649.89 L366.70,647.26 L367.00,646.93 L367.33,646.15 L367.67,645.44 L368.00,645.27 L368.33,644.93 L368.67,645.10 L369.00,644.88 L369.30,644.96 L369.60,644.52 L369.90,645.21 L370.20,644.83 L370.50,645.62 L370.80,644.10 L371.10,644.67 L371.40,644.59 L371.70,644.32 L372.00,645.15 L372.31,643.98 L372.63,645.18 L372.94,644.24 L373.25,644.20 L373.57,644.71 L373.88,644.61 L374.19,644.11 L374.50,643.75 L374.82,645.32 L375.13,644.26 L375.44,643.81 L375.76,644.78 L376.07,644.56 L376.38,644.19 L376.70,644.19 L377.01,645.12 L377.32,644.21 L377.63,644.35 L377.95,645.32 L378.26,644.25 L378.57,644.32 L378.89,643.89 L379.20,644.79" stroke="#6cab4c" stroke-width="0.9" fill="none" stroke-linejoin="round"/>
<text x="34.98" y="731.72" font-size="18.2" font-weight="bold" text-anchor="start" fill="#000">H</text>
<path d="M108.70,789.50 L140.20,767.70 L172.10,758.40 L203.30,755.40" stroke="#44bb44" stroke-width="1.8" fill="none" stroke-dasharray="7,3"/>
<line x1="108.70" y1="790.23" x2="108.70" y2="788.77" stroke="#44bb44" stroke-width="1.0"/>
<line x1="107.40" y1="790.23" x2="110.00" y2="790.23" stroke="#44bb44" stroke-width="0.8"/>
<line x1="107.40" y1="788.77" x2="110.00" y2="788.77" stroke="#44bb44" stroke-width="0.8"/>
<circle cx="108.70" cy="789.50" r="1.3" fill="#44bb44"/>
<line x1="140.20" y1="771.37" x2="140.20" y2="764.03" stroke="#44bb44" stroke-width="1.0"/>
<line x1="138.90" y1="771.37" x2="141.50" y2="771.37" stroke="#44bb44" stroke-width="0.8"/>
<line x1="138.90" y1="764.03" x2="141.50" y2="764.03" stroke="#44bb44" stroke-width="0.8"/>
<circle cx="140.20" cy="767.70" r="1.3" fill="#44bb44"/>
<line x1="172.10" y1="761.34" x2="172.10" y2="755.46" stroke="#44bb44" stroke-width="1.0"/>
<line x1="170.80" y1="761.34" x2="173.40" y2="761.34" stroke="#44bb44" stroke-width="0.8"/>
<line x1="170.80" y1="755.46" x2="173.40" y2="755.46" stroke="#44bb44" stroke-width="0.8"/>
<circle cx="172.10" cy="758.40" r="1.3" fill="#44bb44"/>
<line x1="203.30" y1="759.07" x2="203.30" y2="751.73" stroke="#44bb44" stroke-width="1.0"/>
<line x1="202.00" y1="759.07" x2="204.60" y2="759.07" stroke="#44bb44" stroke-width="0.8"/>
<line x1="202.00" y1="751.73" x2="204.60" y2="751.73" stroke="#44bb44" stroke-width="0.8"/>
<circle cx="203.30" cy="755.40" r="1.3" fill="#44bb44"/>
<path d="M108.70,790.00 L140.20,774.20 L172.10,761.90 L203.30,759.30" stroke="#f0f000" stroke-width="1.8" fill="none" stroke-dasharray="1.5,2.5"/>
<line x1="108.70" y1="790.73" x2="108.70" y2="789.27" stroke="#f0f000" stroke-width="1.0"/>
<line x1="107.40" y1="790.73" x2="110.00" y2="790.73" stroke="#f0f000" stroke-width="0.8"/>
<line x1="107.40" y1="789.27" x2="110.00" y2="789.27" stroke="#f0f000" stroke-width="0.8"/>
<circle cx="108.70" cy="790.00" r="1.3" fill="#f0f000"/>
<line x1="140.20" y1="778.61" x2="140.20" y2="769.79" stroke="#f0f000" stroke-width="1.0"/>
<line x1="138.90" y1="778.61" x2="141.50" y2="778.61" stroke="#f0f000" stroke-width="0.8"/>
<line x1="138.90" y1="769.79" x2="141.50" y2="769.79" stroke="#f0f000" stroke-width="0.8"/>
<circle cx="140.20" cy="774.20" r="1.3" fill="#f0f000"/>
<line x1="172.10" y1="765.57" x2="172.10" y2="758.23" stroke="#f0f000" stroke-width="1.0"/>
<line x1="170.80" y1="765.57" x2="173.40" y2="765.57" stroke="#f0f000" stroke-width="0.8"/>
<line x1="170.80" y1="758.23" x2="173.40" y2="758.23" stroke="#f0f000" stroke-width="0.8"/>
<circle cx="172.10" cy="761.90" r="1.3" fill="#f0f000"/>
<line x1="203.30" y1="765.17" x2="203.30" y2="753.42" stroke="#f0f000" stroke-width="1.0"/>
<line x1="202.00" y1="765.17" x2="204.60" y2="765.17" stroke="#f0f000" stroke-width="0.8"/>
<line x1="202.00" y1="753.42" x2="204.60" y2="753.42" stroke="#f0f000" stroke-width="0.8"/>
<circle cx="203.30" cy="759.30" r="1.3" fill="#f0f000"/>
<path d="M108.70,790.00 L140.20,771.50 L172.10,760.70 L203.30,760.70" stroke="#0000ff" stroke-width="1.8" fill="none" stroke-dasharray="4,2.5"/>
<line x1="108.70" y1="790.73" x2="108.70" y2="789.27" stroke="#0000ff" stroke-width="1.0"/>
<line x1="107.40" y1="790.73" x2="110.00" y2="790.73" stroke="#0000ff" stroke-width="0.8"/>
<line x1="107.40" y1="789.27" x2="110.00" y2="789.27" stroke="#0000ff" stroke-width="0.8"/>
<circle cx="108.70" cy="790.00" r="1.3" fill="#0000ff"/>
<line x1="140.20" y1="774.44" x2="140.20" y2="768.56" stroke="#0000ff" stroke-width="1.0"/>
<line x1="138.90" y1="774.44" x2="141.50" y2="774.44" stroke="#0000ff" stroke-width="0.8"/>
<line x1="138.90" y1="768.56" x2="141.50" y2="768.56" stroke="#0000ff" stroke-width="0.8"/>
<circle cx="140.20" cy="771.50" r="1.3" fill="#0000ff"/>
<line x1="172.10" y1="763.64" x2="172.10" y2="757.76" stroke="#0000ff" stroke-width="1.0"/>
<line x1="170.80" y1="763.64" x2="173.40" y2="763.64" stroke="#0000ff" stroke-width="0.8"/>
<line x1="170.80" y1="757.76" x2="173.40" y2="757.76" stroke="#0000ff" stroke-width="0.8"/>
<circle cx="172.10" cy="760.70" r="1.3" fill="#0000ff"/>
<line x1="203.30" y1="763.64" x2="203.30" y2="757.76" stroke="#0000ff" stroke-width="1.0"/>
<line x1="202.00" y1="763.64" x2="204.60" y2="763.64" stroke="#0000ff" stroke-width="0.8"/>
<line x1="202.00" y1="757.76" x2="204.60" y2="757.76" stroke="#0000ff" stroke-width="0.8"/>
<circle cx="203.30" cy="760.70" r="1.3" fill="#0000ff"/>
<path d="M108.70,790.80 L140.20,780.60 L172.10,769.40 L203.30,764.50" stroke="#ff2020" stroke-width="1.8" fill="none"/>
<line x1="108.70" y1="791.53" x2="108.70" y2="790.07" stroke="#ff2020" stroke-width="1.0"/>
<line x1="107.40" y1="791.53" x2="110.00" y2="791.53" stroke="#ff2020" stroke-width="0.8"/>
<line x1="107.40" y1="790.07" x2="110.00" y2="790.07" stroke="#ff2020" stroke-width="0.8"/>
<circle cx="108.70" cy="790.80" r="1.3" fill="#ff2020"/>
<line x1="140.20" y1="783.54" x2="140.20" y2="777.66" stroke="#ff2020" stroke-width="1.0"/>
<line x1="138.90" y1="783.54" x2="141.50" y2="783.54" stroke="#ff2020" stroke-width="0.8"/>
<line x1="138.90" y1="777.66" x2="141.50" y2="777.66" stroke="#ff2020" stroke-width="0.8"/>
<circle cx="140.20" cy="780.60" r="1.3" fill="#ff2020"/>
<line x1="172.10" y1="773.07" x2="172.10" y2="765.73" stroke="#ff2020" stroke-width="1.0"/>
<line x1="170.80" y1="773.07" x2="173.40" y2="773.07" stroke="#ff2020" stroke-width="0.8"/>
<line x1="170.80" y1="765.73" x2="173.40" y2="765.73" stroke="#ff2020" stroke-width="0.8"/>
<circle cx="172.10" cy="769.40" r="1.3" fill="#ff2020"/>
<line x1="203.30" y1="768.17" x2="203.30" y2="760.83" stroke="#ff2020" stroke-width="1.0"/>
<line x1="202.00" y1="768.17" x2="204.60" y2="768.17" stroke="#ff2020" stroke-width="0.8"/>
<line x1="202.00" y1="760.83" x2="204.60" y2="760.83" stroke="#ff2020" stroke-width="0.8"/>
<circle cx="203.30" cy="764.50" r="1.3" fill="#ff2020"/>
<path d="M108.70,792.20 L140.20,786.40 L172.10,774.70 L203.30,770.70" stroke="#000" stroke-width="1.8" fill="none"/>
<line x1="108.70" y1="792.93" x2="108.70" y2="791.47" stroke="#000" stroke-width="1.0"/>
<line x1="107.40" y1="792.93" x2="110.00" y2="792.93" stroke="#000" stroke-width="0.8"/>
<line x1="107.40" y1="791.47" x2="110.00" y2="791.47" stroke="#000" stroke-width="0.8"/>
<circle cx="108.70" cy="792.20" r="1.3" fill="#000"/>
<line x1="140.20" y1="790.07" x2="140.20" y2="782.73" stroke="#000" stroke-width="1.0"/>
<line x1="138.90" y1="790.07" x2="141.50" y2="790.07" stroke="#000" stroke-width="0.8"/>
<line x1="138.90" y1="782.73" x2="141.50" y2="782.73" stroke="#000" stroke-width="0.8"/>
<circle cx="140.20" cy="786.40" r="1.3" fill="#000"/>
<line x1="172.10" y1="778.37" x2="172.10" y2="771.03" stroke="#000" stroke-width="1.0"/>
<line x1="170.80" y1="778.37" x2="173.40" y2="778.37" stroke="#000" stroke-width="0.8"/>
<line x1="170.80" y1="771.03" x2="173.40" y2="771.03" stroke="#000" stroke-width="0.8"/>
<circle cx="172.10" cy="774.70" r="1.3" fill="#000"/>
<line x1="203.30" y1="772.90" x2="203.30" y2="768.50" stroke="#000" stroke-width="1.0"/>
<line x1="202.00" y1="772.90" x2="204.60" y2="772.90" stroke="#000" stroke-width="0.8"/>
<line x1="202.00" y1="768.50" x2="204.60" y2="768.50" stroke="#000" stroke-width="0.8"/>
<circle cx="203.30" cy="770.70" r="1.3" fill="#000"/>
<line x1="108.70" y1="750.50" x2="108.70" y2="798.00" stroke="#000" stroke-width="2.1"/>
<line x1="107.70" y1="797.00" x2="203.60" y2="797.00" stroke="#000" stroke-width="2.2"/>
<text x="98.30" y="753.67" font-size="10.8" text-anchor="end" fill="#000" stroke="#000" stroke-width="0.38">320</text>
<text x="98.30" y="777.27" font-size="10.8" text-anchor="end" fill="#000" stroke="#000" stroke-width="0.38">160</text>
<text x="98.30" y="800.97" font-size="10.8" text-anchor="end" fill="#000" stroke="#000" stroke-width="0.38">0</text>
<text x="108.70" y="814.94" font-size="11.0" font-weight="bold" text-anchor="middle" fill="#000">0.2</text>
<text x="140.20" y="814.94" font-size="11.0" font-weight="bold" text-anchor="middle" fill="#000">0.4</text>
<text x="172.10" y="814.94" font-size="11.0" font-weight="bold" text-anchor="middle" fill="#000">0.6</text>
<text x="203.30" y="814.94" font-size="11.0" font-weight="bold" text-anchor="middle" fill="#000">0.8</text>
<text x="97.40" y="834.31" font-size="11.2" font-weight="bold" text-anchor="start" fill="#000" textLength="125.9" lengthAdjust="spacingAndGlyphs">Stimulus intensity (mA)</text>
<text x="61.72" y="812.83" font-size="12.85" font-weight="bold" textLength="67.39" lengthAdjust="spacingAndGlyphs" transform="rotate(-90 61.72 812.83)">AMPA EPSC</text>
<text x="74.08" y="816.68" font-size="11.91" font-weight="bold" textLength="79.09" lengthAdjust="spacingAndGlyphs" transform="rotate(-90 74.08 816.68)">amplitude (pA)</text>
<line x1="79.20" y1="855.10" x2="99.40" y2="855.10" stroke="#000" stroke-width="2.2"/>
<circle cx="92.30" cy="855.10" r="1.8" fill="#000"/>
<text x="104.20" y="857.56" font-size="8.0" font-weight="bold" text-anchor="start" fill="#000">Ctrl1<tspan font-size="4.8" dy="-2.9">~</tspan></text>
<line x1="137.00" y1="855.10" x2="155.40" y2="855.10" stroke="#ff2020" stroke-width="2.2"/>
<circle cx="146.20" cy="855.10" r="1.6" fill="#cc2020"/>
<text x="159.90" y="857.96" font-size="8.0" font-weight="bold" text-anchor="start" fill="#000" textLength="32.3" lengthAdjust="spacingAndGlyphs">MHS-P1</text>
<line x1="200" y1="855.1" x2="220" y2="855.1" stroke="#f0f000" stroke-width="1.8" stroke-dasharray="1.5,3"/>
<circle cx="211.90" cy="855.10" r="1.8" fill="#fff" stroke="#e0e000" stroke-width="1.0"/>
<text x="224.70" y="857.96" font-size="8.0" font-weight="bold" text-anchor="start" fill="#000">MHS-P2<tspan font-size="4.8" dy="-2.9">~</tspan></text>
<line x1="268.3" y1="855.1" x2="288.5" y2="855.1" stroke="#0000ff" stroke-width="2.2" stroke-dasharray="4,3"/>
<circle cx="279.30" cy="855.10" r="1.8" fill="#0000ff"/>
<text x="292.50" y="857.96" font-size="8.0" font-weight="bold" text-anchor="start" fill="#000" textLength="32.8" lengthAdjust="spacingAndGlyphs">MHS-P3</text>
<line x1="333.20" y1="855.10" x2="354.20" y2="855.10" stroke="#44bb44" stroke-width="2.4"/>
<circle cx="343.60" cy="855.10" r="1.8" fill="#889988"/>
<text x="361.20" y="857.96" font-size="8.0" font-weight="bold" text-anchor="start" fill="#000" textLength="32.7" lengthAdjust="spacingAndGlyphs">MHS-P4</text>
<text x="33.18" y="879.02" font-size="18.2" font-weight="bold" text-anchor="start" fill="#000">I</text>
<path d="M115.80,940.00 L146.40,910.40 L177.10,904.30 L207.10,904.70" stroke="#44bb44" stroke-width="1.8" fill="none" stroke-dasharray="7,3"/>
<line x1="115.80" y1="940.77" x2="115.80" y2="939.23" stroke="#44bb44" stroke-width="1.0"/>
<line x1="114.50" y1="940.77" x2="117.10" y2="940.77" stroke="#44bb44" stroke-width="0.8"/>
<line x1="114.50" y1="939.23" x2="117.10" y2="939.23" stroke="#44bb44" stroke-width="0.8"/>
<circle cx="115.80" cy="940.00" r="1.3" fill="#44bb44"/>
<line x1="146.40" y1="914.27" x2="146.40" y2="906.52" stroke="#44bb44" stroke-width="1.0"/>
<line x1="145.10" y1="914.27" x2="147.70" y2="914.27" stroke="#44bb44" stroke-width="0.8"/>
<line x1="145.10" y1="906.52" x2="147.70" y2="906.52" stroke="#44bb44" stroke-width="0.8"/>
<circle cx="146.40" cy="910.40" r="1.3" fill="#44bb44"/>
<line x1="177.10" y1="907.40" x2="177.10" y2="901.20" stroke="#44bb44" stroke-width="1.0"/>
<line x1="175.80" y1="907.40" x2="178.40" y2="907.40" stroke="#44bb44" stroke-width="0.8"/>
<line x1="175.80" y1="901.20" x2="178.40" y2="901.20" stroke="#44bb44" stroke-width="0.8"/>
<circle cx="177.10" cy="904.30" r="1.3" fill="#44bb44"/>
<line x1="207.10" y1="907.03" x2="207.10" y2="902.38" stroke="#44bb44" stroke-width="1.0"/>
<line x1="205.80" y1="907.03" x2="208.40" y2="907.03" stroke="#44bb44" stroke-width="0.8"/>
<line x1="205.80" y1="902.38" x2="208.40" y2="902.38" stroke="#44bb44" stroke-width="0.8"/>
<circle cx="207.10" cy="904.70" r="1.3" fill="#44bb44"/>
<path d="M115.80,941.00 L146.40,916.20 L177.10,909.40 L207.10,908.40" stroke="#f0f000" stroke-width="1.8" fill="none" stroke-dasharray="1.5,2.5"/>
<line x1="115.80" y1="941.77" x2="115.80" y2="940.23" stroke="#f0f000" stroke-width="1.0"/>
<line x1="114.50" y1="941.77" x2="117.10" y2="941.77" stroke="#f0f000" stroke-width="0.8"/>
<line x1="114.50" y1="940.23" x2="117.10" y2="940.23" stroke="#f0f000" stroke-width="0.8"/>
<circle cx="115.80" cy="941.00" r="1.3" fill="#f0f000"/>
<line x1="146.40" y1="919.30" x2="146.40" y2="913.10" stroke="#f0f000" stroke-width="1.0"/>
<line x1="145.10" y1="919.30" x2="147.70" y2="919.30" stroke="#f0f000" stroke-width="0.8"/>
<line x1="145.10" y1="913.10" x2="147.70" y2="913.10" stroke="#f0f000" stroke-width="0.8"/>
<circle cx="146.40" cy="916.20" r="1.3" fill="#f0f000"/>
<line x1="177.10" y1="911.73" x2="177.10" y2="907.07" stroke="#f0f000" stroke-width="1.0"/>
<line x1="175.80" y1="911.73" x2="178.40" y2="911.73" stroke="#f0f000" stroke-width="0.8"/>
<line x1="175.80" y1="907.07" x2="178.40" y2="907.07" stroke="#f0f000" stroke-width="0.8"/>
<circle cx="177.10" cy="909.40" r="1.3" fill="#f0f000"/>
<line x1="207.10" y1="911.50" x2="207.10" y2="905.30" stroke="#f0f000" stroke-width="1.0"/>
<line x1="205.80" y1="911.50" x2="208.40" y2="911.50" stroke="#f0f000" stroke-width="0.8"/>
<line x1="205.80" y1="905.30" x2="208.40" y2="905.30" stroke="#f0f000" stroke-width="0.8"/>
<circle cx="207.10" cy="908.40" r="1.3" fill="#f0f000"/>
<path d="M115.80,938.60 L146.40,912.90 L177.10,908.00 L207.10,906.30" stroke="#0000ff" stroke-width="1.8" fill="none" stroke-dasharray="4,2.5"/>
<line x1="115.80" y1="939.38" x2="115.80" y2="937.83" stroke="#0000ff" stroke-width="1.0"/>
<line x1="114.50" y1="939.38" x2="117.10" y2="939.38" stroke="#0000ff" stroke-width="0.8"/>
<line x1="114.50" y1="937.83" x2="117.10" y2="937.83" stroke="#0000ff" stroke-width="0.8"/>
<circle cx="115.80" cy="938.60" r="1.3" fill="#0000ff"/>
<line x1="146.40" y1="915.23" x2="146.40" y2="910.57" stroke="#0000ff" stroke-width="1.0"/>
<line x1="145.10" y1="915.23" x2="147.70" y2="915.23" stroke="#0000ff" stroke-width="0.8"/>
<line x1="145.10" y1="910.57" x2="147.70" y2="910.57" stroke="#0000ff" stroke-width="0.8"/>
<circle cx="146.40" cy="912.90" r="1.3" fill="#0000ff"/>
<line x1="177.10" y1="910.33" x2="177.10" y2="905.67" stroke="#0000ff" stroke-width="1.0"/>
<line x1="175.80" y1="910.33" x2="178.40" y2="910.33" stroke="#0000ff" stroke-width="0.8"/>
<line x1="175.80" y1="905.67" x2="178.40" y2="905.67" stroke="#0000ff" stroke-width="0.8"/>
<circle cx="177.10" cy="908.00" r="1.3" fill="#0000ff"/>
<line x1="207.10" y1="909.40" x2="207.10" y2="903.20" stroke="#0000ff" stroke-width="1.0"/>
<line x1="205.80" y1="909.40" x2="208.40" y2="909.40" stroke="#0000ff" stroke-width="0.8"/>
<line x1="205.80" y1="903.20" x2="208.40" y2="903.20" stroke="#0000ff" stroke-width="0.8"/>
<circle cx="207.10" cy="906.30" r="1.3" fill="#0000ff"/>
<path d="M115.80,944.20 L146.40,914.50 L177.10,917.20 L207.10,914.90" stroke="#ff2020" stroke-width="1.8" fill="none"/>
<line x1="115.80" y1="944.98" x2="115.80" y2="943.43" stroke="#ff2020" stroke-width="1.0"/>
<line x1="114.50" y1="944.98" x2="117.10" y2="944.98" stroke="#ff2020" stroke-width="0.8"/>
<line x1="114.50" y1="943.43" x2="117.10" y2="943.43" stroke="#ff2020" stroke-width="0.8"/>
<circle cx="115.80" cy="944.20" r="1.3" fill="#ff2020"/>
<line x1="146.40" y1="916.83" x2="146.40" y2="912.17" stroke="#ff2020" stroke-width="1.0"/>
<line x1="145.10" y1="916.83" x2="147.70" y2="916.83" stroke="#ff2020" stroke-width="0.8"/>
<line x1="145.10" y1="912.17" x2="147.70" y2="912.17" stroke="#ff2020" stroke-width="0.8"/>
<circle cx="146.40" cy="914.50" r="1.3" fill="#ff2020"/>
<line x1="177.10" y1="921.08" x2="177.10" y2="913.33" stroke="#ff2020" stroke-width="1.0"/>
<line x1="175.80" y1="921.08" x2="178.40" y2="921.08" stroke="#ff2020" stroke-width="0.8"/>
<line x1="175.80" y1="913.33" x2="178.40" y2="913.33" stroke="#ff2020" stroke-width="0.8"/>
<circle cx="177.10" cy="917.20" r="1.3" fill="#ff2020"/>
<line x1="207.10" y1="921.88" x2="207.10" y2="907.92" stroke="#ff2020" stroke-width="1.0"/>
<line x1="205.80" y1="921.88" x2="208.40" y2="921.88" stroke="#ff2020" stroke-width="0.8"/>
<line x1="205.80" y1="907.92" x2="208.40" y2="907.92" stroke="#ff2020" stroke-width="0.8"/>
<circle cx="207.10" cy="914.90" r="1.3" fill="#ff2020"/>
<path d="M115.80,943.50 L146.40,927.20 L177.10,920.20 L207.10,921.10" stroke="#000" stroke-width="1.8" fill="none"/>
<line x1="115.80" y1="944.27" x2="115.80" y2="942.73" stroke="#000" stroke-width="1.0"/>
<line x1="114.50" y1="944.27" x2="117.10" y2="944.27" stroke="#000" stroke-width="0.8"/>
<line x1="114.50" y1="942.73" x2="117.10" y2="942.73" stroke="#000" stroke-width="0.8"/>
<circle cx="115.80" cy="943.50" r="1.3" fill="#000"/>
<line x1="146.40" y1="932.62" x2="146.40" y2="921.78" stroke="#000" stroke-width="1.0"/>
<line x1="145.10" y1="932.62" x2="147.70" y2="932.62" stroke="#000" stroke-width="0.8"/>
<line x1="145.10" y1="921.78" x2="147.70" y2="921.78" stroke="#000" stroke-width="0.8"/>
<circle cx="146.40" cy="927.20" r="1.3" fill="#000"/>
<line x1="177.10" y1="924.08" x2="177.10" y2="916.33" stroke="#000" stroke-width="1.0"/>
<line x1="175.80" y1="924.08" x2="178.40" y2="924.08" stroke="#000" stroke-width="0.8"/>
<line x1="175.80" y1="916.33" x2="178.40" y2="916.33" stroke="#000" stroke-width="0.8"/>
<circle cx="177.10" cy="920.20" r="1.3" fill="#000"/>
<line x1="207.10" y1="927.30" x2="207.10" y2="914.90" stroke="#000" stroke-width="1.0"/>
<line x1="205.80" y1="927.30" x2="208.40" y2="927.30" stroke="#000" stroke-width="0.8"/>
<line x1="205.80" y1="914.90" x2="208.40" y2="914.90" stroke="#000" stroke-width="0.8"/>
<circle cx="207.10" cy="921.10" r="1.3" fill="#000"/>
<line x1="115.80" y1="902.70" x2="115.80" y2="953.30" stroke="#000" stroke-width="2.1"/>
<line x1="114.80" y1="952.30" x2="207.70" y2="952.30" stroke="#000" stroke-width="2.2"/>
<text x="105.50" y="906.57" font-size="10.8" text-anchor="end" fill="#000" stroke="#000" stroke-width="0.38">320</text>
<text x="105.50" y="930.67" font-size="10.8" text-anchor="end" fill="#000" stroke="#000" stroke-width="0.38">160</text>
<text x="105.50" y="956.17" font-size="10.8" text-anchor="end" fill="#000" stroke="#000" stroke-width="0.38">0</text>
<text x="115.80" y="969.94" font-size="11.0" font-weight="bold" text-anchor="middle" fill="#000">0.2</text>
<text x="146.40" y="969.94" font-size="11.0" font-weight="bold" text-anchor="middle" fill="#000">0.4</text>
<text x="177.10" y="969.94" font-size="11.0" font-weight="bold" text-anchor="middle" fill="#000">0.6</text>
<text x="207.10" y="969.94" font-size="11.0" font-weight="bold" text-anchor="middle" fill="#000">0.8</text>
<text x="97.40" y="991.61" font-size="11.2" font-weight="bold" text-anchor="start" fill="#000" textLength="125.9" lengthAdjust="spacingAndGlyphs">Stimulus intensity (mA)</text>
<text x="67.73" y="966.91" font-size="12.29" font-weight="bold" textLength="67.87" lengthAdjust="spacingAndGlyphs" transform="rotate(-90 67.73 966.91)">NMDA EPSC</text>
<text x="80.59" y="971.18" font-size="11.37" font-weight="bold" textLength="78.99" lengthAdjust="spacingAndGlyphs" transform="rotate(-90 80.59 971.18)">amplitude (pA)</text>
<text x="235.03" y="731.92" font-size="18.2" font-weight="bold" text-anchor="start" fill="#000">J</text>
<rect x="302.40" y="772.98" width="10.40" height="28.92" fill="#000" stroke="#000" stroke-width="1.3"/>
<rect x="323.45" y="766.85" width="10.40" height="35.05" fill="#ff2a0a" stroke="#000" stroke-width="1.3"/>
<rect x="344.50" y="758.09" width="10.40" height="43.81" fill="#ffff33" stroke="#000" stroke-width="1.3"/>
<rect x="365.55" y="758.44" width="10.40" height="43.46" fill="#1010ee" stroke="#000" stroke-width="1.3"/>
<rect x="386.80" y="753.71" width="10.40" height="48.19" fill="#33dd33" stroke="#000" stroke-width="1.3"/>
<line x1="307.60" y1="772.98" x2="307.60" y2="768.60" stroke="#000" stroke-width="1.0"/>
<line x1="304.60" y1="768.60" x2="310.60" y2="768.60" stroke="#000" stroke-width="1.0"/>
<line x1="328.65" y1="766.85" x2="328.65" y2="762.99" stroke="#000" stroke-width="1.0"/>
<line x1="325.65" y1="762.99" x2="331.65" y2="762.99" stroke="#000" stroke-width="1.0"/>
<line x1="349.70" y1="758.09" x2="349.70" y2="755.46" stroke="#000" stroke-width="1.0"/>
<line x1="346.70" y1="755.46" x2="352.70" y2="755.46" stroke="#000" stroke-width="1.0"/>
<line x1="370.75" y1="758.44" x2="370.75" y2="756.69" stroke="#000" stroke-width="1.0"/>
<line x1="367.75" y1="756.69" x2="373.75" y2="756.69" stroke="#000" stroke-width="1.0"/>
<line x1="392.00" y1="753.71" x2="392.00" y2="751.95" stroke="#000" stroke-width="1.0"/>
<line x1="389.00" y1="751.95" x2="395.00" y2="751.95" stroke="#000" stroke-width="1.0"/>
<circle cx="307.60" cy="758.96" r="1.8" fill="#000"/>
<circle cx="309.41" cy="759.84" r="1.8" fill="#000"/>
<circle cx="304.52" cy="760.72" r="1.8" fill="#000"/>
<circle cx="307.01" cy="761.59" r="1.8" fill="#000"/>
<circle cx="307.60" cy="766.85" r="1.8" fill="#000"/>
<circle cx="307.60" cy="770.36" r="1.8" fill="#000"/>
<circle cx="304.52" cy="772.98" r="1.8" fill="#000"/>
<circle cx="307.60" cy="775.61" r="1.8" fill="#000"/>
<circle cx="307.60" cy="779.12" r="1.8" fill="#000"/>
<circle cx="304.52" cy="780.87" r="1.8" fill="#000"/>
<circle cx="328.65" cy="751.95" r="1.8" fill="#000"/>
<circle cx="327.61" cy="752.83" r="1.8" fill="#000"/>
<circle cx="331.73" cy="753.71" r="1.8" fill="#000"/>
<circle cx="328.65" cy="759.84" r="1.8" fill="#000"/>
<circle cx="328.65" cy="765.10" r="1.8" fill="#000"/>
<circle cx="325.57" cy="766.85" r="1.8" fill="#000"/>
<circle cx="328.65" cy="768.60" r="1.8" fill="#000"/>
<circle cx="328.65" cy="772.11" r="1.8" fill="#000"/>
<circle cx="328.65" cy="775.61" r="1.8" fill="#000"/>
<circle cx="325.57" cy="777.37" r="1.8" fill="#000"/>
<circle cx="328.65" cy="779.12" r="1.8" fill="#000"/>
<circle cx="325.57" cy="781.75" r="1.8" fill="#000"/>
<circle cx="349.70" cy="745.82" r="1.8" fill="#000"/>
<circle cx="349.70" cy="749.32" r="1.8" fill="#000"/>
<circle cx="349.70" cy="752.83" r="1.8" fill="#000"/>
<circle cx="346.62" cy="754.58" r="1.8" fill="#000"/>
<circle cx="349.70" cy="756.34" r="1.8" fill="#000"/>
<circle cx="346.76" cy="757.21" r="1.8" fill="#000"/>
<circle cx="352.78" cy="758.09" r="1.8" fill="#000"/>
<circle cx="349.70" cy="759.84" r="1.8" fill="#000"/>
<circle cx="349.70" cy="766.85" r="1.8" fill="#000"/>
<circle cx="346.62" cy="768.60" r="1.8" fill="#000"/>
<circle cx="349.70" cy="780.87" r="1.8" fill="#000"/>
<circle cx="370.75" cy="749.32" r="1.8" fill="#000"/>
<circle cx="373.94" cy="750.20" r="1.8" fill="#000"/>
<circle cx="367.67" cy="751.08" r="1.8" fill="#000"/>
<circle cx="370.75" cy="752.83" r="1.8" fill="#000"/>
<circle cx="370.75" cy="756.34" r="1.8" fill="#000"/>
<circle cx="370.28" cy="757.21" r="1.8" fill="#000"/>
<circle cx="373.83" cy="758.09" r="1.8" fill="#000"/>
<circle cx="374.40" cy="758.96" r="1.8" fill="#000"/>
<circle cx="367.67" cy="759.84" r="1.8" fill="#000"/>
<circle cx="369.37" cy="760.72" r="1.8" fill="#000"/>
<circle cx="373.32" cy="761.59" r="1.8" fill="#000"/>
<circle cx="365.57" cy="762.47" r="1.8" fill="#000"/>
<circle cx="367.67" cy="763.35" r="1.8" fill="#000"/>
<circle cx="392.00" cy="747.57" r="1.8" fill="#000"/>
<circle cx="397.07" cy="748.45" r="1.8" fill="#000"/>
<circle cx="388.92" cy="749.32" r="1.8" fill="#000"/>
<circle cx="394.01" cy="750.20" r="1.8" fill="#000"/>
<circle cx="393.93" cy="751.08" r="1.8" fill="#000"/>
<circle cx="391.97" cy="751.95" r="1.8" fill="#000"/>
<circle cx="391.70" cy="752.83" r="1.8" fill="#000"/>
<circle cx="395.08" cy="754.58" r="1.8" fill="#000"/>
<circle cx="392.00" cy="756.34" r="1.8" fill="#000"/>
<circle cx="388.92" cy="758.09" r="1.8" fill="#000"/>
<circle cx="392.00" cy="759.84" r="1.8" fill="#000"/>
<circle cx="388.92" cy="761.59" r="1.8" fill="#000"/>
<circle cx="392.00" cy="765.10" r="1.8" fill="#000"/>
<line x1="297.00" y1="731.80" x2="297.00" y2="801.90" stroke="#000" stroke-width="1.3"/>
<line x1="294.00" y1="801.90" x2="297.00" y2="801.90" stroke="#000" stroke-width="1.3"/>
<text x="292.60" y="805.41" font-size="9.8" font-weight="bold" text-anchor="end" fill="#000">0</text>
<line x1="294.00" y1="784.38" x2="297.00" y2="784.38" stroke="#000" stroke-width="1.3"/>
<text x="292.60" y="787.88" font-size="9.8" font-weight="bold" text-anchor="end" fill="#000">100</text>
<line x1="294.00" y1="766.85" x2="297.00" y2="766.85" stroke="#000" stroke-width="1.3"/>
<text x="292.60" y="770.36" font-size="9.8" font-weight="bold" text-anchor="end" fill="#000">200</text>
<line x1="294.00" y1="749.32" x2="297.00" y2="749.32" stroke="#000" stroke-width="1.3"/>
<text x="292.60" y="752.83" font-size="9.8" font-weight="bold" text-anchor="end" fill="#000">300</text>
<line x1="294.00" y1="731.80" x2="297.00" y2="731.80" stroke="#000" stroke-width="1.3"/>
<text x="292.60" y="735.31" font-size="9.8" font-weight="bold" text-anchor="end" fill="#000">400</text>
<line x1="297.00" y1="801.90" x2="402.80" y2="801.90" stroke="#000" stroke-width="1.3"/>
<line x1="307.60" y1="801.90" x2="307.60" y2="805.10" stroke="#000" stroke-width="1.3"/>
<line x1="328.65" y1="801.90" x2="328.65" y2="805.10" stroke="#000" stroke-width="1.3"/>
<line x1="349.70" y1="801.90" x2="349.70" y2="805.10" stroke="#000" stroke-width="1.3"/>
<line x1="370.75" y1="801.90" x2="370.75" y2="805.10" stroke="#000" stroke-width="1.3"/>
<line x1="392.00" y1="801.90" x2="392.00" y2="805.10" stroke="#000" stroke-width="1.3"/>
<text x="310.10" y="811.40" font-size="10.0" font-weight="bold" text-anchor="end" transform="rotate(-45 310.10 811.40)">Ctrl1<tspan font-size="6.0" dy="-3.6">~</tspan></text>
<text x="331.15" y="811.40" font-size="10.0" font-weight="bold" text-anchor="end" transform="rotate(-45 331.15 811.40)">MHS-P1</text>
<text x="352.20" y="811.40" font-size="10.0" font-weight="bold" text-anchor="end" transform="rotate(-45 352.20 811.40)">MHS-P2<tspan font-size="6.0" dy="-3.6">~</tspan></text>
<text x="373.25" y="811.40" font-size="10.0" font-weight="bold" text-anchor="end" transform="rotate(-45 373.25 811.40)">MHS-P3</text>
<text x="394.50" y="811.40" font-size="10.0" font-weight="bold" text-anchor="end" transform="rotate(-45 394.50 811.40)">MHS-P4</text>
<text x="307.40" y="752.46" font-size="10.5" text-anchor="middle" fill="#000" stroke="#000" stroke-width="0.38">10</text>
<text x="328.70" y="745.26" font-size="10.5" text-anchor="middle" fill="#000" stroke="#000" stroke-width="0.38">12</text>
<text x="349.30" y="742.86" font-size="10.5" text-anchor="middle" fill="#000" stroke="#000" stroke-width="0.38">11</text>
<text x="349.30" y="733.66" font-size="11.5" text-anchor="middle" fill="#000" stroke="#000" stroke-width="0.38">**</text>
<text x="370.10" y="744.46" font-size="10.5" text-anchor="middle" fill="#000" stroke="#000" stroke-width="0.38">13</text>
<text x="370.10" y="734.97" font-size="11.5" text-anchor="middle" fill="#000" stroke="#000" stroke-width="0.38">**</text>
<text x="391.00" y="739.66" font-size="10.5" text-anchor="middle" fill="#000" stroke="#000" stroke-width="0.38">13</text>
<text x="391.00" y="730.07" font-size="11.5" text-anchor="middle" fill="#000" stroke="#000" stroke-width="0.38">****</text>
<text x="261.54" y="804.75" font-size="9.90" textLength="81.47" lengthAdjust="spacingAndGlyphs" transform="rotate(-90 261.54 804.75)" stroke="#000" stroke-width="0.35">Peak AMPA EPSC</text>
<text x="272.21" y="797.90" font-size="9.90" textLength="68.50" lengthAdjust="spacingAndGlyphs" transform="rotate(-90 272.21 797.90)" stroke="#000" stroke-width="0.35">amplitude (pA)</text>
<rect x="476.50" y="752.40" width="30.80" height="53.60" fill="#000" stroke="#000" stroke-width="1.0"/>
<line x1="491.90" y1="752.40" x2="491.90" y2="744.50" stroke="#000" stroke-width="1.3"/>
<line x1="484.25" y1="744.50" x2="499.55" y2="744.50" stroke="#000" stroke-width="1.3"/>
<line x1="539.35" y1="727.71" x2="539.35" y2="724.69" stroke="#000" stroke-width="1.3"/>
<line x1="531.85" y1="724.69" x2="546.85" y2="724.69" stroke="#000" stroke-width="1.3"/>
<line x1="539.35" y1="727.71" x2="539.35" y2="730.20" stroke="#000" stroke-width="1.3"/>
<line x1="531.85" y1="730.20" x2="546.85" y2="730.20" stroke="#000" stroke-width="1.3"/>
<rect x="524.20" y="727.71" width="30.30" height="78.29" fill="none" stroke="#000" stroke-width="1.3"/>
<line x1="460.90" y1="724.30" x2="460.90" y2="806.00" stroke="#000" stroke-width="1.3"/>
<line x1="457.90" y1="806.00" x2="460.90" y2="806.00" stroke="#000" stroke-width="1.3"/>
<text x="456.50" y="809.40" font-size="9.5" font-weight="bold" text-anchor="end" fill="#000">0</text>
<line x1="457.90" y1="773.20" x2="460.90" y2="773.20" stroke="#000" stroke-width="1.3"/>
<text x="456.50" y="776.60" font-size="9.5" font-weight="bold" text-anchor="end" fill="#000">100</text>
<line x1="457.90" y1="740.40" x2="460.90" y2="740.40" stroke="#000" stroke-width="1.3"/>
<text x="456.50" y="743.80" font-size="9.5" font-weight="bold" text-anchor="end" fill="#000">200</text>
<line x1="460.90" y1="806.00" x2="570.80" y2="806.00" stroke="#000" stroke-width="1.3"/>
<line x1="491.90" y1="806.00" x2="491.90" y2="809.20" stroke="#000" stroke-width="1.3"/>
<line x1="539.35" y1="806.00" x2="539.35" y2="809.20" stroke="#000" stroke-width="1.3"/>
<text x="491.90" y="741.28" font-size="10.0" font-weight="bold" text-anchor="middle" fill="#000">10</text>
<text x="539.10" y="720.48" font-size="10.0" font-weight="bold" text-anchor="middle" fill="#000">49</text>
<text x="539.10" y="713.25" font-size="10.3" text-anchor="middle" fill="#000" stroke="#000" stroke-width="0.38">***</text>
<text x="491.90" y="820.28" font-size="10.0" font-weight="bold" text-anchor="middle" fill="#000">Ctrl</text>
<text x="539.35" y="820.28" font-size="10.0" font-weight="bold" text-anchor="middle" fill="#000">MHS</text>
<text x="425.12" y="809.15" font-size="10.00" textLength="92.42" lengthAdjust="spacingAndGlyphs" transform="rotate(-90 425.12 809.15)" stroke="#000" stroke-width="0.35">Peak AMPA EPSC</text>
<text x="437.94" y="802.16" font-size="10.00" textLength="78.16" lengthAdjust="spacingAndGlyphs" transform="rotate(-90 437.94 802.16)" stroke="#000" stroke-width="0.35">amplitude (pA)</text>
<text x="230.88" y="889.72" font-size="18.2" font-weight="bold" text-anchor="start" fill="#000">K</text>
<rect x="301.65" y="929.35" width="10.30" height="35.45" fill="#000" stroke="#000" stroke-width="1.3"/>
<rect x="323.10" y="925.80" width="10.30" height="39.00" fill="#ff2a0a" stroke="#000" stroke-width="1.3"/>
<rect x="344.55" y="915.17" width="10.30" height="49.63" fill="#ffff33" stroke="#000" stroke-width="1.3"/>
<rect x="365.80" y="914.28" width="10.30" height="50.52" fill="#1010ee" stroke="#000" stroke-width="1.3"/>
<rect x="387.45" y="911.62" width="10.30" height="53.17" fill="#33dd33" stroke="#000" stroke-width="1.3"/>
<line x1="306.80" y1="929.35" x2="306.80" y2="924.92" stroke="#000" stroke-width="1.0"/>
<line x1="303.80" y1="924.92" x2="309.80" y2="924.92" stroke="#000" stroke-width="1.0"/>
<line x1="328.25" y1="925.80" x2="328.25" y2="922.26" stroke="#000" stroke-width="1.0"/>
<line x1="325.25" y1="922.26" x2="331.25" y2="922.26" stroke="#000" stroke-width="1.0"/>
<line x1="349.70" y1="915.17" x2="349.70" y2="913.04" stroke="#000" stroke-width="1.0"/>
<line x1="346.70" y1="913.04" x2="352.70" y2="913.04" stroke="#000" stroke-width="1.0"/>
<line x1="370.95" y1="914.28" x2="370.95" y2="911.98" stroke="#000" stroke-width="1.0"/>
<line x1="367.95" y1="911.98" x2="373.95" y2="911.98" stroke="#000" stroke-width="1.0"/>
<line x1="392.60" y1="911.62" x2="392.60" y2="909.85" stroke="#000" stroke-width="1.0"/>
<line x1="389.60" y1="909.85" x2="395.60" y2="909.85" stroke="#000" stroke-width="1.0"/>
<circle cx="306.80" cy="917.83" r="1.8" fill="#000"/>
<circle cx="303.47" cy="918.71" r="1.8" fill="#000"/>
<circle cx="309.88" cy="919.60" r="1.8" fill="#000"/>
<circle cx="303.20" cy="920.49" r="1.8" fill="#000"/>
<circle cx="306.80" cy="922.26" r="1.8" fill="#000"/>
<circle cx="303.72" cy="924.03" r="1.8" fill="#000"/>
<circle cx="306.80" cy="927.58" r="1.8" fill="#000"/>
<circle cx="303.72" cy="929.35" r="1.8" fill="#000"/>
<circle cx="306.80" cy="932.89" r="1.8" fill="#000"/>
<circle cx="328.25" cy="913.40" r="1.8" fill="#000"/>
<circle cx="329.85" cy="914.28" r="1.8" fill="#000"/>
<circle cx="325.17" cy="915.17" r="1.8" fill="#000"/>
<circle cx="328.25" cy="920.49" r="1.8" fill="#000"/>
<circle cx="325.17" cy="922.26" r="1.8" fill="#000"/>
<circle cx="328.25" cy="925.80" r="1.8" fill="#000"/>
<circle cx="328.25" cy="929.35" r="1.8" fill="#000"/>
<circle cx="328.25" cy="932.89" r="1.8" fill="#000"/>
<circle cx="328.25" cy="938.21" r="1.8" fill="#000"/>
<circle cx="328.25" cy="945.30" r="1.8" fill="#000"/>
<circle cx="349.70" cy="906.31" r="1.8" fill="#000"/>
<circle cx="346.62" cy="908.08" r="1.8" fill="#000"/>
<circle cx="349.70" cy="911.62" r="1.8" fill="#000"/>
<circle cx="346.62" cy="913.40" r="1.8" fill="#000"/>
<circle cx="349.70" cy="915.17" r="1.8" fill="#000"/>
<circle cx="346.62" cy="916.94" r="1.8" fill="#000"/>
<circle cx="349.70" cy="918.71" r="1.8" fill="#000"/>
<circle cx="349.70" cy="922.26" r="1.8" fill="#000"/>
<circle cx="351.83" cy="923.15" r="1.8" fill="#000"/>
<circle cx="346.62" cy="924.03" r="1.8" fill="#000"/>
<circle cx="370.95" cy="905.42" r="1.8" fill="#000"/>
<circle cx="367.87" cy="908.08" r="1.8" fill="#000"/>
<circle cx="370.95" cy="909.85" r="1.8" fill="#000"/>
<circle cx="367.87" cy="911.62" r="1.8" fill="#000"/>
<circle cx="370.95" cy="913.40" r="1.8" fill="#000"/>
<circle cx="367.87" cy="915.17" r="1.8" fill="#000"/>
<circle cx="370.95" cy="916.94" r="1.8" fill="#000"/>
<circle cx="367.87" cy="918.71" r="1.8" fill="#000"/>
<circle cx="370.95" cy="920.49" r="1.8" fill="#000"/>
<circle cx="367.87" cy="922.26" r="1.8" fill="#000"/>
<circle cx="370.95" cy="924.92" r="1.8" fill="#000"/>
<circle cx="392.60" cy="904.53" r="1.8" fill="#000"/>
<circle cx="389.52" cy="906.31" r="1.8" fill="#000"/>
<circle cx="392.60" cy="908.08" r="1.8" fill="#000"/>
<circle cx="389.52" cy="909.85" r="1.8" fill="#000"/>
<circle cx="395.68" cy="910.74" r="1.8" fill="#000"/>
<circle cx="389.95" cy="911.62" r="1.8" fill="#000"/>
<circle cx="394.19" cy="913.40" r="1.8" fill="#000"/>
<circle cx="388.60" cy="914.28" r="1.8" fill="#000"/>
<circle cx="393.84" cy="915.17" r="1.8" fill="#000"/>
<line x1="296.20" y1="893.90" x2="296.20" y2="964.80" stroke="#000" stroke-width="1.3"/>
<line x1="293.20" y1="964.80" x2="296.20" y2="964.80" stroke="#000" stroke-width="1.3"/>
<text x="291.80" y="968.31" font-size="9.8" font-weight="bold" text-anchor="end" fill="#000">0</text>
<line x1="293.20" y1="947.07" x2="296.20" y2="947.07" stroke="#000" stroke-width="1.3"/>
<text x="291.80" y="950.58" font-size="9.8" font-weight="bold" text-anchor="end" fill="#000">100</text>
<line x1="293.20" y1="929.35" x2="296.20" y2="929.35" stroke="#000" stroke-width="1.3"/>
<text x="291.80" y="932.86" font-size="9.8" font-weight="bold" text-anchor="end" fill="#000">200</text>
<line x1="293.20" y1="911.62" x2="296.20" y2="911.62" stroke="#000" stroke-width="1.3"/>
<text x="291.80" y="915.13" font-size="9.8" font-weight="bold" text-anchor="end" fill="#000">300</text>
<line x1="293.20" y1="893.90" x2="296.20" y2="893.90" stroke="#000" stroke-width="1.3"/>
<text x="291.80" y="897.41" font-size="9.8" font-weight="bold" text-anchor="end" fill="#000">400</text>
<line x1="296.20" y1="964.80" x2="403.90" y2="964.80" stroke="#000" stroke-width="1.3"/>
<line x1="306.80" y1="964.80" x2="306.80" y2="968.00" stroke="#000" stroke-width="1.3"/>
<line x1="328.25" y1="964.80" x2="328.25" y2="968.00" stroke="#000" stroke-width="1.3"/>
<line x1="349.70" y1="964.80" x2="349.70" y2="968.00" stroke="#000" stroke-width="1.3"/>
<line x1="370.95" y1="964.80" x2="370.95" y2="968.00" stroke="#000" stroke-width="1.3"/>
<line x1="392.60" y1="964.80" x2="392.60" y2="968.00" stroke="#000" stroke-width="1.3"/>
<text x="309.30" y="974.30" font-size="10.0" font-weight="bold" text-anchor="end" transform="rotate(-45 309.30 974.30)">Ctrl1<tspan font-size="6.0" dy="-3.6">~</tspan></text>
<text x="330.75" y="974.30" font-size="10.0" font-weight="bold" text-anchor="end" transform="rotate(-45 330.75 974.30)">MHS-P1</text>
<text x="352.20" y="974.30" font-size="10.0" font-weight="bold" text-anchor="end" transform="rotate(-45 352.20 974.30)">MHS-P2<tspan font-size="6.0" dy="-3.6">~</tspan></text>
<text x="373.45" y="974.30" font-size="10.0" font-weight="bold" text-anchor="end" transform="rotate(-45 373.45 974.30)">MHS-P3</text>
<text x="395.10" y="974.30" font-size="10.0" font-weight="bold" text-anchor="end" transform="rotate(-45 395.10 974.30)">MHS-P4</text>
<text x="307.20" y="908.66" font-size="10.5" text-anchor="middle" fill="#000" stroke="#000" stroke-width="0.38">9</text>
<text x="328.20" y="906.26" font-size="10.5" text-anchor="middle" fill="#000" stroke="#000" stroke-width="0.38">10</text>
<text x="348.70" y="901.16" font-size="10.5" text-anchor="middle" fill="#000" stroke="#000" stroke-width="0.38">10</text>
<text x="348.70" y="893.07" font-size="11.5" text-anchor="middle" fill="#000" stroke="#000" stroke-width="0.38">**</text>
<text x="370.10" y="899.76" font-size="10.5" text-anchor="middle" fill="#000" stroke="#000" stroke-width="0.38">11</text>
<text x="370.10" y="890.97" font-size="11.5" text-anchor="middle" fill="#000" stroke="#000" stroke-width="0.38">**</text>
<text x="392.20" y="899.76" font-size="10.5" text-anchor="middle" fill="#000" stroke="#000" stroke-width="0.38">9</text>
<text x="392.20" y="892.37" font-size="11.5" text-anchor="middle" fill="#000" stroke="#000" stroke-width="0.38">***</text>
<text x="260.34" y="969.67" font-size="9.90" textLength="85.41" lengthAdjust="spacingAndGlyphs" transform="rotate(-90 260.34 969.67)" stroke="#000" stroke-width="0.35">Peak NMDA EPSC</text>
<text x="271.21" y="961.41" font-size="9.90" textLength="70.53" lengthAdjust="spacingAndGlyphs" transform="rotate(-90 271.21 961.41)" stroke="#000" stroke-width="0.35">amplitude (pA)</text>
<rect x="479.00" y="914.59" width="31.50" height="54.61" fill="#000" stroke="#000" stroke-width="1.0"/>
<line x1="494.75" y1="914.59" x2="494.75" y2="907.60" stroke="#000" stroke-width="1.3"/>
<line x1="487.05" y1="907.60" x2="502.45" y2="907.60" stroke="#000" stroke-width="1.3"/>
<line x1="543.15" y1="895.76" x2="543.15" y2="893.07" stroke="#000" stroke-width="1.3"/>
<line x1="535.65" y1="893.07" x2="550.65" y2="893.07" stroke="#000" stroke-width="1.3"/>
<line x1="543.15" y1="895.76" x2="543.15" y2="897.38" stroke="#000" stroke-width="1.3"/>
<line x1="535.65" y1="897.38" x2="550.65" y2="897.38" stroke="#000" stroke-width="1.3"/>
<rect x="527.90" y="895.76" width="30.50" height="73.44" fill="none" stroke="#000" stroke-width="1.3"/>
<line x1="460.90" y1="888.50" x2="460.90" y2="969.20" stroke="#000" stroke-width="1.3"/>
<line x1="457.90" y1="969.20" x2="460.90" y2="969.20" stroke="#000" stroke-width="1.3"/>
<text x="456.50" y="972.60" font-size="9.5" font-weight="bold" text-anchor="end" fill="#000">0</text>
<line x1="457.90" y1="942.30" x2="460.90" y2="942.30" stroke="#000" stroke-width="1.3"/>
<text x="456.50" y="945.70" font-size="9.5" font-weight="bold" text-anchor="end" fill="#000">100</text>
<line x1="457.90" y1="915.40" x2="460.90" y2="915.40" stroke="#000" stroke-width="1.3"/>
<text x="456.50" y="918.80" font-size="9.5" font-weight="bold" text-anchor="end" fill="#000">200</text>
<line x1="457.90" y1="888.50" x2="460.90" y2="888.50" stroke="#000" stroke-width="1.3"/>
<text x="456.50" y="891.90" font-size="9.5" font-weight="bold" text-anchor="end" fill="#000">300</text>
<line x1="460.90" y1="969.20" x2="575.80" y2="969.20" stroke="#000" stroke-width="1.3"/>
<line x1="494.75" y1="969.20" x2="494.75" y2="972.40" stroke="#000" stroke-width="1.3"/>
<line x1="543.15" y1="969.20" x2="543.15" y2="972.40" stroke="#000" stroke-width="1.3"/>
<text x="494.40" y="902.78" font-size="10.0" font-weight="bold" text-anchor="middle" fill="#000">9</text>
<text x="543.30" y="888.38" font-size="10.0" font-weight="bold" text-anchor="middle" fill="#000">40</text>
<text x="543.30" y="877.65" font-size="10.3" text-anchor="middle" fill="#000" stroke="#000" stroke-width="0.38">***</text>
<text x="494.75" y="983.98" font-size="10.0" font-weight="bold" text-anchor="middle" fill="#000">Ctrl</text>
<text x="543.15" y="983.98" font-size="10.0" font-weight="bold" text-anchor="middle" fill="#000">MHS</text>
<text x="424.62" y="973.86" font-size="10.00" textLength="94.23" lengthAdjust="spacingAndGlyphs" transform="rotate(-90 424.62 973.86)" stroke="#000" stroke-width="0.35">Peak NMDA EPSC</text>
<text x="437.54" y="965.66" font-size="10.00" textLength="77.75" lengthAdjust="spacingAndGlyphs" transform="rotate(-90 437.54 965.66)" stroke="#000" stroke-width="0.35">amplitude (pA)</text>
<text x="572.98" y="715.22" font-size="18.2" font-weight="bold" text-anchor="start" fill="#000">L</text>
<rect x="605.90" y="770.35" width="10.00" height="35.45" fill="#333333" stroke="#000" stroke-width="1.2"/>
<rect x="621.25" y="769.94" width="10.00" height="35.86" fill="#ff2a0a" stroke="#000" stroke-width="1.2"/>
<rect x="636.85" y="770.35" width="10.00" height="35.45" fill="#ffff33" stroke="#000" stroke-width="1.2"/>
<rect x="652.15" y="770.35" width="10.00" height="35.45" fill="#1010ee" stroke="#000" stroke-width="1.2"/>
<rect x="667.05" y="770.35" width="10.00" height="35.45" fill="#33dd33" stroke="#000" stroke-width="1.2"/>
<line x1="610.90" y1="770.35" x2="610.90" y2="763.01" stroke="#000" stroke-width="1.0"/>
<line x1="607.90" y1="763.01" x2="613.90" y2="763.01" stroke="#000" stroke-width="1.0"/>
<line x1="626.25" y1="769.94" x2="626.25" y2="765.05" stroke="#000" stroke-width="1.0"/>
<line x1="623.25" y1="765.05" x2="629.25" y2="765.05" stroke="#000" stroke-width="1.0"/>
<line x1="641.85" y1="770.35" x2="641.85" y2="767.09" stroke="#000" stroke-width="1.0"/>
<line x1="638.85" y1="767.09" x2="644.85" y2="767.09" stroke="#000" stroke-width="1.0"/>
<line x1="657.15" y1="770.35" x2="657.15" y2="767.90" stroke="#000" stroke-width="1.0"/>
<line x1="654.15" y1="767.90" x2="660.15" y2="767.90" stroke="#000" stroke-width="1.0"/>
<line x1="672.05" y1="770.35" x2="672.05" y2="767.90" stroke="#000" stroke-width="1.0"/>
<line x1="669.05" y1="767.90" x2="675.05" y2="767.90" stroke="#000" stroke-width="1.0"/>
<circle cx="610.90" cy="724.30" r="1.0" fill="#000"/>
<circle cx="610.90" cy="754.86" r="1.0" fill="#000"/>
<circle cx="610.90" cy="769.12" r="1.0" fill="#000"/>
<circle cx="610.90" cy="771.16" r="1.0" fill="#000"/>
<circle cx="610.90" cy="773.20" r="1.0" fill="#000"/>
<circle cx="610.90" cy="781.35" r="1.0" fill="#000"/>
<circle cx="610.90" cy="787.46" r="1.0" fill="#000"/>
<circle cx="610.90" cy="791.54" r="1.0" fill="#000"/>
<circle cx="610.90" cy="795.61" r="1.0" fill="#000"/>
<circle cx="626.25" cy="754.86" r="1.0" fill="#000"/>
<circle cx="622.83" cy="754.86" r="1.0" fill="#000"/>
<circle cx="626.25" cy="765.05" r="1.0" fill="#000"/>
<circle cx="626.25" cy="769.12" r="1.0" fill="#000"/>
<circle cx="626.25" cy="771.16" r="1.0" fill="#000"/>
<circle cx="626.25" cy="773.20" r="1.0" fill="#000"/>
<circle cx="626.25" cy="775.24" r="1.0" fill="#000"/>
<circle cx="626.25" cy="777.27" r="1.0" fill="#000"/>
<circle cx="626.25" cy="783.39" r="1.0" fill="#000"/>
<circle cx="626.25" cy="787.46" r="1.0" fill="#000"/>
<circle cx="641.85" cy="758.94" r="1.0" fill="#000"/>
<circle cx="641.85" cy="765.05" r="1.0" fill="#000"/>
<circle cx="641.85" cy="767.09" r="1.0" fill="#000"/>
<circle cx="641.85" cy="769.12" r="1.0" fill="#000"/>
<circle cx="641.85" cy="771.16" r="1.0" fill="#000"/>
<circle cx="641.85" cy="773.20" r="1.0" fill="#000"/>
<circle cx="641.85" cy="775.24" r="1.0" fill="#000"/>
<circle cx="641.85" cy="777.27" r="1.0" fill="#000"/>
<circle cx="641.85" cy="785.42" r="1.0" fill="#000"/>
<circle cx="657.15" cy="754.86" r="1.0" fill="#000"/>
<circle cx="657.15" cy="767.09" r="1.0" fill="#000"/>
<circle cx="657.15" cy="769.12" r="1.0" fill="#000"/>
<circle cx="653.73" cy="769.94" r="1.0" fill="#000"/>
<circle cx="657.15" cy="771.16" r="1.0" fill="#000"/>
<circle cx="657.15" cy="773.20" r="1.0" fill="#000"/>
<circle cx="653.73" cy="774.01" r="1.0" fill="#000"/>
<circle cx="657.15" cy="775.24" r="1.0" fill="#000"/>
<circle cx="655.44" cy="776.46" r="1.0" fill="#000"/>
<circle cx="658.86" cy="777.27" r="1.0" fill="#000"/>
<circle cx="672.05" cy="763.01" r="1.0" fill="#000"/>
<circle cx="672.05" cy="765.05" r="1.0" fill="#000"/>
<circle cx="672.05" cy="767.09" r="1.0" fill="#000"/>
<circle cx="672.05" cy="769.12" r="1.0" fill="#000"/>
<circle cx="672.05" cy="771.16" r="1.0" fill="#000"/>
<circle cx="672.05" cy="773.20" r="1.0" fill="#000"/>
<circle cx="672.05" cy="775.24" r="1.0" fill="#000"/>
<circle cx="670.34" cy="776.46" r="1.0" fill="#000"/>
<circle cx="673.76" cy="777.27" r="1.0" fill="#000"/>
<line x1="601.60" y1="724.30" x2="601.60" y2="805.80" stroke="#000" stroke-width="1.3"/>
<line x1="598.60" y1="805.80" x2="601.60" y2="805.80" stroke="#000" stroke-width="1.3"/>
<text x="597.20" y="809.56" font-size="10.5" font-weight="bold" text-anchor="end" fill="#000">0</text>
<line x1="598.60" y1="765.05" x2="601.60" y2="765.05" stroke="#000" stroke-width="1.3"/>
<text x="597.20" y="768.81" font-size="10.5" font-weight="bold" text-anchor="end" fill="#000">1</text>
<line x1="598.60" y1="724.30" x2="601.60" y2="724.30" stroke="#000" stroke-width="1.3"/>
<text x="597.20" y="728.06" font-size="10.5" font-weight="bold" text-anchor="end" fill="#000">2</text>
<line x1="601.60" y1="805.80" x2="682.50" y2="805.80" stroke="#000" stroke-width="1.3"/>
<line x1="610.90" y1="805.80" x2="610.90" y2="809.00" stroke="#000" stroke-width="1.3"/>
<line x1="626.25" y1="805.80" x2="626.25" y2="809.00" stroke="#000" stroke-width="1.3"/>
<line x1="641.85" y1="805.80" x2="641.85" y2="809.00" stroke="#000" stroke-width="1.3"/>
<line x1="657.15" y1="805.80" x2="657.15" y2="809.00" stroke="#000" stroke-width="1.3"/>
<line x1="672.05" y1="805.80" x2="672.05" y2="809.00" stroke="#000" stroke-width="1.3"/>
<text x="613.40" y="815.30" font-size="10.3" stroke="#000" stroke-width="0.4" text-anchor="end" transform="rotate(-45 613.40 815.30)">Ctrl1<tspan font-size="6.2" dy="-3.7">~</tspan></text>
<text x="628.75" y="815.30" font-size="10.3" stroke="#000" stroke-width="0.4" text-anchor="end" transform="rotate(-45 628.75 815.30)">MHS-P1</text>
<text x="644.35" y="815.30" font-size="10.3" stroke="#000" stroke-width="0.4" text-anchor="end" transform="rotate(-45 644.35 815.30)">MHS-P2<tspan font-size="6.2" dy="-3.7">~</tspan></text>
<text x="659.65" y="815.30" font-size="10.3" stroke="#000" stroke-width="0.4" text-anchor="end" transform="rotate(-45 659.65 815.30)">MHS-P3</text>
<text x="674.55" y="815.30" font-size="10.3" stroke="#000" stroke-width="0.4" text-anchor="end" transform="rotate(-45 674.55 815.30)">MHS-P4</text>
<text x="611.10" y="720.74" font-size="11.0" text-anchor="middle" fill="#000" stroke="#000" stroke-width="0.38">9</text>
<text x="626.70" y="744.24" font-size="11.0" text-anchor="middle" fill="#000" stroke="#000" stroke-width="0.38">10</text>
<text x="641.80" y="748.44" font-size="11.0" text-anchor="middle" fill="#000" stroke="#000" stroke-width="0.38">9</text>
<text x="657.00" y="748.44" font-size="11.0" text-anchor="middle" fill="#000" stroke="#000" stroke-width="0.38">10</text>
<text x="672.00" y="749.64" font-size="11.0" text-anchor="middle" fill="#000" stroke="#000" stroke-width="0.38">9</text>
<text x="586.08" y="792.37" font-size="10.30" textLength="59.74" lengthAdjust="spacingAndGlyphs" transform="rotate(-90 586.08 792.37)" stroke="#000" stroke-width="0.35">AMPA/NMDA</text>
<rect x="624.00" y="904.85" width="15.60" height="58.55" fill="#000" stroke="#000" stroke-width="1.0"/>
<line x1="631.85" y1="904.85" x2="631.85" y2="892.60" stroke="#000" stroke-width="1.3"/>
<line x1="627.35" y1="892.60" x2="636.35" y2="892.60" stroke="#000" stroke-width="1.3"/>
<line x1="654.90" y1="905.52" x2="654.90" y2="902.60" stroke="#000" stroke-width="1.3"/>
<line x1="650.75" y1="902.60" x2="659.05" y2="902.60" stroke="#000" stroke-width="1.3"/>
<line x1="654.90" y1="905.52" x2="654.90" y2="906.80" stroke="#000" stroke-width="1.3"/>
<line x1="650.75" y1="906.80" x2="659.05" y2="906.80" stroke="#000" stroke-width="1.3"/>
<rect x="647.30" y="905.52" width="15.20" height="57.88" fill="none" stroke="#000" stroke-width="1.3"/>
<line x1="616.50" y1="881.70" x2="616.50" y2="963.40" stroke="#000" stroke-width="1.3"/>
<line x1="614.00" y1="963.40" x2="616.50" y2="963.40" stroke="#000" stroke-width="1.3"/>
<text x="610.70" y="967.05" font-size="10.2" font-weight="bold" text-anchor="end" fill="#000">0.0</text>
<line x1="614.00" y1="929.75" x2="616.50" y2="929.75" stroke="#000" stroke-width="1.3"/>
<text x="610.70" y="933.40" font-size="10.2" font-weight="bold" text-anchor="end" fill="#000">0.5</text>
<line x1="614.00" y1="896.10" x2="616.50" y2="896.10" stroke="#000" stroke-width="1.3"/>
<text x="610.70" y="899.75" font-size="10.2" font-weight="bold" text-anchor="end" fill="#000">1.0</text>
<line x1="616.50" y1="963.40" x2="671.00" y2="963.40" stroke="#000" stroke-width="1.3"/>
<line x1="631.85" y1="963.40" x2="631.85" y2="966.60" stroke="#000" stroke-width="1.3"/>
<line x1="654.90" y1="963.40" x2="654.90" y2="966.60" stroke="#000" stroke-width="1.3"/>
<text x="630.90" y="885.28" font-size="10.0" font-weight="bold" text-anchor="middle" fill="#000">9</text>
<text x="655.00" y="895.68" font-size="10.0" font-weight="bold" text-anchor="middle" fill="#000">38</text>
<text x="622.90" y="977.58" font-size="10.0" font-weight="bold" text-anchor="start" fill="#000" textLength="17.6" lengthAdjust="spacingAndGlyphs">Ctrl</text>
<text x="644.00" y="977.58" font-size="10.0" font-weight="bold" text-anchor="start" fill="#000" textLength="21.7" lengthAdjust="spacingAndGlyphs">MHS</text>
<text x="591.27" y="950.57" font-size="10.40" textLength="60.64" lengthAdjust="spacingAndGlyphs" transform="rotate(-90 591.27 950.57)" stroke="#000" stroke-width="0.35">AMPA/NMDA</text>
</svg>
</body></html>
